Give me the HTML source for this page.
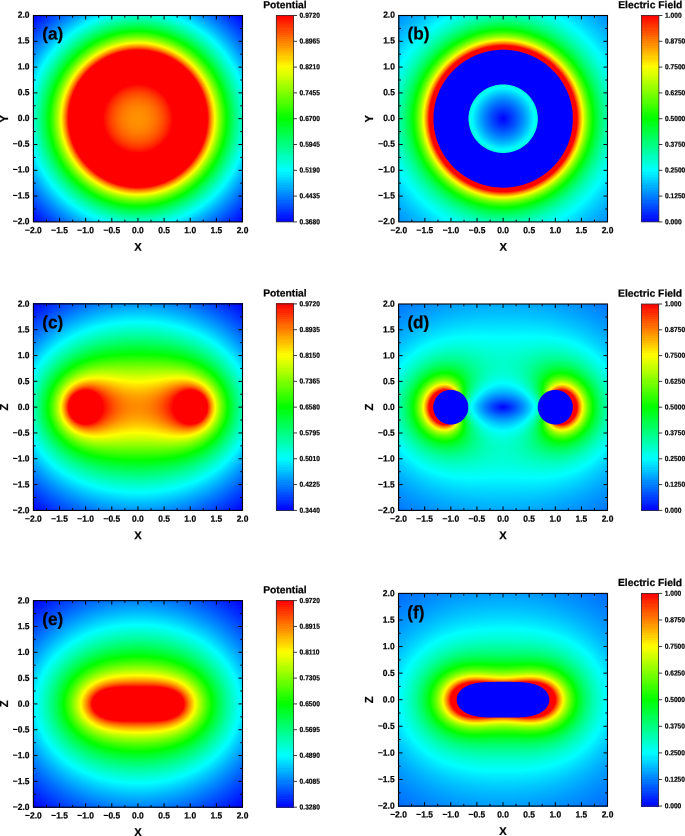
<!DOCTYPE html>
<html><head><meta charset="utf-8"><style>
html,body{margin:0;padding:0;background:#fff;}
body{width:685px;height:836px;position:relative;overflow:hidden;font-family:"Liberation Sans",sans-serif;}
#c{position:absolute;left:0;top:0;width:685px;height:836px;}
#s{position:absolute;left:0;top:0;}
#fb i{position:absolute;display:block;}
svg text{font-family:"Liberation Sans",sans-serif;font-weight:bold;fill:#000;stroke:#000;stroke-width:0.22px;}
</style></head><body>
<div id="fb">
<i style="top:15px;left:33px;width:210px;height:207px;background:radial-gradient(151.60px 149.64px at 104.95px 103.70px,#ff9200 0.00px,#ff8600 10.51px,#ff6700 20.01px,#ff3600 28.52px,#ff0000 35.02px,#ff0000 69.54px,#ff6400 72.05px,#ffd700 75.55px,#fcff00 77.05px,#8cff00 81.55px,#1eff00 87.06px,#03ff00 88.56px,#00ff4b 93.56px,#00ffb2 101.57px,#00feff 109.07px,#00a1ff 120.08px,#0048ff 133.59px,#0000ff 147.59px,#0000ff 151.60px)"></i>
<i style="top:15px;left:276px;width:18px;height:207px;background:linear-gradient(180deg,#ff0000 0.50px,#ffff00 52.10px,#00ff00 103.70px,#00ffff 155.30px,#0000ff 206.90px)"></i>
<i style="top:15px;left:398px;width:210px;height:207px;background:radial-gradient(151.31px 149.64px at 105.15px 103.70px,#0000ff 0.00px,#006eff 16.03px,#00c3ff 25.55px,#00feff 31.06px,#00ffdc 34.57px,#0000ff 35.07px,#0000ff 69.64px,#ff0000 70.14px,#ff0000 73.65px,#ff0c00 74.15px,#ff7400 76.15px,#ffdd00 78.66px,#fdff00 79.66px,#a0ff00 82.67px,#4aff00 86.18px,#05ff00 89.68px,#00ff0c 90.68px,#00ff5b 96.20px,#00ffa5 103.21px,#00ffe6 111.73px,#00feff 116.24px,#00c4ff 129.26px,#0092ff 146.80px,#0088ff 151.31px)"></i>
<i style="top:15px;left:641px;width:18px;height:207px;background:linear-gradient(180deg,#ff0000 0.50px,#ffff00 52.10px,#00ff00 103.70px,#00ffff 155.30px,#0000ff 206.90px)"></i>
<i style="top:303px;left:33px;width:210px;height:2px;background:linear-gradient(90deg,#0002ff 0.5px,#006dff 53.5px,#0093ff 89.5px,#0091ff 124.5px,#0065ff 161.5px,#0002ff 209.5px)"></i>
<i style="top:305px;left:33px;width:210px;height:2px;background:linear-gradient(90deg,#0008ff 0.5px,#0077ff 53.5px,#009dff 88.5px,#009cff 122.5px,#0073ff 158.5px,#0008ff 209.5px)"></i>
<i style="top:307px;left:33px;width:210px;height:2px;background:linear-gradient(90deg,#000eff 0.5px,#0080ff 53.5px,#00a8ff 88.5px,#00a7ff 122.5px,#007eff 157.5px,#000eff 209.5px)"></i>
<i style="top:309px;left:33px;width:210px;height:2px;background:linear-gradient(90deg,#0014ff 0.5px,#0088ff 52.5px,#00b1ff 86.5px,#00b3ff 120.5px,#008dff 154.5px,#0025ff 202.5px,#0014ff 209.5px)"></i>
<i style="top:311px;left:33px;width:210px;height:2px;background:linear-gradient(90deg,#001aff 0.5px,#0092ff 52.5px,#00bdff 86.5px,#00bfff 119.5px,#009bff 152.5px,#003bff 196.5px,#001aff 209.5px)"></i>
<i style="top:313px;left:33px;width:210px;height:2px;background:linear-gradient(90deg,#0020ff 0.5px,#009bff 51.5px,#00c7ff 84.5px,#00ccff 117.5px,#00a9ff 150.5px,#004fff 191.5px,#0020ff 209.5px)"></i>
<i style="top:315px;left:33px;width:210px;height:2px;background:linear-gradient(90deg,#0026ff 0.5px,#00a5ff 51.5px,#00d3ff 84.5px,#00d8ff 116.5px,#00b7ff 148.5px,#0061ff 187.5px,#0026ff 209.5px)"></i>
<i style="top:317px;left:33px;width:210px;height:2px;background:linear-gradient(90deg,#002dff 0.5px,#00aeff 50.5px,#00ddff 82.5px,#00e5ff 114.5px,#00c6ff 146.5px,#0077ff 182.5px,#002cff 209.5px)"></i>
<i style="top:319px;left:33px;width:210px;height:2px;background:linear-gradient(90deg,#0033ff 0.5px,#00b9ff 50.5px,#00e9ff 81.5px,#00f2ff 113.5px,#00d5ff 144.5px,#0088ff 179.5px,#0033ff 209.5px)"></i>
<i style="top:321px;left:33px;width:210px;height:2px;background:linear-gradient(90deg,#003aff 0.5px,#00c2ff 49.5px,#00f5ff 80.5px,#00fffe 110.5px,#00e9ff 139.5px,#00a7ff 171.5px,#0039ff 209.5px)"></i>
<i style="top:323px;left:33px;width:210px;height:2px;background:linear-gradient(90deg,#0040ff 0.5px,#00ceff 49.5px,#00fffe 78.5px,#00fff1 109.5px,#00f9ff 136.5px,#00bcff 167.5px,#0040ff 209.5px)"></i>
<i style="top:325px;left:33px;width:210px;height:2px;background:linear-gradient(90deg,#0047ff 0.5px,#00d7ff 48.5px,#00fffb 70.5px,#00ffe3 100.5px,#00fff0 130.5px,#00f9ff 145.5px,#00abff 177.5px,#0047ff 209.5px)"></i>
<i style="top:327px;left:33px;width:210px;height:2px;background:linear-gradient(90deg,#004eff 0.5px,#00e3ff 48.5px,#00fffc 62.5px,#00ffd8 91.5px,#00ffda 121.5px,#00faff 151.5px,#009dff 185.5px,#004dff 209.5px)"></i>
<i style="top:329px;left:33px;width:210px;height:2px;background:linear-gradient(90deg,#0055ff 0.5px,#00f0ff 48.5px,#00fff8 57.5px,#00ffce 85.5px,#00ffc9 115.5px,#00ffe9 144.5px,#00faff 157.5px,#0084ff 195.5px,#0054ff 209.5px)"></i>
<i style="top:331px;left:33px;width:210px;height:2px;background:linear-gradient(90deg,#005cff 0.5px,#00faff 47.5px,#00ffc4 80.5px,#00ffb8 110.5px,#00ffd2 139.5px,#00faff 162.5px,#005bff 209.5px)"></i>
<i style="top:333px;left:33px;width:210px;height:2px;background:linear-gradient(90deg,#0063ff 0.5px,#00feff 44.5px,#00ffc0 72.5px,#00ffa9 101.5px,#00ffb7 130.5px,#00ffea 157.5px,#00f8ff 167.5px,#0062ff 209.5px)"></i>
<i style="top:335px;left:33px;width:210px;height:2px;background:linear-gradient(90deg,#006aff 0.5px,#00fffc 41.5px,#00ffb9 67.5px,#00ff9b 95.5px,#00ffa2 125.5px,#00ffcc 151.5px,#00fbff 170.5px,#006aff 209.5px)"></i>
<i style="top:337px;left:33px;width:210px;height:2px;background:linear-gradient(90deg,#0071ff 0.5px,#00fffd 37.5px,#00ffb2 63.5px,#00ff8f 89.5px,#00ff8e 119.5px,#00ffb0 145.5px,#00fff9 171.5px,#00d8ff 183.5px,#0071ff 209.5px)"></i>
<i style="top:339px;left:33px;width:210px;height:2px;background:linear-gradient(90deg,#0079ff 0.5px,#00fffb 34.5px,#00ffa9 60.5px,#00ff82 85.5px,#00ff7c 115.5px,#00ff9a 142.5px,#00ffde 167.5px,#00fbff 177.5px,#0078ff 209.5px)"></i>
<i style="top:341px;left:33px;width:210px;height:2px;background:linear-gradient(90deg,#0080ff 0.5px,#00fffe 30.5px,#00ffa3 56.5px,#00ff76 80.5px,#00ff6a 110.5px,#00ff83 138.5px,#00ffbe 162.5px,#00fcff 180.5px,#0080ff 209.5px)"></i>
<i style="top:343px;left:33px;width:210px;height:2px;background:linear-gradient(90deg,#0088ff 0.5px,#00fffa 28.5px,#00ff99 54.5px,#00ff69 77.5px,#00ff59 106.5px,#00ff6c 134.5px,#00ff9f 157.5px,#00fbff 183.5px,#0087ff 209.5px)"></i>
<i style="top:345px;left:33px;width:210px;height:2px;background:linear-gradient(90deg,#008fff 0.5px,#00fffb 25.5px,#00ff91 51.5px,#00ff5d 73.5px,#00ff48 101.5px,#00ff56 131.5px,#00ff85 154.5px,#00ffe0 178.5px,#00f9ff 186.5px,#008fff 209.5px)"></i>
<i style="top:347px;left:33px;width:210px;height:2px;background:linear-gradient(90deg,#0097ff 0.5px,#00fffd 22.5px,#00ff87 49.5px,#00ff50 70.5px,#00ff37 97.5px,#00ff41 128.5px,#00ff6b 151.5px,#00ffbc 173.5px,#00fcff 188.5px,#0096ff 209.5px)"></i>
<i style="top:349px;left:33px;width:210px;height:2px;background:linear-gradient(90deg,#009fff 0.5px,#00fffb 20.5px,#00ff7d 47.5px,#00ff43 67.5px,#00ff27 92.5px,#00ff2c 124.5px,#00ff4f 147.5px,#00ff92 167.5px,#00fdff 190.5px,#009eff 209.5px)"></i>
<i style="top:351px;left:33px;width:210px;height:2px;background:linear-gradient(90deg,#00a6ff 0.5px,#00fffa 18.5px,#00ff70 46.5px,#00ff35 65.5px,#00ff17 89.5px,#00ff19 123.5px,#00ff39 146.5px,#00ff78 165.5px,#00feff 192.5px,#00a6ff 209.5px)"></i>
<i style="top:353px;left:33px;width:210px;height:2px;background:linear-gradient(90deg,#00aeff 0.5px,#00ffff 15.5px,#00ff62 45.5px,#00ff23 64.5px,#00ff05 87.5px,#00ff05 122.5px,#00ff24 145.5px,#00ff62 164.5px,#00feff 194.5px,#00aeff 209.5px)"></i>
<i style="top:355px;left:33px;width:210px;height:2px;background:linear-gradient(90deg,#00b6ff 0.5px,#00fffa 14.5px,#00ff54 44.5px,#00ff14 62.5px,#04ff00 75.5px,#12ff00 107.5px,#00ff05 140.5px,#00ff36 158.5px,#00ff97 178.5px,#00feff 196.5px,#00b6ff 209.5px)"></i>
<i style="top:357px;left:33px;width:210px;height:2px;background:linear-gradient(90deg,#00beff 0.5px,#00fffb 12.5px,#00ff45 43.5px,#00ff04 60.5px,#20ff00 85.5px,#1fff00 125.5px,#03ff00 146.5px,#00ff26 159.5px,#00ff8d 179.5px,#00fdff 198.5px,#00bdff 209.5px)"></i>
<i style="top:359px;left:33px;width:210px;height:2px;background:linear-gradient(90deg,#00c6ff 0.5px,#00fffc 10.5px,#00ff31 43.5px,#02ff00 55.5px,#29ff00 72.5px,#37ff00 104.5px,#2aff00 136.5px,#05ff00 153.5px,#00ff15 160.5px,#00ff7d 179.5px,#00fbff 200.5px,#00c5ff 209.5px)"></i>
<i style="top:361px;left:33px;width:210px;height:2px;background:linear-gradient(90deg,#00ceff 0.5px,#00ffff 8.5px,#00ff1c 43.5px,#06ff00 50.5px,#34ff00 65.5px,#49ff00 88.5px,#42ff00 133.5px,#22ff00 151.5px,#00ff04 161.5px,#00ff73 180.5px,#00feff 201.5px,#00cdff 209.5px)"></i>
<i style="top:363px;left:33px;width:210px;height:2px;background:linear-gradient(90deg,#00d6ff 0.5px,#00fffc 7.5px,#00ff0c 42.5px,#04ff00 45.5px,#3dff00 59.5px,#59ff00 77.5px,#59ff00 132.5px,#3dff00 150.5px,#00ff02 165.5px,#00ff9b 188.5px,#00fbff 203.5px,#00d5ff 209.5px)"></i>
<i style="top:365px;left:33px;width:210px;height:2px;background:linear-gradient(90deg,#00deff 0.5px,#00feff 5.5px,#00ff02 40.5px,#49ff00 55.5px,#69ff00 70.5px,#70ff00 121.5px,#62ff00 144.5px,#39ff00 158.5px,#00ff03 169.5px,#00feff 204.5px,#00ddff 209.5px)"></i>
<i style="top:367px;left:33px;width:210px;height:2px;background:linear-gradient(90deg,#00e5ff 0.5px,#00fffd 4.5px,#00ff01 37.5px,#53ff00 51.5px,#79ff00 64.5px,#85ff00 87.5px,#7fff00 141.5px,#5fff00 155.5px,#1aff00 168.5px,#00ff01 172.5px,#00fffe 205.5px,#00e5ff 209.5px)"></i>
<i style="top:369px;left:33px;width:210px;height:2px;background:linear-gradient(90deg,#00edff 0.5px,#00fffc 3.5px,#00ff34 28.5px,#00ff02 34.5px,#64ff00 49.5px,#8eff00 61.5px,#9aff00 79.5px,#95ff00 143.5px,#76ff00 156.5px,#33ff00 168.5px,#00ff03 175.5px,#00fff5 205.5px,#00edff 209.5px)"></i>
<i style="top:371px;left:33px;width:210px;height:2px;background:linear-gradient(90deg,#00f5ff 0.5px,#00fff3 3.5px,#00ff3c 25.5px,#03ff00 32.5px,#6fff00 46.5px,#a0ff00 57.5px,#b1ff00 71.5px,#acff00 119.5px,#adff00 145.5px,#8eff00 157.5px,#4cff00 168.5px,#02ff00 177.5px,#00ffe5 204.5px,#00fbff 208.5px,#00f4ff 209.5px)"></i>
<i style="top:373px;left:33px;width:210px;height:2px;background:linear-gradient(90deg,#00fcff 0.5px,#00ff7f 16.5px,#00ff04 29.5px,#85ff00 45.5px,#b7ff00 55.5px,#caff00 67.5px,#bdff00 113.5px,#c8ff00 145.5px,#b0ff00 156.5px,#77ff00 166.5px,#00ff05 180.5px,#00ffcd 202.5px,#00fcff 209.5px)"></i>
<i style="top:375px;left:33px;width:210px;height:2px;background:linear-gradient(90deg,#00fffa 0.5px,#00ff5f 18.5px,#00ff04 27.5px,#9dff00 44.5px,#d0ff00 53.5px,#e5ff00 64.5px,#ceff00 108.5px,#e3ff00 147.5px,#ccff00 157.5px,#94ff00 166.5px,#00ff05 182.5px,#00ffbb 201.5px,#00fffb 209.5px)"></i>
<i style="top:377px;left:33px;width:210px;height:2px;background:linear-gradient(90deg,#00fff3 0.5px,#00ff5b 17.5px,#05ff00 26.5px,#acff00 42.5px,#e9ff00 51.5px,#fffe00 59.5px,#f6ff00 76.5px,#dfff00 104.5px,#f3ff00 131.5px,#fffd00 148.5px,#f1ff00 156.5px,#bcff00 165.5px,#3bff00 178.5px,#04ff00 183.5px,#00ffc3 203.5px,#00fff4 209.5px)"></i>
<i style="top:379px;left:33px;width:210px;height:2px;background:linear-gradient(90deg,#00ffec 0.5px,#00ff58 16.5px,#01ff00 24.5px,#cdff00 42.5px,#fdff00 48.5px,#ffdf00 57.5px,#ffe700 70.5px,#faff00 88.5px,#f2ff00 111.5px,#fffa00 128.5px,#ffdd00 149.5px,#ffed00 157.5px,#fdff00 161.5px,#aeff00 170.5px,#00ff01 185.5px,#00ffa8 201.5px,#00ffed 209.5px)"></i>
<i style="top:381px;left:33px;width:210px;height:2px;background:linear-gradient(90deg,#00ffe5 0.5px,#00ff56 15.5px,#00ff06 22.5px,#38ff00 27.5px,#f1ff00 42.5px,#fffa00 44.5px,#ffc900 51.5px,#ffba00 59.5px,#fff900 95.5px,#fff800 116.5px,#ffba00 150.5px,#ffca00 158.5px,#faff00 166.5px,#5dff00 179.5px,#05ff00 186.5px,#00ffbb 204.5px,#00ffe6 209.5px)"></i>
<i style="top:383px;left:33px;width:210px;height:1px;background:linear-gradient(90deg,#00ffe0 0.5px,#00ff58 14.5px,#00ff06 21.5px,#2dff00 25.5px,#f6ff00 40.5px,#fff100 42.5px,#ffb400 49.5px,#ff9e00 56.5px,#ffb100 67.5px,#ffe700 90.5px,#fff000 110.5px,#ffd200 130.5px,#ff9e00 151.5px,#ffaa00 158.5px,#ffdd00 165.5px,#fffd00 168.5px,#05ff00 187.5px,#00ffb5 204.5px,#00ffe1 209.5px)"></i>
<i style="top:384px;left:33px;width:210px;height:1px;background:linear-gradient(90deg,#00ffdd 0.5px,#00ff53 14.5px,#02ff00 21.5px,#fcff00 39.5px,#ffac00 47.5px,#ff8d00 53.5px,#ff9100 61.5px,#ffda00 87.5px,#ffea00 106.5px,#ffd400 125.5px,#ff8b00 151.5px,#ff9400 158.5px,#ffbe00 164.5px,#faff00 170.5px,#00ff00 188.5px,#00ff94 201.5px,#00ffde 209.5px)"></i>
<i style="top:385px;left:33px;width:210px;height:1px;background:linear-gradient(90deg,#00ffda 0.5px,#00ff4d 14.5px,#00ff04 20.5px,#89ff00 30.5px,#fffe00 38.5px,#ffa700 45.5px,#ff7d00 51.5px,#ff7800 58.5px,#ffcf00 86.5px,#ffe200 104.5px,#ffd100 122.5px,#ff9400 142.5px,#ff7500 153.5px,#ff8200 159.5px,#ffb200 165.5px,#ffff00 171.5px,#08ff00 188.5px,#00ff12 190.5px,#00ffa4 203.5px,#00ffdb 209.5px)"></i>
<i style="top:386px;left:33px;width:210px;height:1px;background:linear-gradient(90deg,#00ffd7 0.5px,#00ff54 13.5px,#04ff00 20.5px,#d4ff00 34.5px,#fffb00 37.5px,#ff8f00 45.5px,#ff6900 50.5px,#ff5f00 56.5px,#ff9700 71.5px,#ffcb00 88.5px,#ffdb00 106.5px,#ffc400 124.5px,#ff8600 142.5px,#ff5f00 153.5px,#ff6900 159.5px,#ff9000 164.5px,#fffc00 172.5px,#02ff00 189.5px,#00ffa0 203.5px,#00ffd8 209.5px)"></i>
<i style="top:387px;left:33px;width:210px;height:1px;background:linear-gradient(90deg,#00ffd4 0.5px,#00ff4f 13.5px,#00ff03 19.5px,#91ff00 29.5px,#f4ff00 35.5px,#fff900 36.5px,#ff8200 44.5px,#ff5400 49.5px,#ff4700 54.5px,#ff6000 62.5px,#ffae00 80.5px,#ffd100 97.5px,#ffcf00 114.5px,#ffa700 131.5px,#ff4900 153.5px,#ff4b00 158.5px,#ff6d00 163.5px,#ffbb00 169.5px,#fffb00 173.5px,#09ff00 189.5px,#00ff11 191.5px,#00ff9c 203.5px,#00ffd5 209.5px)"></i>
<i style="top:388px;left:33px;width:210px;height:1px;background:linear-gradient(90deg,#00ffd2 0.5px,#00ff4a 13.5px,#04ff00 19.5px,#aeff00 30.5px,#fff900 35.5px,#ff7600 43.5px,#ff4000 48.5px,#ff2d00 53.5px,#ff4300 60.5px,#ff9e00 78.5px,#ffc600 94.5px,#ffcb00 111.5px,#ffab00 127.5px,#ff6a00 142.5px,#ff3100 153.5px,#ff3000 158.5px,#ff5300 163.5px,#ffa500 169.5px,#fffb00 174.5px,#1fff00 188.5px,#03ff00 190.5px,#00ff99 203.5px,#00ffd3 209.5px)"></i>
<i style="top:389px;left:33px;width:210px;height:1px;background:linear-gradient(90deg,#00ffcf 0.5px,#00ff51 12.5px,#00ff04 18.5px,#76ff00 26.5px,#fffb00 34.5px,#ff5d00 43.5px,#ff2300 48.5px,#ff1200 52.5px,#ff2400 58.5px,#ff8800 75.5px,#ffb900 90.5px,#ffc700 106.5px,#ffb200 122.5px,#ff7900 137.5px,#ff1600 154.5px,#ff1700 159.5px,#ff3600 163.5px,#ff8f00 169.5px,#fffc00 175.5px,#35ff00 187.5px,#00ff05 191.5px,#00ff8b 202.5px,#00ffd0 209.5px)"></i>
<i style="top:390px;left:33px;width:210px;height:1px;background:linear-gradient(90deg,#00ffcc 0.5px,#00ff4d 12.5px,#02ff00 18.5px,#a3ff00 28.5px,#fffe00 33.5px,#ff4100 43.5px,#ff0000 48.5px,#ff0000 57.5px,#ff2c00 62.5px,#ff7f00 75.5px,#ffb000 89.5px,#ffc100 105.5px,#ffad00 121.5px,#ff7900 135.5px,#ff2300 148.5px,#ff0000 152.5px,#ff0000 161.5px,#ff5400 167.5px,#feff00 176.5px,#4cff00 186.5px,#01ff00 191.5px,#00ff92 203.5px,#00ffcd 209.5px)"></i>
<i style="top:391px;left:33px;width:210px;height:1px;background:linear-gradient(90deg,#00ffca 0.5px,#00ff48 12.5px,#00ff06 17.5px,#26ff00 20.5px,#c0ff00 29.5px,#fbff00 32.5px,#ff2500 43.5px,#ff0000 45.5px,#ff0000 59.5px,#ff5f00 71.5px,#ff9b00 84.5px,#ffb900 99.5px,#ffb300 115.5px,#ff8800 130.5px,#ff4300 142.5px,#ff0000 150.5px,#ff0000 164.5px,#fff100 176.5px,#f9ff00 177.5px,#54ff00 186.5px,#07ff00 191.5px,#00ff23 194.5px,#00ffa4 205.5px,#00ffcb 209.5px)"></i>
<i style="top:392px;left:33px;width:210px;height:1px;background:linear-gradient(90deg,#00ffc8 0.5px,#00ff44 12.5px,#00ff01 17.5px,#92ff00 26.5px,#f4ff00 31.5px,#fff500 32.5px,#ff0000 43.5px,#ff0000 61.5px,#ff5500 71.5px,#ff9100 83.5px,#ffb200 98.5px,#ffae00 114.5px,#ff8900 128.5px,#ff4600 140.5px,#ff0000 148.5px,#ff0000 166.5px,#ff4700 169.5px,#fff700 177.5px,#deff00 179.5px,#3bff00 188.5px,#00ff02 192.5px,#00ff8c 203.5px,#00ffc9 209.5px)"></i>
<i style="top:393px;left:33px;width:210px;height:1px;background:linear-gradient(90deg,#00ffc6 0.5px,#00ff40 12.5px,#04ff00 17.5px,#9bff00 26.5px,#fffd00 31.5px,#ff0000 42.5px,#ff0000 63.5px,#ff2c00 67.5px,#ff6f00 77.5px,#ff9f00 90.5px,#ffb000 105.5px,#ff9d00 120.5px,#ff6a00 133.5px,#ff2200 143.5px,#ff0000 146.5px,#ff0000 167.5px,#ffff00 178.5px,#63ff00 186.5px,#03ff00 192.5px,#00ff94 204.5px,#00ffc6 209.5px)"></i>
<i style="top:394px;left:33px;width:210px;height:1px;background:linear-gradient(90deg,#00ffc3 0.5px,#00ff4a 11.5px,#00ff06 16.5px,#38ff00 20.5px,#ccff00 28.5px,#f7ff00 30.5px,#ffd900 32.5px,#ff1000 40.5px,#ff0000 41.5px,#ff0000 64.5px,#ff4200 71.5px,#ff8000 82.5px,#ffa500 96.5px,#ffa800 111.5px,#ff8700 125.5px,#ff4900 137.5px,#ff0d00 144.5px,#ff0000 145.5px,#ff0000 168.5px,#ff4600 171.5px,#fff200 178.5px,#f5ff00 179.5px,#58ff00 187.5px,#08ff00 192.5px,#00ff15 194.5px,#00ff9c 205.5px,#00ffc4 209.5px)"></i>
<i style="top:395px;left:33px;width:210px;height:1px;background:linear-gradient(90deg,#00ffc2 0.5px,#00ff46 11.5px,#00ff01 16.5px,#85ff00 24.5px,#fffb00 30.5px,#ff4900 37.5px,#ff1100 39.5px,#ff0000 40.5px,#ff0000 65.5px,#ff4200 72.5px,#ff7e00 83.5px,#ffa200 97.5px,#ffa200 112.5px,#ff7d00 126.5px,#ff4100 137.5px,#ff0000 144.5px,#ff0000 169.5px,#ff3000 171.5px,#ffe600 178.5px,#fffd00 179.5px,#5fff00 187.5px,#00ff03 193.5px,#00ff84 203.5px,#00ffc3 209.5px)"></i>
<i style="top:396px;left:33px;width:210px;height:1px;background:linear-gradient(90deg,#00ffc0 0.5px,#00ff43 11.5px,#03ff00 16.5px,#8cff00 24.5px,#f6ff00 29.5px,#ffd800 31.5px,#ff1600 38.5px,#ff0000 39.5px,#ff0000 66.5px,#ff3a00 72.5px,#ff7800 83.5px,#ff9e00 97.5px,#ff9d00 112.5px,#ff7800 126.5px,#ff3900 137.5px,#ff0000 143.5px,#ff0000 170.5px,#ffda00 178.5px,#fff300 179.5px,#f4ff00 180.5px,#64ff00 187.5px,#01ff00 193.5px,#00ff8d 204.5px,#00ffc1 209.5px)"></i>
<i style="top:397px;left:33px;width:210px;height:1px;background:linear-gradient(90deg,#00ffbe 0.5px,#00ff41 11.5px,#00ff09 15.5px,#16ff00 17.5px,#a7ff00 25.5px,#fffe00 29.5px,#ff5d00 35.5px,#ff0000 38.5px,#ff0000 66.5px,#ff4f00 76.5px,#ff8600 88.5px,#ff9e00 102.5px,#ff9200 116.5px,#ff6500 129.5px,#ff2200 139.5px,#ff0000 143.5px,#ff0000 171.5px,#ff9900 176.5px,#fdff00 180.5px,#6aff00 187.5px,#05ff00 193.5px,#00ff96 205.5px,#00ffbf 209.5px)"></i>
<i style="top:398px;left:33px;width:210px;height:1px;background:linear-gradient(90deg,#00ffbd 0.5px,#00ff3e 11.5px,#00ff05 15.5px,#3bff00 19.5px,#c3ff00 26.5px,#f1ff00 28.5px,#fff500 29.5px,#ff6c00 34.5px,#ff2c00 36.5px,#ff0000 37.5px,#ff0000 67.5px,#ff4a00 76.5px,#ff8200 88.5px,#ff9a00 102.5px,#ff8f00 116.5px,#ff6000 129.5px,#ff1c00 139.5px,#ff0000 142.5px,#ff0000 171.5px,#ff0e00 172.5px,#ffa900 177.5px,#fff800 180.5px,#c1ff00 183.5px,#39ff00 190.5px,#08ff00 193.5px,#00ff16 195.5px,#00ff94 205.5px,#00ffbe 209.5px)"></i>
<i style="top:399px;left:33px;width:210px;height:1px;background:linear-gradient(90deg,#00ffbb 0.5px,#00ff3c 11.5px,#00ff03 15.5px,#76ff00 22.5px,#f8ff00 28.5px,#ffd300 30.5px,#ff3d00 35.5px,#ff0000 37.5px,#ff0400 68.5px,#ff4b00 77.5px,#ff8100 89.5px,#ff9700 103.5px,#ff8900 117.5px,#ff5c00 129.5px,#ff1600 139.5px,#ff0000 141.5px,#ff0000 172.5px,#ffba00 178.5px,#ffef00 180.5px,#f6ff00 181.5px,#74ff00 187.5px,#0bff00 193.5px,#00ff04 194.5px,#00ff87 204.5px,#00ffbc 209.5px)"></i>
<i style="top:400px;left:33px;width:210px;height:1px;background:linear-gradient(90deg,#00ffba 0.5px,#00ff3a 11.5px,#00ff00 15.5px,#7aff00 22.5px,#ffff00 28.5px,#ff7200 33.5px,#ff2f00 35.5px,#ff0000 36.5px,#ff0000 68.5px,#ff4d00 78.5px,#ff8100 90.5px,#ff9500 104.5px,#ff8300 118.5px,#ff5300 130.5px,#ff0800 140.5px,#ff0000 142.5px,#ff0000 172.5px,#ff0f00 173.5px,#ffb100 178.5px,#fdff00 181.5px,#78ff00 187.5px,#00ff01 194.5px,#00ff86 204.5px,#00ffbb 209.5px)"></i>
<i style="top:401px;left:33px;width:210px;height:1px;background:linear-gradient(90deg,#00ffb9 0.5px,#00ff38 11.5px,#02ff00 15.5px,#7dff00 22.5px,#ecff00 27.5px,#fff900 28.5px,#ff6800 33.5px,#ff0000 36.5px,#ff0000 68.5px,#ff5500 80.5px,#ff8400 92.5px,#ff9200 106.5px,#ff7b00 120.5px,#ff4300 132.5px,#ff0000 141.5px,#ff0000 173.5px,#ff8b00 177.5px,#fffb00 181.5px,#68ff00 188.5px,#01ff00 194.5px,#00ff84 204.5px,#00ffba 209.5px)"></i>
<i style="top:402px;left:33px;width:210px;height:1px;background:linear-gradient(90deg,#00ffb8 0.5px,#00ff36 11.5px,#04ff00 15.5px,#80ff00 22.5px,#f1ff00 27.5px,#fff400 28.5px,#ff5f00 33.5px,#ff1700 35.5px,#ff0000 36.5px,#ff0000 69.5px,#ff4700 78.5px,#ff7c00 90.5px,#ff9000 104.5px,#ff7e00 118.5px,#ff4c00 130.5px,#ff0b00 139.5px,#ff0000 140.5px,#ff0000 173.5px,#ff1a00 174.5px,#ffa200 178.5px,#fff600 181.5px,#d6ff00 183.5px,#58ff00 189.5px,#03ff00 194.5px,#00ff8f 205.5px,#00ffb9 209.5px)"></i>
<i style="top:403px;left:33px;width:210px;height:1px;background:linear-gradient(90deg,#00ffb8 0.5px,#00ff35 11.5px,#06ff00 15.5px,#83ff00 22.5px,#f5ff00 27.5px,#ffef00 28.5px,#ff7900 32.5px,#ff0d00 35.5px,#ff0000 36.5px,#ff0000 69.5px,#ff4b00 79.5px,#ff7d00 91.5px,#ff8f00 105.5px,#ff7a00 119.5px,#ff4400 131.5px,#ff0000 140.5px,#ff0000 173.5px,#ff1100 174.5px,#ff9c00 178.5px,#fff200 181.5px,#f2ff00 182.5px,#6dff00 188.5px,#04ff00 194.5px,#00ff99 206.5px,#00ffb9 209.5px)"></i>
<i style="top:404px;left:33px;width:210px;height:1px;background:linear-gradient(90deg,#00ffb7 0.5px,#00ff42 10.5px,#00ff09 14.5px,#17ff00 16.5px,#9aff00 23.5px,#f8ff00 27.5px,#ffd000 29.5px,#ff5100 33.5px,#ff0000 35.5px,#ff0000 69.5px,#ff4f00 80.5px,#ff7e00 92.5px,#ff8d00 106.5px,#ff7800 119.5px,#ff4200 131.5px,#ff0000 140.5px,#ff0000 174.5px,#ff3000 175.5px,#ffb600 179.5px,#ffef00 181.5px,#f5ff00 182.5px,#6fff00 188.5px,#05ff00 194.5px,#00ff98 206.5px,#00ffb8 209.5px)"></i>
<i style="top:405px;left:33px;width:210px;height:1px;background:linear-gradient(90deg,#00ffb7 0.5px,#00ff41 10.5px,#00ff08 14.5px,#18ff00 16.5px,#9bff00 23.5px,#faff00 27.5px,#ffb000 30.5px,#ff2800 34.5px,#ff0000 35.5px,#ff0000 69.5px,#ff5300 81.5px,#ff8000 93.5px,#ff8c00 107.5px,#ff7400 120.5px,#ff3b00 132.5px,#ff0000 140.5px,#ff0000 174.5px,#ff5100 176.5px,#ffd100 180.5px,#f7ff00 182.5px,#70ff00 188.5px,#06ff00 194.5px,#00ff43 199.5px,#00ffb8 209.5px)"></i>
<i style="top:406px;left:33px;width:210px;height:1px;background:linear-gradient(90deg,#00ffb7 0.5px,#00ff41 10.5px,#00ff07 14.5px,#18ff00 16.5px,#9cff00 23.5px,#fbff00 27.5px,#ffaf00 30.5px,#ff2600 34.5px,#ff0000 35.5px,#ff0000 69.5px,#ff5200 81.5px,#ff7f00 93.5px,#ff8c00 107.5px,#ff7400 120.5px,#ff3a00 132.5px,#ff0000 140.5px,#ff0000 174.5px,#ff7200 177.5px,#ffeb00 181.5px,#f8ff00 182.5px,#71ff00 188.5px,#07ff00 194.5px,#00ff35 198.5px,#00ffad 208.5px,#00ffb8 209.5px)"></i>
<i style="top:407px;left:33px;width:210px;height:1px;background:linear-gradient(90deg,#00ffb7 0.5px,#00ff41 10.5px,#00ff07 14.5px,#18ff00 16.5px,#9cff00 23.5px,#fbff00 27.5px,#ffaf00 30.5px,#ff2500 34.5px,#ff0000 35.5px,#ff0500 70.5px,#ff5200 81.5px,#ff7f00 93.5px,#ff8b00 107.5px,#ff7400 120.5px,#ff3a00 132.5px,#ff0000 140.5px,#ff0000 174.5px,#ff7200 177.5px,#ffeb00 181.5px,#f8ff00 182.5px,#71ff00 188.5px,#07ff00 194.5px,#00ff35 198.5px,#00ffad 208.5px,#00ffb8 209.5px)"></i>
<i style="top:408px;left:33px;width:210px;height:1px;background:linear-gradient(90deg,#00ffb7 0.5px,#00ff41 10.5px,#00ff08 14.5px,#18ff00 16.5px,#9cff00 23.5px,#faff00 27.5px,#ffb000 30.5px,#ff2700 34.5px,#ff0000 35.5px,#ff0000 69.5px,#ff5300 81.5px,#ff7f00 93.5px,#ff8c00 107.5px,#ff7400 120.5px,#ff3b00 132.5px,#ff0000 140.5px,#ff0000 174.5px,#ff7300 177.5px,#ffec00 181.5px,#f8ff00 182.5px,#70ff00 188.5px,#06ff00 194.5px,#00ff35 198.5px,#00ffad 208.5px,#00ffb8 209.5px)"></i>
<i style="top:409px;left:33px;width:210px;height:1px;background:linear-gradient(90deg,#00ffb7 0.5px,#00ff42 10.5px,#00ff08 14.5px,#17ff00 16.5px,#9aff00 23.5px,#f8ff00 27.5px,#ffd000 29.5px,#ff5000 33.5px,#ff0000 35.5px,#ff0000 69.5px,#ff5400 81.5px,#ff8000 93.5px,#ff8d00 107.5px,#ff7500 120.5px,#ff3c00 132.5px,#ff0000 140.5px,#ff0000 174.5px,#ff2f00 175.5px,#ffb500 179.5px,#ffee00 181.5px,#f6ff00 182.5px,#6fff00 188.5px,#06ff00 194.5px,#00ff6a 202.5px,#00ffb8 209.5px)"></i>
<i style="top:410px;left:33px;width:210px;height:1px;background:linear-gradient(90deg,#00ffb7 0.5px,#00ff43 10.5px,#06ff00 15.5px,#84ff00 22.5px,#f6ff00 27.5px,#ffee00 28.5px,#ff7700 32.5px,#ff3100 34.5px,#ff0000 35.5px,#ff0000 69.5px,#ff5000 80.5px,#ff7f00 92.5px,#ff8e00 106.5px,#ff7900 119.5px,#ff4400 131.5px,#ff0000 140.5px,#ff0000 173.5px,#ff0e00 174.5px,#ff9b00 178.5px,#fff100 181.5px,#f3ff00 182.5px,#6eff00 188.5px,#05ff00 194.5px,#00ff99 206.5px,#00ffb9 209.5px)"></i>
<i style="top:411px;left:33px;width:210px;height:1px;background:linear-gradient(90deg,#00ffb8 0.5px,#00ff36 11.5px,#05ff00 15.5px,#81ff00 22.5px,#f2ff00 27.5px,#fff200 28.5px,#ff5c00 33.5px,#ff1300 35.5px,#ff0000 36.5px,#ff0000 69.5px,#ff4600 78.5px,#ff7b00 90.5px,#ff9000 104.5px,#ff7e00 118.5px,#ff4c00 130.5px,#ff0000 140.5px,#ff0000 173.5px,#ff1700 174.5px,#ffa000 178.5px,#fff500 181.5px,#efff00 182.5px,#6cff00 188.5px,#03ff00 194.5px,#00ff8e 205.5px,#00ffb9 209.5px)"></i>
<i style="top:412px;left:33px;width:210px;height:1px;background:linear-gradient(90deg,#00ffb9 0.5px,#00ff38 11.5px,#03ff00 15.5px,#7eff00 22.5px,#eeff00 27.5px,#fff700 28.5px,#ff6500 33.5px,#ff0000 36.5px,#ff0400 69.5px,#ff4f00 79.5px,#ff8000 91.5px,#ff9200 105.5px,#ff7d00 119.5px,#ff4800 131.5px,#ff0000 141.5px,#ff0000 173.5px,#ffa700 178.5px,#fffa00 181.5px,#56ff00 189.5px,#01ff00 194.5px,#00ff84 204.5px,#00ffba 209.5px)"></i>
<i style="top:413px;left:33px;width:210px;height:1px;background:linear-gradient(90deg,#00ffba 0.5px,#00ff39 11.5px,#01ff00 15.5px,#7bff00 22.5px,#fffd00 28.5px,#ff6f00 33.5px,#ff2b00 35.5px,#ff0000 36.5px,#ff0000 68.5px,#ff4c00 78.5px,#ff8000 90.5px,#ff9400 104.5px,#ff8300 118.5px,#ff5200 130.5px,#ff0000 141.5px,#ff0000 173.5px,#ff2e00 174.5px,#ffcb00 179.5px,#feff00 181.5px,#79ff00 187.5px,#00ff01 194.5px,#00ff85 204.5px,#00ffbb 209.5px)"></i>
<i style="top:414px;left:33px;width:210px;height:1px;background:linear-gradient(90deg,#00ffbb 0.5px,#00ff3b 11.5px,#00ff02 15.5px,#77ff00 22.5px,#faff00 28.5px,#ffb500 31.5px,#ff1600 36.5px,#ff0000 37.5px,#ff0000 68.5px,#ff3d00 75.5px,#ff7600 86.5px,#ff9400 99.5px,#ff9000 113.5px,#ff6900 126.5px,#ff2600 137.5px,#ff0000 141.5px,#ff0000 172.5px,#ff3c00 174.5px,#ffd300 179.5px,#f8ff00 181.5px,#75ff00 187.5px,#0cff00 193.5px,#00ff03 194.5px,#00ff87 204.5px,#00ffbc 209.5px)"></i>
<i style="top:415px;left:33px;width:210px;height:1px;background:linear-gradient(90deg,#00ffbc 0.5px,#00ff3d 11.5px,#00ff05 15.5px,#4dff00 20.5px,#dbff00 27.5px,#f3ff00 28.5px,#fff300 29.5px,#ff6700 34.5px,#ff0000 37.5px,#ff0000 67.5px,#ff4f00 77.5px,#ff8400 89.5px,#ff9a00 103.5px,#ff8b00 117.5px,#ff5f00 129.5px,#ff1a00 139.5px,#ff0000 142.5px,#ff0000 172.5px,#ff4b00 174.5px,#ffdc00 179.5px,#fff500 180.5px,#d9ff00 182.5px,#4cff00 189.5px,#09ff00 193.5px,#00ff15 195.5px,#00ff93 205.5px,#00ffbd 209.5px)"></i>
<i style="top:416px;left:33px;width:210px;height:1px;background:linear-gradient(90deg,#00ffbe 0.5px,#00ff40 11.5px,#00ff08 15.5px,#17ff00 17.5px,#a9ff00 25.5px,#fffb00 29.5px,#ff5800 35.5px,#ff0000 38.5px,#ff0400 67.5px,#ff4e00 76.5px,#ff8500 88.5px,#ff9d00 102.5px,#ff9100 116.5px,#ff6400 129.5px,#ff2000 139.5px,#ff0000 142.5px,#ff0000 171.5px,#ffcc00 178.5px,#fffe00 180.5px,#6bff00 187.5px,#06ff00 193.5px,#00ff4e 199.5px,#00ffbf 209.5px)"></i>
<i style="top:417px;left:33px;width:210px;height:1px;background:linear-gradient(90deg,#00ffbf 0.5px,#00ff43 11.5px,#04ff00 16.5px,#8eff00 24.5px,#f9ff00 29.5px,#ffbb00 32.5px,#ff0f00 38.5px,#ff0000 39.5px,#ff0000 66.5px,#ff4600 74.5px,#ff8200 86.5px,#ff9f00 100.5px,#ff9700 115.5px,#ff6e00 128.5px,#ff3000 138.5px,#ff0000 143.5px,#ff0000 170.5px,#ff1200 171.5px,#ffbd00 177.5px,#ffef00 179.5px,#f7ff00 180.5px,#66ff00 187.5px,#02ff00 193.5px,#00ff8c 204.5px,#00ffc0 209.5px)"></i>
<i style="top:418px;left:33px;width:210px;height:1px;background:linear-gradient(90deg,#00ffc1 0.5px,#00ff46 11.5px,#00ff00 16.5px,#87ff00 24.5px,#efff00 29.5px,#fff800 30.5px,#ff4200 37.5px,#ff0000 39.5px,#ff0000 65.5px,#ff4600 73.5px,#ff8400 85.5px,#ffa300 99.5px,#ff9d00 114.5px,#ff7800 127.5px,#ff3700 138.5px,#ff0000 144.5px,#ff0000 170.5px,#ff2900 171.5px,#ffe300 178.5px,#fffa00 179.5px,#4fff00 188.5px,#00ff02 193.5px,#00ff83 203.5px,#00ffc2 209.5px)"></i>
<i style="top:419px;left:33px;width:210px;height:1px;background:linear-gradient(90deg,#00ffc3 0.5px,#00ff49 11.5px,#00ff04 16.5px,#5cff00 22.5px,#fbff00 30.5px,#ff8b00 35.5px,#ff2200 39.5px,#ff0000 40.5px,#ff0000 64.5px,#ff4e00 73.5px,#ff8900 85.5px,#ffa700 99.5px,#ffa200 114.5px,#ff7900 128.5px,#ff3700 139.5px,#ff0000 145.5px,#ff0000 169.5px,#ff2500 170.5px,#ffef00 178.5px,#f9ff00 179.5px,#5aff00 187.5px,#09ff00 192.5px,#00ff14 194.5px,#00ff9b 205.5px,#00ffc4 209.5px)"></i>
<i style="top:420px;left:33px;width:210px;height:1px;background:linear-gradient(90deg,#00ffc5 0.5px,#00ff3f 12.5px,#06ff00 17.5px,#9eff00 26.5px,#fff900 31.5px,#ff2300 40.5px,#ff0000 41.5px,#ff0000 63.5px,#ff4900 71.5px,#ff8800 83.5px,#ffaa00 97.5px,#ffaa00 112.5px,#ff8800 126.5px,#ff4800 138.5px,#ff0000 146.5px,#ff0000 167.5px,#ff0d00 168.5px,#fffb00 178.5px,#54ff00 187.5px,#04ff00 192.5px,#00ff9e 205.5px,#00ffc6 209.5px)"></i>
<i style="top:421px;left:33px;width:210px;height:1px;background:linear-gradient(90deg,#00ffc7 0.5px,#00ff43 12.5px,#01ff00 17.5px,#95ff00 26.5px,#f8ff00 31.5px,#ffdb00 33.5px,#ff0000 43.5px,#ff0000 62.5px,#ff2c00 66.5px,#ff7500 77.5px,#ffa600 91.5px,#ffb400 106.5px,#ff9e00 121.5px,#ff6a00 134.5px,#ff2200 144.5px,#ff0000 147.5px,#ff0000 166.5px,#fff300 177.5px,#f6ff00 178.5px,#4dff00 187.5px,#00ff01 192.5px,#00ff8b 203.5px,#00ffc8 209.5px)"></i>
<i style="top:422px;left:33px;width:210px;height:1px;background:linear-gradient(90deg,#00ffc9 0.5px,#00ff47 12.5px,#00ff04 17.5px,#58ff00 23.5px,#ffff00 32.5px,#ff1c00 43.5px,#ff0000 44.5px,#ff0000 60.5px,#ff4f00 69.5px,#ff8e00 81.5px,#ffb400 96.5px,#ffb500 112.5px,#ff9100 127.5px,#ff5500 139.5px,#ff0000 149.5px,#ff0000 164.5px,#ff4400 168.5px,#fdff00 177.5px,#56ff00 186.5px,#09ff00 191.5px,#00ff14 193.5px,#00ff99 204.5px,#00ffca 209.5px)"></i>
<i style="top:423px;left:33px;width:210px;height:1px;background:linear-gradient(90deg,#00ffcc 0.5px,#00ff4b 12.5px,#04ff00 18.5px,#a6ff00 28.5px,#fff900 33.5px,#ff3900 43.5px,#ff0000 47.5px,#ff0000 58.5px,#ff1f00 61.5px,#ff7100 73.5px,#ffa900 87.5px,#ffbf00 103.5px,#ffb000 119.5px,#ff8000 133.5px,#ff3600 145.5px,#ff0000 151.5px,#ff0000 162.5px,#ff5e00 168.5px,#fffb00 176.5px,#3fff00 187.5px,#03ff00 191.5px,#00ff9c 204.5px,#00ffcd 209.5px)"></i>
<i style="top:424px;left:33px;width:210px;height:1px;background:linear-gradient(90deg,#00ffce 0.5px,#00ff50 12.5px,#00ff02 18.5px,#8aff00 27.5px,#f5ff00 33.5px,#ffe300 35.5px,#ff5500 43.5px,#ff1a00 48.5px,#ff0900 52.5px,#ff1d00 58.5px,#ff8000 74.5px,#ffb400 89.5px,#ffc500 105.5px,#ffb200 121.5px,#ff8000 135.5px,#ff0e00 154.5px,#ff0e00 159.5px,#ff2e00 163.5px,#ff8800 169.5px,#fff800 175.5px,#cfff00 178.5px,#28ff00 188.5px,#00ff03 191.5px,#00ff8a 202.5px,#00ffcf 209.5px)"></i>
<i style="top:425px;left:33px;width:210px;height:1px;background:linear-gradient(90deg,#00ffd1 0.5px,#00ff48 13.5px,#06ff00 19.5px,#b2ff00 30.5px,#f8ff00 34.5px,#ffd000 37.5px,#ff6100 44.5px,#ff3000 49.5px,#ff2600 54.5px,#ff4900 62.5px,#ff9b00 78.5px,#ffc400 94.5px,#ffc900 111.5px,#ffa900 127.5px,#ff6600 142.5px,#ff2700 154.5px,#ff2c00 159.5px,#ff5600 164.5px,#ffc100 171.5px,#fff600 174.5px,#e5ff00 176.5px,#30ff00 187.5px,#04ff00 190.5px,#00ffa2 204.5px,#00ffd2 209.5px)"></i>
<i style="top:426px;left:33px;width:210px;height:1px;background:linear-gradient(90deg,#00ffd4 0.5px,#00ff4d 13.5px,#00ff01 19.5px,#a5ff00 30.5px,#f9ff00 35.5px,#ff8700 43.5px,#ff5300 48.5px,#ff3f00 53.5px,#ff5100 60.5px,#ffa800 79.5px,#ffce00 96.5px,#ffce00 113.5px,#ffa800 130.5px,#ff4200 153.5px,#ff4300 158.5px,#ff6500 163.5px,#ffb400 169.5px,#fff600 173.5px,#e7ff00 175.5px,#1aff00 188.5px,#00ff02 190.5px,#00ff91 202.5px,#00ffd4 209.5px)"></i>
<i style="top:427px;left:33px;width:210px;height:1px;background:linear-gradient(90deg,#00ffd6 0.5px,#00ff52 13.5px,#06ff00 20.5px,#d9ff00 34.5px,#f9ff00 36.5px,#ffba00 41.5px,#ff7500 47.5px,#ff5a00 52.5px,#ff5d00 58.5px,#ffba00 82.5px,#ffd700 99.5px,#ffd000 117.5px,#ffa300 134.5px,#ff5900 153.5px,#ff6200 159.5px,#ff8900 164.5px,#fff700 172.5px,#e7ff00 174.5px,#12ff00 188.5px,#00ff09 190.5px,#00ff95 202.5px,#00ffd7 209.5px)"></i>
<i style="top:428px;left:33px;width:210px;height:1px;background:linear-gradient(90deg,#00ffd9 0.5px,#00ff57 13.5px,#00ff01 20.5px,#baff00 33.5px,#f7ff00 37.5px,#ffea00 39.5px,#ff9600 46.5px,#ff7200 52.5px,#ff7400 59.5px,#ffcb00 85.5px,#ffe000 103.5px,#ffd100 121.5px,#ff9b00 139.5px,#ff7000 152.5px,#ff7600 158.5px,#ffa100 164.5px,#fffa00 171.5px,#0aff00 188.5px,#00ff03 189.5px,#00ff99 202.5px,#00ffda 209.5px)"></i>
<i style="top:429px;left:33px;width:210px;height:1px;background:linear-gradient(90deg,#00ffdc 0.5px,#00ff51 14.5px,#04ff00 21.5px,#fffd00 39.5px,#ffad00 46.5px,#ff8900 52.5px,#ff8700 59.5px,#ffd700 87.5px,#ffe800 106.5px,#ffd100 125.5px,#ff8400 152.5px,#ff8d00 158.5px,#ffb700 164.5px,#fffe00 170.5px,#03ff00 188.5px,#00ffa6 203.5px,#00ffdd 209.5px)"></i>
<i style="top:430px;left:33px;width:210px;height:2px;background:linear-gradient(90deg,#00ffe1 0.5px,#00ff5a 14.5px,#05ff00 22.5px,#feff00 41.5px,#ffbf00 48.5px,#ffa300 55.5px,#ffae00 65.5px,#ffe900 90.5px,#fff200 110.5px,#ffd400 130.5px,#ffa200 151.5px,#ffaf00 158.5px,#ffe100 165.5px,#fdff00 168.5px,#04ff00 187.5px,#00ffac 203.5px,#00ffe2 209.5px)"></i>
<i style="top:432px;left:33px;width:210px;height:2px;background:linear-gradient(90deg,#00ffe8 0.5px,#00ff5a 15.5px,#00ff00 23.5px,#e4ff00 42.5px,#fffe00 45.5px,#ffd300 52.5px,#ffc700 60.5px,#ffff00 95.5px,#fff900 120.5px,#ffc700 150.5px,#ffd800 158.5px,#ffff00 164.5px,#94ff00 174.5px,#00ff01 186.5px,#00ffa2 201.5px,#00ffe8 209.5px)"></i>
<i style="top:434px;left:33px;width:210px;height:2px;background:linear-gradient(90deg,#00ffee 0.5px,#00ff5c 16.5px,#00ff06 24.5px,#3fff00 30.5px,#caff00 43.5px,#fcff00 50.5px,#ffe800 60.5px,#f9ff00 84.5px,#ebff00 108.5px,#fffb00 132.5px,#ffe800 149.5px,#fbff00 159.5px,#c0ff00 167.5px,#05ff00 184.5px,#00ffbd 203.5px,#00ffef 209.5px)"></i>
<i style="top:436px;left:33px;width:210px;height:2px;background:linear-gradient(90deg,#00fff5 0.5px,#00ff60 17.5px,#00ff02 26.5px,#a9ff00 43.5px,#e2ff00 52.5px,#f7ff00 62.5px,#d9ff00 105.5px,#f1ff00 136.5px,#f4ff00 150.5px,#d8ff00 159.5px,#97ff00 168.5px,#00ff03 183.5px,#00ffb5 201.5px,#00fff6 209.5px)"></i>
<i style="top:438px;left:33px;width:210px;height:2px;background:linear-gradient(90deg,#00fffd 0.5px,#00ff63 18.5px,#00ff01 28.5px,#8aff00 43.5px,#c5ff00 53.5px,#dbff00 64.5px,#c8ff00 110.5px,#daff00 146.5px,#c0ff00 157.5px,#82ff00 167.5px,#00ff02 181.5px,#00ffbe 201.5px,#00fffd 209.5px)"></i>
<i style="top:440px;left:33px;width:210px;height:2px;background:linear-gradient(90deg,#00faff 0.5px,#00ffc7 8.5px,#00ff02 30.5px,#7bff00 45.5px,#adff00 55.5px,#c1ff00 68.5px,#b7ff00 115.5px,#bfff00 145.5px,#a5ff00 156.5px,#65ff00 167.5px,#00ff03 179.5px,#00ffd0 202.5px,#00fffe 208.5px,#00f9ff 209.5px)"></i>
<i style="top:442px;left:33px;width:210px;height:2px;background:linear-gradient(90deg,#00f2ff 0.5px,#00fff6 3.5px,#00ff39 26.5px,#04ff00 33.5px,#6bff00 47.5px,#99ff00 58.5px,#a9ff00 73.5px,#a6ff00 122.5px,#a4ff00 145.5px,#84ff00 157.5px,#3cff00 169.5px,#00ff05 177.5px,#00ffe1 203.5px,#00fffe 207.5px,#00f2ff 209.5px)"></i>
<i style="top:444px;left:33px;width:210px;height:2px;background:linear-gradient(90deg,#00ebff 0.5px,#00ffff 3.5px,#00ff21 31.5px,#00ff01 35.5px,#5bff00 49.5px,#84ff00 61.5px,#93ff00 79.5px,#8dff00 142.5px,#70ff00 155.5px,#31ff00 167.5px,#00ff02 174.5px,#00fff8 205.5px,#00eaff 209.5px)"></i>
<i style="top:446px;left:33px;width:210px;height:2px;background:linear-gradient(90deg,#00e3ff 0.5px,#00fffa 5.5px,#00ff01 38.5px,#4eff00 52.5px,#74ff00 66.5px,#7dff00 93.5px,#77ff00 140.5px,#59ff00 154.5px,#19ff00 167.5px,#00ff02 171.5px,#00fdff 205.5px,#00e2ff 209.5px)"></i>
<i style="top:448px;left:33px;width:210px;height:2px;background:linear-gradient(90deg,#00dbff 0.5px,#00fffc 6.5px,#00ff04 41.5px,#47ff00 57.5px,#64ff00 73.5px,#67ff00 132.5px,#4fff00 149.5px,#18ff00 163.5px,#00ff05 168.5px,#00fffd 203.5px,#00daff 209.5px)"></i>
<i style="top:450px;left:33px;width:210px;height:2px;background:linear-gradient(90deg,#00d3ff 0.5px,#00ffff 7.5px,#00ff14 42.5px,#07ff00 47.5px,#3cff00 62.5px,#54ff00 82.5px,#50ff00 133.5px,#34ff00 150.5px,#00ff04 164.5px,#00ff8b 185.5px,#00feff 202.5px,#00d2ff 209.5px)"></i>
<i style="top:452px;left:33px;width:210px;height:2px;background:linear-gradient(90deg,#00cbff 0.5px,#00fffc 9.5px,#00ff24 43.5px,#02ff00 51.5px,#30ff00 67.5px,#43ff00 92.5px,#3bff00 133.5px,#1aff00 151.5px,#00ff03 159.5px,#00ff65 177.5px,#00fbff 201.5px,#00caff 209.5px)"></i>
<i style="top:454px;left:33px;width:210px;height:2px;background:linear-gradient(90deg,#00c3ff 0.5px,#00fffa 11.5px,#00ff38 43.5px,#01ff00 57.5px,#25ff00 75.5px,#30ff00 111.5px,#1fff00 139.5px,#00ff06 154.5px,#00ff53 171.5px,#00fdff 199.5px,#00c3ff 209.5px)"></i>
<i style="top:456px;left:33px;width:210px;height:2px;background:linear-gradient(90deg,#00bbff 0.5px,#00fffe 12.5px,#00ff4c 43.5px,#00ff0b 60.5px,#06ff00 68.5px,#1dff00 94.5px,#15ff00 130.5px,#00ff04 146.5px,#00ff3e 163.5px,#00ffc3 187.5px,#00ffff 197.5px,#00bbff 209.5px)"></i>
<i style="top:458px;left:33px;width:210px;height:2px;background:linear-gradient(90deg,#00b3ff 0.5px,#00fffd 14.5px,#00ff5a 44.5px,#00ff1b 62.5px,#02ff00 80.5px,#0aff00 115.5px,#00ff06 136.5px,#00ff33 155.5px,#00ff87 174.5px,#00faff 196.5px,#00b3ff 209.5px)"></i>
<i style="top:460px;left:33px;width:210px;height:2px;background:linear-gradient(90deg,#00abff 0.5px,#00fffd 16.5px,#00ff68 45.5px,#00ff2a 64.5px,#00ff0c 87.5px,#00ff0c 122.5px,#00ff2a 145.5px,#00ff69 164.5px,#00fbff 194.5px,#00abff 209.5px)"></i>
<i style="top:462px;left:33px;width:210px;height:2px;background:linear-gradient(90deg,#00a4ff 0.5px,#00fffe 18.5px,#00ff76 46.5px,#00ff39 66.5px,#00ff1c 91.5px,#00ff20 124.5px,#00ff42 147.5px,#00ff87 167.5px,#00faff 192.5px,#00a3ff 209.5px)"></i>
<i style="top:464px;left:33px;width:210px;height:2px;background:linear-gradient(90deg,#009cff 0.5px,#00fffa 21.5px,#00ff80 48.5px,#00ff46 69.5px,#00ff2c 95.5px,#00ff35 127.5px,#00ff5a 149.5px,#00ffa4 170.5px,#00feff 189.5px,#009bff 209.5px)"></i>
<i style="top:466px;left:33px;width:210px;height:2px;background:linear-gradient(90deg,#0094ff 0.5px,#00fffc 23.5px,#00ff8a 50.5px,#00ff53 72.5px,#00ff3d 100.5px,#00ff4a 130.5px,#00ff74 152.5px,#00ffca 175.5px,#00fcff 187.5px,#0094ff 209.5px)"></i>
<i style="top:468px;left:33px;width:210px;height:2px;background:linear-gradient(90deg,#008cff 0.5px,#00fffb 26.5px,#00ff94 52.5px,#00ff62 74.5px,#00ff4e 102.5px,#00ff5c 131.5px,#00ff8b 154.5px,#00ffe9 179.5px,#00faff 185.5px,#008cff 209.5px)"></i>
<i style="top:470px;left:33px;width:210px;height:2px;background:linear-gradient(90deg,#0085ff 0.5px,#00fffa 29.5px,#00ff9b 55.5px,#00ff6c 79.5px,#00ff5f 109.5px,#00ff76 137.5px,#00ffae 160.5px,#00fbff 182.5px,#0084ff 209.5px)"></i>
<i style="top:472px;left:33px;width:210px;height:2px;background:linear-gradient(90deg,#007dff 0.5px,#00fffa 32.5px,#00ffa3 58.5px,#00ff79 83.5px,#00ff70 113.5px,#00ff8c 140.5px,#00ffca 164.5px,#00fbff 179.5px,#007dff 209.5px)"></i>
<i style="top:474px;left:33px;width:210px;height:2px;background:linear-gradient(90deg,#0076ff 0.5px,#00fffc 35.5px,#00ffac 61.5px,#00ff86 87.5px,#00ff83 117.5px,#00ffa4 144.5px,#00ffea 169.5px,#00fbff 176.5px,#0076ff 209.5px)"></i>
<i style="top:476px;left:33px;width:210px;height:2px;background:linear-gradient(90deg,#006fff 0.5px,#00fffe 38.5px,#00ffb5 64.5px,#00ff93 91.5px,#00ff95 121.5px,#00ffba 147.5px,#00fdff 172.5px,#006eff 209.5px)"></i>
<i style="top:478px;left:33px;width:210px;height:2px;background:linear-gradient(90deg,#0067ff 0.5px,#00fffd 42.5px,#00ffbd 68.5px,#00ffa0 96.5px,#00ffa9 126.5px,#00ffd4 152.5px,#00faff 169.5px,#0067ff 209.5px)"></i>
<i style="top:480px;left:33px;width:210px;height:2px;background:linear-gradient(90deg,#0060ff 0.5px,#00fffe 46.5px,#00ffc4 73.5px,#00ffae 102.5px,#00ffbd 131.5px,#00fff1 158.5px,#00f9ff 165.5px,#0060ff 209.5px)"></i>
<i style="top:482px;left:33px;width:210px;height:2px;background:linear-gradient(90deg,#0059ff 0.5px,#00f5ff 47.5px,#00fff4 55.5px,#00ffc7 83.5px,#00ffbe 113.5px,#00ffdc 142.5px,#00fbff 160.5px,#006eff 203.5px,#0059ff 209.5px)"></i>
<i style="top:484px;left:33px;width:210px;height:2px;background:linear-gradient(90deg,#0052ff 0.5px,#00ebff 48.5px,#00fffb 58.5px,#00ffd2 86.5px,#00ffce 116.5px,#00ffef 145.5px,#00f8ff 156.5px,#0088ff 193.5px,#0052ff 209.5px)"></i>
<i style="top:486px;left:33px;width:210px;height:2px;background:linear-gradient(90deg,#004bff 0.5px,#00dfff 48.5px,#00fffb 65.5px,#00ffdc 94.5px,#00ffe2 125.5px,#00faff 149.5px,#00a3ff 182.5px,#004bff 209.5px)"></i>
<i style="top:488px;left:33px;width:210px;height:2px;background:linear-gradient(90deg,#0045ff 0.5px,#00d5ff 49.5px,#00fffc 73.5px,#00ffe7 103.5px,#00fff8 133.5px,#00f2ff 146.5px,#00a2ff 179.5px,#0044ff 209.5px)"></i>
<i style="top:490px;left:33px;width:210px;height:2px;background:linear-gradient(90deg,#003eff 0.5px,#00caff 49.5px,#00fcff 79.5px,#00fff7 114.5px,#00f7ff 134.5px,#00bdff 165.5px,#003eff 209.5px)"></i>
<i style="top:492px;left:33px;width:210px;height:2px;background:linear-gradient(90deg,#0037ff 0.5px,#00beff 49.5px,#00f0ff 80.5px,#00fbff 111.5px,#00e0ff 142.5px,#0099ff 175.5px,#0037ff 209.5px)"></i>
<i style="top:494px;left:33px;width:210px;height:2px;background:linear-gradient(90deg,#0031ff 0.5px,#00b5ff 50.5px,#00e5ff 82.5px,#00edff 114.5px,#00cfff 145.5px,#0082ff 180.5px,#0030ff 209.5px)"></i>
<i style="top:496px;left:33px;width:210px;height:2px;background:linear-gradient(90deg,#002aff 0.5px,#00aaff 50.5px,#00d9ff 82.5px,#00e1ff 114.5px,#00c2ff 146.5px,#0071ff 183.5px,#002aff 209.5px)"></i>
<i style="top:498px;left:33px;width:210px;height:2px;background:linear-gradient(90deg,#0024ff 0.5px,#00a2ff 51.5px,#00cfff 84.5px,#00d4ff 116.5px,#00b3ff 148.5px,#005eff 187.5px,#0024ff 209.5px)"></i>
<i style="top:500px;left:33px;width:210px;height:2px;background:linear-gradient(90deg,#001eff 0.5px,#0097ff 51.5px,#00c3ff 84.5px,#00c8ff 117.5px,#00a5ff 150.5px,#004aff 192.5px,#001eff 209.5px)"></i>
<i style="top:502px;left:33px;width:210px;height:2px;background:linear-gradient(90deg,#0018ff 0.5px,#008fff 52.5px,#00b9ff 86.5px,#00bbff 119.5px,#0096ff 153.5px,#0031ff 199.5px,#0017ff 209.5px)"></i>
<i style="top:504px;left:33px;width:210px;height:2px;background:linear-gradient(90deg,#0012ff 0.5px,#0085ff 52.5px,#00aeff 87.5px,#00afff 121.5px,#0088ff 155.5px,#001bff 205.5px,#0011ff 209.5px)"></i>
<i style="top:506px;left:33px;width:210px;height:2px;background:linear-gradient(90deg,#000cff 0.5px,#007dff 53.5px,#00a4ff 88.5px,#00a3ff 122.5px,#007bff 157.5px,#000bff 209.5px)"></i>
<i style="top:508px;left:33px;width:210px;height:2px;background:linear-gradient(90deg,#0006ff 0.5px,#0073ff 53.5px,#009aff 89.5px,#0097ff 124.5px,#006dff 160.5px,#0006ff 209.5px)"></i>
<i style="top:510px;left:33px;width:210px;height:1px;background:linear-gradient(90deg,#0000ff 0.5px,#006cff 54.5px,#0090ff 90.5px,#008cff 125.5px,#0060ff 162.5px,#0000ff 209.5px)"></i>
<i style="top:303px;left:276px;width:18px;height:208px;background:linear-gradient(180deg,#ff0000 0.90px,#ffff00 52.52px,#00ff00 104.15px,#00ffff 155.77px,#0000ff 207.40px)"></i>
<i style="top:304px;left:398px;width:210px;height:2px;background:linear-gradient(90deg,#0078ff 0.5px,#00a6ff 67.5px,#00a8ff 135.5px,#0082ff 197.5px,#0078ff 209.5px)"></i>
<i style="top:306px;left:398px;width:210px;height:2px;background:linear-gradient(90deg,#007aff 0.5px,#00aaff 66.5px,#00adff 134.5px,#0089ff 193.5px,#007bff 209.5px)"></i>
<i style="top:308px;left:398px;width:210px;height:2px;background:linear-gradient(90deg,#007dff 0.5px,#00aeff 64.5px,#00b2ff 132.5px,#0091ff 188.5px,#007dff 209.5px)"></i>
<i style="top:310px;left:398px;width:210px;height:2px;background:linear-gradient(90deg,#0080ff 0.5px,#00b2ff 63.5px,#00b7ff 131.5px,#0097ff 185.5px,#0080ff 209.5px)"></i>
<i style="top:312px;left:398px;width:210px;height:2px;background:linear-gradient(90deg,#0083ff 0.5px,#00b6ff 61.5px,#00bcff 128.5px,#00a0ff 180.5px,#0083ff 209.5px)"></i>
<i style="top:314px;left:398px;width:210px;height:2px;background:linear-gradient(90deg,#0086ff 0.5px,#00baff 59.5px,#00c1ff 126.5px,#00a8ff 176.5px,#0086ff 209.5px)"></i>
<i style="top:316px;left:398px;width:210px;height:2px;background:linear-gradient(90deg,#0088ff 0.5px,#00beff 58.5px,#00c7ff 125.5px,#00aeff 174.5px,#0089ff 209.5px)"></i>
<i style="top:318px;left:398px;width:210px;height:2px;background:linear-gradient(90deg,#008cff 0.5px,#00c3ff 56.5px,#00ccff 121.5px,#00b7ff 169.5px,#008cff 209.5px)"></i>
<i style="top:320px;left:398px;width:210px;height:2px;background:linear-gradient(90deg,#008fff 0.5px,#00c8ff 55.5px,#00d2ff 119.5px,#00beff 167.5px,#008fff 209.5px)"></i>
<i style="top:322px;left:398px;width:210px;height:2px;background:linear-gradient(90deg,#0092ff 0.5px,#00cdff 54.5px,#00d7ff 117.5px,#00c6ff 164.5px,#0092ff 209.5px)"></i>
<i style="top:324px;left:398px;width:210px;height:2px;background:linear-gradient(90deg,#0095ff 0.5px,#00d1ff 52.5px,#00ddff 110.5px,#00cfff 160.5px,#0095ff 209.5px)"></i>
<i style="top:326px;left:398px;width:210px;height:2px;background:linear-gradient(90deg,#0099ff 0.5px,#00d7ff 51.5px,#00e2ff 105.5px,#00d7ff 158.5px,#0099ff 209.5px)"></i>
<i style="top:328px;left:398px;width:210px;height:2px;background:linear-gradient(90deg,#009cff 0.5px,#00ddff 50.5px,#00e8ff 100.5px,#00deff 157.5px,#00a7ff 202.5px,#009cff 209.5px)"></i>
<i style="top:330px;left:398px;width:210px;height:2px;background:linear-gradient(90deg,#00a0ff 0.5px,#00e2ff 48.5px,#00edff 92.5px,#00e5ff 156.5px,#00b5ff 196.5px,#00a0ff 209.5px)"></i>
<i style="top:332px;left:398px;width:210px;height:2px;background:linear-gradient(90deg,#00a4ff 0.5px,#00e8ff 47.5px,#00f3ff 87.5px,#00ecff 156.5px,#00bdff 194.5px,#00a4ff 209.5px)"></i>
<i style="top:334px;left:398px;width:210px;height:2px;background:linear-gradient(90deg,#00a8ff 0.5px,#00eeff 46.5px,#00faff 83.5px,#00f4ff 156.5px,#00c7ff 191.5px,#00a8ff 209.5px)"></i>
<i style="top:336px;left:398px;width:210px;height:2px;background:linear-gradient(90deg,#00acff 0.5px,#00f5ff 45.5px,#00fffd 75.5px,#00f9ff 159.5px,#00c7ff 194.5px,#00acff 209.5px)"></i>
<i style="top:338px;left:398px;width:210px;height:2px;background:linear-gradient(90deg,#00b0ff 0.5px,#00fcff 44.5px,#00fff8 83.5px,#00fffc 158.5px,#00e3ff 182.5px,#00b0ff 209.5px)"></i>
<i style="top:340px;left:398px;width:210px;height:2px;background:linear-gradient(90deg,#00b4ff 0.5px,#00fffd 41.5px,#00ffef 69.5px,#00fff1 127.5px,#00fff5 160.5px,#00f8ff 174.5px,#00b4ff 209.5px)"></i>
<i style="top:342px;left:398px;width:210px;height:2px;background:linear-gradient(90deg,#00b8ff 0.5px,#00fffc 36.5px,#00ffe7 61.5px,#00ffec 122.5px,#00ffeb 158.5px,#00faff 178.5px,#00b8ff 209.5px)"></i>
<i style="top:344px;left:398px;width:210px;height:2px;background:linear-gradient(90deg,#00bdff 0.5px,#00fffc 31.5px,#00ffdf 55.5px,#00ffe8 119.5px,#00ffe1 157.5px,#00faff 182.5px,#00bdff 209.5px)"></i>
<i style="top:346px;left:398px;width:210px;height:2px;background:linear-gradient(90deg,#00c1ff 0.5px,#00fffc 27.5px,#00ffd7 51.5px,#00ffde 82.5px,#00ffe2 118.5px,#00ffd6 156.5px,#00fff5 179.5px,#00f5ff 188.5px,#00c2ff 209.5px)"></i>
<i style="top:348px;left:398px;width:210px;height:2px;background:linear-gradient(90deg,#00c6ff 0.5px,#00fffa 24.5px,#00ffd0 47.5px,#00ffd0 71.5px,#00ffe0 109.5px,#00ffcc 156.5px,#00ffe7 177.5px,#00faff 189.5px,#00c6ff 209.5px)"></i>
<i style="top:350px;left:398px;width:210px;height:2px;background:linear-gradient(90deg,#00cbff 0.5px,#00fff9 21.5px,#00ffc7 45.5px,#00ffc4 66.5px,#00ffdc 106.5px,#00ffc1 157.5px,#00ffdd 177.5px,#00faff 192.5px,#00cbff 209.5px)"></i>
<i style="top:352px;left:398px;width:210px;height:2px;background:linear-gradient(90deg,#00d0ff 0.5px,#00fff9 18.5px,#00ffbf 42.5px,#00ffb7 61.5px,#00ffd7 104.5px,#00ffc1 136.5px,#00ffb7 159.5px,#00ffd5 178.5px,#00fcff 194.5px,#00d0ff 209.5px)"></i>
<i style="top:354px;left:398px;width:210px;height:2px;background:linear-gradient(90deg,#00d5ff 0.5px,#00fffa 15.5px,#00ffb6 40.5px,#00ffaa 57.5px,#00ffd3 102.5px,#00ffc2 129.5px,#00ffa9 156.5px,#00ffbd 173.5px,#00faff 197.5px,#00d6ff 209.5px)"></i>
<i style="top:356px;left:398px;width:210px;height:2px;background:linear-gradient(90deg,#00dbff 0.5px,#00fffc 12.5px,#00ffaa 39.5px,#00ff9d 55.5px,#00ffd0 100.5px,#00ffc3 124.5px,#00ff9c 155.5px,#00ffac 171.5px,#00fbff 199.5px,#00dbff 209.5px)"></i>
<i style="top:358px;left:398px;width:210px;height:2px;background:linear-gradient(90deg,#00e0ff 0.5px,#00fffc 10.5px,#00ff9e 38.5px,#00ff8e 53.5px,#00ffaf 76.5px,#00ffcd 100.5px,#00ffc1 122.5px,#00ff8f 155.5px,#00ff9b 170.5px,#00ffe9 194.5px,#00fbff 201.5px,#00e0ff 209.5px)"></i>
<i style="top:360px;left:398px;width:210px;height:2px;background:linear-gradient(90deg,#00e5ff 0.5px,#00fffc 8.5px,#00ff91 37.5px,#00ff7f 51.5px,#00ff99 69.5px,#00ffc7 95.5px,#00ffc6 115.5px,#00ff80 156.5px,#00ff8c 170.5px,#00ffd8 192.5px,#00fbff 203.5px,#00e6ff 209.5px)"></i>
<i style="top:362px;left:398px;width:210px;height:2px;background:linear-gradient(90deg,#00ebff 0.5px,#00fff8 7.5px,#00ff81 37.5px,#00ff6e 50.5px,#00ff85 65.5px,#00ffc2 92.5px,#00ffc8 111.5px,#00ffa5 132.5px,#00ff70 155.5px,#00ff77 168.5px,#00ffb0 185.5px,#00faff 205.5px,#00ebff 209.5px)"></i>
<i style="top:364px;left:398px;width:210px;height:2px;background:linear-gradient(90deg,#00f1ff 0.5px,#00fff5 6.5px,#00ff6f 37.5px,#00ff5c 49.5px,#00ff71 62.5px,#00ffbc 89.5px,#00ffca 107.5px,#00ffb1 125.5px,#00ff60 155.5px,#00ff62 167.5px,#00ff95 182.5px,#00fdff 206.5px,#00f1ff 209.5px)"></i>
<i style="top:366px;left:398px;width:210px;height:2px;background:linear-gradient(90deg,#00f7ff 0.5px,#00fff7 4.5px,#00ff5c 37.5px,#00ff48 48.5px,#00ff5c 60.5px,#00ffb6 87.5px,#00ffca 104.5px,#00ffb9 121.5px,#00ff71 143.5px,#00ff4a 157.5px,#00ff50 168.5px,#00ff86 182.5px,#00ffff 207.5px,#00f7ff 209.5px)"></i>
<i style="top:368px;left:398px;width:210px;height:2px;background:linear-gradient(90deg,#00fdff 0.5px,#00ff9d 20.5px,#00ff43 38.5px,#00ff32 48.5px,#00ff49 59.5px,#00ffb0 85.5px,#00ffcb 101.5px,#00ffc1 117.5px,#00ff8d 134.5px,#00ff3a 155.5px,#00ff34 165.5px,#00ff57 176.5px,#00fffd 208.5px,#00fdff 209.5px)"></i>
<i style="top:370px;left:398px;width:210px;height:2px;background:linear-gradient(90deg,#00fffc 0.5px,#00ff83 22.5px,#00ff2b 38.5px,#00ff19 47.5px,#00ff2b 56.5px,#00ffa9 83.5px,#00ffcc 98.5px,#00ffc9 113.5px,#00ffa2 128.5px,#00ff24 155.5px,#00ff1a 164.5px,#00ff37 174.5px,#00fff2 207.5px,#00fffb 209.5px)"></i>
<i style="top:372px;left:398px;width:210px;height:2px;background:linear-gradient(90deg,#00fff6 0.5px,#00ff87 19.5px,#00ff15 37.5px,#02ff00 45.5px,#00ff09 53.5px,#00ff4f 66.5px,#00ffa6 82.5px,#00ffcd 96.5px,#00ffcf 111.5px,#00ffae 125.5px,#00ff62 140.5px,#00ff0d 155.5px,#03ff00 162.5px,#00ff09 169.5px,#00ff4a 181.5px,#00ffdc 204.5px,#00fff5 209.5px)"></i>
<i style="top:374px;left:398px;width:210px;height:2px;background:linear-gradient(90deg,#00fff0 0.5px,#00ff88 17.5px,#02ff00 36.5px,#20ff00 44.5px,#1aff00 51.5px,#00ff03 57.5px,#00ff93 78.5px,#00ffc7 91.5px,#00ffd9 105.5px,#00ffc5 119.5px,#00ff8e 132.5px,#03ff00 153.5px,#21ff00 161.5px,#19ff00 168.5px,#00ff04 174.5px,#00ffc9 202.5px,#00ffef 209.5px)"></i>
<i style="top:376px;left:398px;width:210px;height:2px;background:linear-gradient(90deg,#00ffea 0.5px,#00ff82 16.5px,#03ff00 32.5px,#3bff00 41.5px,#44ff00 48.5px,#25ff00 55.5px,#00ff03 60.5px,#00ff80 75.5px,#00ffbf 87.5px,#00ffde 100.5px,#00ffd8 113.5px,#00ffaf 126.5px,#00ff63 138.5px,#05ff00 150.5px,#3bff00 158.5px,#45ff00 164.5px,#2dff00 171.5px,#00ff04 178.5px,#00ffad 199.5px,#00ffe9 209.5px)"></i>
<i style="top:378px;left:398px;width:210px;height:2px;background:linear-gradient(90deg,#00ffe4 0.5px,#00ff7d 15.5px,#04ff00 29.5px,#58ff00 39.5px,#6eff00 45.5px,#60ff00 51.5px,#27ff00 58.5px,#00ff03 62.5px,#00ff78 74.5px,#00ffbd 85.5px,#00ffe2 97.5px,#00ffe5 110.5px,#00ffc6 122.5px,#00ff88 133.5px,#00ff24 144.5px,#00ff04 147.5px,#5aff00 157.5px,#6eff00 163.5px,#5eff00 169.5px,#18ff00 178.5px,#00ff05 181.5px,#00ff94 197.5px,#00ffe3 209.5px)"></i>
<i style="top:380px;left:398px;width:210px;height:2px;background:linear-gradient(90deg,#00ffde 0.5px,#00ff79 14.5px,#00ff02 26.5px,#7bff00 38.5px,#9cff00 44.5px,#97ff00 49.5px,#67ff00 55.5px,#02ff00 63.5px,#00ff79 74.5px,#00ffbf 84.5px,#00ffea 96.5px,#00fff0 109.5px,#00ffd2 121.5px,#00ff93 132.5px,#00ff3d 141.5px,#01ff00 146.5px,#7aff00 156.5px,#9aff00 161.5px,#99ff00 166.5px,#73ff00 172.5px,#00ff00 183.5px,#00ff89 197.5px,#00ffdd 209.5px)"></i>
<i style="top:382px;left:398px;width:210px;height:2px;background:linear-gradient(90deg,#00ffd8 0.5px,#00ff76 13.5px,#00ff01 24.5px,#aaff00 38.5px,#cfff00 43.5px,#d4ff00 47.5px,#beff00 51.5px,#72ff00 57.5px,#03ff00 64.5px,#00ff71 73.5px,#00ffbc 82.5px,#00ffee 93.5px,#00fffe 105.5px,#00ffeb 117.5px,#00ffb6 128.5px,#00ff68 137.5px,#01ff00 145.5px,#a8ff00 156.5px,#d1ff00 161.5px,#d3ff00 165.5px,#b4ff00 170.5px,#32ff00 181.5px,#00ff00 185.5px,#00ff7e 197.5px,#00ffd8 209.5px)"></i>
<i style="top:384px;left:398px;width:210px;height:1px;background:linear-gradient(90deg,#00ffd4 0.5px,#00ff77 12.5px,#03ff00 23.5px,#ddff00 39.5px,#ffff00 43.5px,#fff900 47.5px,#f4ff00 50.5px,#b2ff00 55.5px,#0cff00 64.5px,#00ff05 65.5px,#00ff69 72.5px,#00ffb5 80.5px,#00ffed 90.5px,#00fbff 98.5px,#00f9ff 110.5px,#00fff4 117.5px,#00ffc4 127.5px,#00ff80 135.5px,#00ff26 142.5px,#00ff06 144.5px,#2eff00 147.5px,#d0ff00 156.5px,#fbff00 160.5px,#fffa00 165.5px,#f1ff00 168.5px,#9eff00 175.5px,#05ff00 186.5px,#00ff88 199.5px,#00ffd3 209.5px)"></i>
<i style="top:385px;left:398px;width:210px;height:1px;background:linear-gradient(90deg,#00ffd1 0.5px,#00ff71 12.5px,#01ff00 22.5px,#fbff00 39.5px,#ffd700 44.5px,#ffd800 48.5px,#feff00 52.5px,#a3ff00 57.5px,#00ff00 65.5px,#00ff6b 72.5px,#00ffba 80.5px,#00fff3 90.5px,#00f8ff 96.5px,#00f0ff 108.5px,#00fffb 117.5px,#00ffc9 127.5px,#00ff83 135.5px,#00ff24 142.5px,#00ff02 144.5px,#edff00 156.5px,#fdff00 157.5px,#ffd900 161.5px,#ffd600 165.5px,#fcff00 170.5px,#02ff00 187.5px,#00ff7a 198.5px,#00ffd1 209.5px)"></i>
<i style="top:386px;left:398px;width:210px;height:1px;background:linear-gradient(90deg,#00ffcf 0.5px,#00ff6c 12.5px,#00ff02 21.5px,#77ff00 29.5px,#feff00 37.5px,#ffbe00 42.5px,#ffaa00 46.5px,#ffb700 49.5px,#ffdd00 52.5px,#fcff00 54.5px,#04ff00 65.5px,#00ff6d 72.5px,#00ffbf 80.5px,#00fffa 90.5px,#00e7ff 104.5px,#00f9ff 116.5px,#00fff2 121.5px,#00ffb8 130.5px,#00ff6e 137.5px,#02ff00 144.5px,#b6ff00 152.5px,#faff00 155.5px,#ffc200 159.5px,#ffac00 162.5px,#ffaf00 165.5px,#ffd400 169.5px,#ffff00 172.5px,#1bff00 186.5px,#00ff01 188.5px,#00ff75 198.5px,#00ffce 209.5px)"></i>
<i style="top:387px;left:398px;width:210px;height:1px;background:linear-gradient(90deg,#00ffcc 0.5px,#00ff71 11.5px,#00ff07 20.5px,#25ff00 23.5px,#d3ff00 33.5px,#f8ff00 35.5px,#ffbf00 39.5px,#ff8c00 43.5px,#ff7d00 46.5px,#ff8b00 49.5px,#ffb600 52.5px,#fff900 55.5px,#b5ff00 58.5px,#1dff00 64.5px,#07ff00 65.5px,#00ff33 68.5px,#00ff8a 74.5px,#00ffd4 82.5px,#00fdff 90.5px,#00e0ff 101.5px,#00e9ff 113.5px,#00fff9 121.5px,#00ffbe 130.5px,#00ff72 137.5px,#05ff00 144.5px,#98ff00 150.5px,#fffc00 154.5px,#ffa600 158.5px,#ff8300 161.5px,#ff7f00 164.5px,#ffa000 168.5px,#faff00 174.5px,#36ff00 185.5px,#00ff05 189.5px,#00ff70 198.5px,#00ffcb 209.5px)"></i>
<i style="top:388px;left:398px;width:210px;height:1px;background:linear-gradient(90deg,#00ffca 0.5px,#00ff6c 11.5px,#02ff00 20.5px,#88ff00 28.5px,#fffe00 34.5px,#ff7700 41.5px,#ff5400 44.5px,#ff4b00 47.5px,#ff6500 50.5px,#ffa200 53.5px,#fff500 56.5px,#cbff00 58.5px,#3bff00 63.5px,#0aff00 65.5px,#00ff0c 66.5px,#00ff66 71.5px,#00ffba 78.5px,#00fffb 87.5px,#00d9ff 100.5px,#00dcff 111.5px,#00fffb 122.5px,#00ffbb 131.5px,#00ff67 138.5px,#00ff0e 143.5px,#08ff00 144.5px,#8bff00 149.5px,#fff800 153.5px,#ff8c00 157.5px,#ff5a00 160.5px,#ff4a00 163.5px,#ff5c00 166.5px,#ff9700 170.5px,#fffc00 175.5px,#42ff00 185.5px,#04ff00 189.5px,#00ff7f 200.5px,#00ffc9 209.5px)"></i>
<i style="top:389px;left:398px;width:210px;height:1px;background:linear-gradient(90deg,#00ffc7 0.5px,#00ff67 11.5px,#00ff03 19.5px,#5fff00 25.5px,#efff00 32.5px,#fff900 33.5px,#ff4900 41.5px,#ff1e00 44.5px,#ff1200 47.5px,#ff2e00 50.5px,#ff7400 53.5px,#fff800 57.5px,#9eff00 60.5px,#26ff00 64.5px,#0cff00 65.5px,#00ff0b 66.5px,#00ff6a 71.5px,#00ffb6 77.5px,#00fffd 86.5px,#00d4ff 98.5px,#00d0ff 109.5px,#00f1ff 120.5px,#00fff8 124.5px,#00ffb7 132.5px,#00ff6c 138.5px,#00ff0e 143.5px,#0aff00 144.5px,#7aff00 148.5px,#fffc00 152.5px,#ff7700 156.5px,#ff3000 159.5px,#ff1200 162.5px,#ff1d00 165.5px,#ff4700 168.5px,#ffdf00 175.5px,#fff600 176.5px,#daff00 178.5px,#4fff00 185.5px,#00ff02 190.5px,#00ff71 199.5px,#00ffc6 209.5px)"></i>
<i style="top:390px;left:398px;width:210px;height:1px;background:linear-gradient(90deg,#00ffc5 0.5px,#00ff6d 10.5px,#05ff00 19.5px,#80ff00 26.5px,#efff00 31.5px,#fff700 32.5px,#ff1600 41.5px,#ff0200 42.5px,#ff0000 47.5px,#0000ff 48.5px,#0000ff 57.5px,#fbff00 58.5px,#66ff00 62.5px,#0dff00 65.5px,#00ff0c 66.5px,#00ff6f 71.5px,#00ffbd 77.5px,#00ffff 85.5px,#00d2ff 95.5px,#00c5ff 106.5px,#00dbff 117.5px,#00feff 124.5px,#00ffbe 132.5px,#00ff71 138.5px,#00ff0e 143.5px,#0bff00 144.5px,#85ff00 148.5px,#f7ff00 151.5px,#ffde00 152.5px,#0000ff 153.5px,#0000ff 161.5px,#ff0000 162.5px,#ff0000 167.5px,#ff7400 172.5px,#fff400 177.5px,#f1ff00 178.5px,#5bff00 185.5px,#06ff00 190.5px,#00ff32 194.5px,#00ff93 203.5px,#00ffc4 209.5px)"></i>
<i style="top:391px;left:398px;width:210px;height:1px;background:linear-gradient(90deg,#00ffc3 0.5px,#00ff69 10.5px,#00ff02 18.5px,#66ff00 24.5px,#ecff00 30.5px,#fff800 31.5px,#ff1500 39.5px,#ff0000 40.5px,#ff0000 44.5px,#0000ff 45.5px,#0000ff 59.5px,#bdff00 60.5px,#4bff00 63.5px,#0dff00 65.5px,#00ff0e 66.5px,#00ff64 70.5px,#00ffb9 76.5px,#00fff9 83.5px,#00cfff 93.5px,#00bbff 104.5px,#00cbff 115.5px,#00fffa 126.5px,#00ffaf 134.5px,#00ff65 139.5px,#00ff10 143.5px,#0aff00 144.5px,#6aff00 147.5px,#b9ff00 149.5px,#0000ff 150.5px,#0000ff 164.5px,#ff0000 165.5px,#ff0000 169.5px,#ff1200 170.5px,#fff600 178.5px,#d6ff00 180.5px,#54ff00 186.5px,#00ff01 191.5px,#00ff68 199.5px,#00ffc2 209.5px)"></i>
<i style="top:392px;left:398px;width:210px;height:1px;background:linear-gradient(90deg,#00ffc0 0.5px,#00ff65 10.5px,#05ff00 18.5px,#72ff00 24.5px,#fffd00 30.5px,#ff4600 36.5px,#ff0300 38.5px,#ff0000 43.5px,#0000ff 44.5px,#0000ff 61.5px,#75ff00 62.5px,#0cff00 65.5px,#00ff11 66.5px,#00ff6a 70.5px,#00ffb5 75.5px,#00fffa 82.5px,#00c2ff 94.5px,#00b1ff 105.5px,#00c5ff 116.5px,#00fffb 127.5px,#00ffb6 134.5px,#00ff6c 139.5px,#00ff13 143.5px,#09ff00 144.5px,#71ff00 147.5px,#0000ff 148.5px,#0000ff 166.5px,#ff0000 167.5px,#ff0000 171.5px,#ffde00 178.5px,#fffa00 179.5px,#5fff00 186.5px,#07ff00 191.5px,#00ff33 195.5px,#00ff96 204.5px,#00ffc0 209.5px)"></i>
<i style="top:393px;left:398px;width:210px;height:1px;background:linear-gradient(90deg,#00ffbe 0.5px,#00ff61 10.5px,#00ff04 17.5px,#54ff00 22.5px,#c5ff00 27.5px,#faff00 29.5px,#ffa900 32.5px,#ff0000 37.5px,#ff0000 41.5px,#0000ff 42.5px,#0000ff 63.5px,#2aff00 64.5px,#09ff00 65.5px,#00ff30 67.5px,#00ff82 71.5px,#00ffd4 77.5px,#00fbff 82.5px,#00c0ff 92.5px,#00a7ff 103.5px,#00b5ff 114.5px,#00e5ff 124.5px,#00fffb 128.5px,#00ffb1 135.5px,#00ff5f 140.5px,#06ff00 144.5px,#4cff00 146.5px,#0000ff 147.5px,#0000ff 167.5px,#ff0000 168.5px,#ff0000 172.5px,#ff1a00 173.5px,#ffc600 178.5px,#fdff00 180.5px,#80ff00 185.5px,#0eff00 191.5px,#00ff02 192.5px,#00ff6b 200.5px,#00ffbe 209.5px)"></i>
<i style="top:394px;left:398px;width:210px;height:1px;background:linear-gradient(90deg,#00ffbc 0.5px,#00ff5d 10.5px,#03ff00 17.5px,#73ff00 23.5px,#f0ff00 28.5px,#fff000 29.5px,#ff6a00 33.5px,#ff1d00 35.5px,#ff0000 36.5px,#ff0000 40.5px,#0000ff 41.5px,#0000ff 64.5px,#04ff00 65.5px,#00ff65 69.5px,#00ffb8 74.5px,#00fffa 80.5px,#00b6ff 92.5px,#009dff 102.5px,#00a5ff 112.5px,#00cfff 122.5px,#00fffb 129.5px,#00ffab 136.5px,#00ff67 140.5px,#00ff1e 143.5px,#01ff00 144.5px,#0000ff 145.5px,#0000ff 168.5px,#ff0000 169.5px,#ff0000 173.5px,#ff1900 174.5px,#ffad00 178.5px,#ffed00 180.5px,#f3ff00 181.5px,#75ff00 186.5px,#04ff00 192.5px,#00ff73 201.5px,#00ffbc 209.5px)"></i>
<i style="top:395px;left:398px;width:210px;height:1px;background:linear-gradient(90deg,#00ffbb 0.5px,#00ff66 9.5px,#00ff08 16.5px,#1aff00 18.5px,#95ff00 24.5px,#fffc00 28.5px,#ff7400 32.5px,#ff0000 35.5px,#ff0000 39.5px,#0000ff 40.5px,#0000ff 65.5px,#00ff23 66.5px,#00ff6d 69.5px,#00ffc0 74.5px,#00fff9 79.5px,#00cdff 86.5px,#009eff 96.5px,#0091ff 106.5px,#00a8ff 116.5px,#00e1ff 126.5px,#00fffa 130.5px,#00ffa5 137.5px,#00ff5a 141.5px,#00ff25 143.5px,#0000ff 144.5px,#0000ff 169.5px,#ff0000 170.5px,#ff0000 174.5px,#ff1e00 175.5px,#ffb900 179.5px,#fff900 181.5px,#6aff00 187.5px,#0aff00 192.5px,#00ff06 193.5px,#00ff70 201.5px,#00ffba 209.5px)"></i>
<i style="top:396px;left:398px;width:210px;height:1px;background:linear-gradient(90deg,#00ffb9 0.5px,#00ff62 9.5px,#00ff02 16.5px,#5bff00 21.5px,#d6ff00 26.5px,#f3ff00 27.5px,#ffec00 28.5px,#ff5900 32.5px,#ff0000 34.5px,#ff0000 38.5px,#0000ff 39.5px,#0000ff 66.5px,#00ff48 67.5px,#00ff9c 71.5px,#00ffed 77.5px,#00fcff 79.5px,#00b7ff 88.5px,#008dff 98.5px,#0088ff 108.5px,#00a6ff 118.5px,#00e9ff 128.5px,#00fff9 131.5px,#00ffae 137.5px,#00ff63 141.5px,#00ff4b 142.5px,#0000ff 143.5px,#0000ff 170.5px,#ff0000 171.5px,#ff0000 175.5px,#ffa300 179.5px,#ffe800 181.5px,#f6ff00 182.5px,#73ff00 187.5px,#10ff00 192.5px,#00ff01 193.5px,#00ff61 200.5px,#00ffb8 209.5px)"></i>
<i style="top:397px;left:398px;width:210px;height:1px;background:linear-gradient(90deg,#00ffb7 0.5px,#00ff60 9.5px,#03ff00 16.5px,#79ff00 22.5px,#fffc00 27.5px,#ff9200 30.5px,#ff1000 33.5px,#ff0000 34.5px,#ff0000 37.5px,#0000ff 38.5px,#0000ff 66.5px,#00ff53 67.5px,#00ffa5 71.5px,#00fff5 77.5px,#00f4ff 79.5px,#00aeff 88.5px,#0082ff 98.5px,#007cff 108.5px,#009cff 118.5px,#00e0ff 128.5px,#00fdff 131.5px,#00ffb7 137.5px,#00ff6e 141.5px,#00ff56 142.5px,#0000ff 143.5px,#0000ff 171.5px,#ff0000 172.5px,#ff0000 175.5px,#ff0b00 176.5px,#ff8e00 179.5px,#fff900 182.5px,#65ff00 188.5px,#04ff00 193.5px,#00ff75 202.5px,#00ffb7 209.5px)"></i>
<i style="top:398px;left:398px;width:210px;height:1px;background:linear-gradient(90deg,#00ffb6 0.5px,#00ff5d 9.5px,#00ff09 15.5px,#07ff00 16.5px,#6aff00 21.5px,#d1ff00 25.5px,#efff00 26.5px,#ffef00 27.5px,#ff7f00 30.5px,#ff2500 32.5px,#ff0000 33.5px,#ff0000 37.5px,#0000ff 38.5px,#0000ff 67.5px,#00ff77 68.5px,#00ffcd 73.5px,#00fffe 77.5px,#00abff 87.5px,#007aff 97.5px,#006eff 106.5px,#0089ff 116.5px,#00c7ff 126.5px,#00ffff 132.5px,#00ffb1 138.5px,#00ff7a 141.5px,#0000ff 142.5px,#0000ff 171.5px,#ff0000 172.5px,#ff0000 176.5px,#ff2000 177.5px,#ffa300 180.5px,#ffeb00 182.5px,#f2ff00 183.5px,#83ff00 187.5px,#1bff00 192.5px,#00ff08 194.5px,#00ff68 201.5px,#00ffb5 209.5px)"></i>
<i style="top:399px;left:398px;width:210px;height:1px;background:linear-gradient(90deg,#00ffb5 0.5px,#00ff5b 9.5px,#00ff06 15.5px,#30ff00 18.5px,#a2ff00 23.5px,#faff00 26.5px,#ffbe00 28.5px,#ff3e00 31.5px,#ff0c00 32.5px,#ff0000 33.5px,#ff0000 36.5px,#0000ff 37.5px,#0000ff 68.5px,#00ff97 69.5px,#00ffef 75.5px,#00f9ff 77.5px,#00a2ff 87.5px,#006fff 97.5px,#0062ff 106.5px,#007aff 115.5px,#00b7ff 125.5px,#00fffb 133.5px,#00ffaa 139.5px,#00ff86 141.5px,#0000ff 142.5px,#0000ff 172.5px,#ff0000 173.5px,#ff0000 176.5px,#ff0700 177.5px,#ff9200 180.5px,#feff00 183.5px,#8bff00 187.5px,#1fff00 192.5px,#00ff04 194.5px,#00ff65 201.5px,#00ffb4 209.5px)"></i>
<i style="top:400px;left:398px;width:210px;height:1px;background:linear-gradient(90deg,#00ffb3 0.5px,#00ff59 9.5px,#00ff02 15.5px,#5fff00 20.5px,#c6ff00 24.5px,#fff900 26.5px,#ff8700 29.5px,#ff0000 32.5px,#ff0000 36.5px,#0000ff 37.5px,#0000ff 68.5px,#00ffa3 69.5px,#00fff6 75.5px,#00f1ff 77.5px,#009aff 87.5px,#0064ff 97.5px,#0056ff 106.5px,#0070ff 115.5px,#00b7ff 126.5px,#00fbff 133.5px,#00ffc4 138.5px,#00ffa5 140.5px,#0000ff 141.5px,#0000ff 172.5px,#ff0000 173.5px,#ff0000 177.5px,#ff2500 178.5px,#ffac00 181.5px,#fff600 183.5px,#c9ff00 185.5px,#4bff00 190.5px,#00ff00 194.5px,#00ff63 201.5px,#00ffb3 209.5px)"></i>
<i style="top:401px;left:398px;width:210px;height:1px;background:linear-gradient(90deg,#00ffb3 0.5px,#00ff57 9.5px,#01ff00 15.5px,#64ff00 20.5px,#cdff00 24.5px,#ecff00 25.5px,#fff000 26.5px,#ff7a00 29.5px,#ff1800 31.5px,#ff0000 32.5px,#ff0000 35.5px,#0000ff 36.5px,#0000ff 68.5px,#00ffae 69.5px,#00fffd 75.5px,#0099ff 86.5px,#0059ff 97.5px,#0049ff 105.5px,#0061ff 114.5px,#00a8ff 125.5px,#00fffe 134.5px,#00ffb0 140.5px,#0000ff 141.5px,#0000ff 173.5px,#ff0000 174.5px,#ff0000 177.5px,#ff1300 178.5px,#ffa000 181.5px,#ffec00 183.5px,#f0ff00 184.5px,#7eff00 188.5px,#14ff00 193.5px,#03ff00 194.5px,#00ff6d 202.5px,#00ffb2 209.5px)"></i>
<i style="top:402px;left:398px;width:210px;height:1px;background:linear-gradient(90deg,#00ffb2 0.5px,#00ff55 9.5px,#03ff00 15.5px,#68ff00 20.5px,#d3ff00 24.5px,#f3ff00 25.5px,#ffe800 26.5px,#ff6e00 29.5px,#ff0900 31.5px,#ff0000 33.5px,#ff0000 35.5px,#0000ff 36.5px,#0000ff 69.5px,#00ffc6 70.5px,#00fbff 75.5px,#009aff 85.5px,#0053ff 96.5px,#003dff 104.5px,#004eff 112.5px,#0092ff 123.5px,#00eeff 133.5px,#00fff9 135.5px,#00ffc7 139.5px,#0000ff 140.5px,#0000ff 173.5px,#ff0000 174.5px,#ff0300 178.5px,#ff9600 181.5px,#ffe400 183.5px,#f7ff00 184.5px,#83ff00 188.5px,#17ff00 193.5px,#05ff00 194.5px,#00ff77 203.5px,#00ffb1 209.5px)"></i>
<i style="top:403px;left:398px;width:210px;height:1px;background:linear-gradient(90deg,#00ffb1 0.5px,#00ff54 9.5px,#05ff00 15.5px,#6bff00 20.5px,#d9ff00 24.5px,#f9ff00 25.5px,#ffbb00 27.5px,#ff3200 30.5px,#ff0000 31.5px,#ff0000 35.5px,#0000ff 36.5px,#0000ff 69.5px,#00ffce 70.5px,#00fffd 74.5px,#008dff 86.5px,#0040ff 98.5px,#0030ff 105.5px,#004aff 113.5px,#009cff 125.5px,#00fffe 135.5px,#00ffcf 139.5px,#0000ff 140.5px,#0000ff 173.5px,#ff0000 174.5px,#ff0000 178.5px,#ffb700 182.5px,#fdff00 184.5px,#86ff00 188.5px,#19ff00 193.5px,#07ff00 194.5px,#00ff29 197.5px,#00ff8b 205.5px,#00ffb0 209.5px)"></i>
<i style="top:404px;left:398px;width:210px;height:1px;background:linear-gradient(90deg,#00ffb0 0.5px,#00ff53 9.5px,#00ff0a 14.5px,#07ff00 15.5px,#6eff00 20.5px,#ddff00 24.5px,#feff00 25.5px,#ff8b00 28.5px,#ff0000 31.5px,#ff0000 34.5px,#0000ff 35.5px,#0000ff 69.5px,#00ffd5 70.5px,#00fdff 74.5px,#0090ff 85.5px,#0037ff 98.5px,#0023ff 104.5px,#0032ff 110.5px,#0087ff 123.5px,#00f0ff 134.5px,#00fff7 136.5px,#00ffd6 139.5px,#0000ff 140.5px,#0000ff 174.5px,#ff0000 175.5px,#ff0000 178.5px,#ff2400 179.5px,#ffb100 182.5px,#fffd00 184.5px,#89ff00 188.5px,#1bff00 193.5px,#00ff08 195.5px,#00ff6a 202.5px,#00ffb0 209.5px)"></i>
<i style="top:405px;left:398px;width:210px;height:1px;background:linear-gradient(90deg,#00ffb0 0.5px,#00ff52 9.5px,#00ff09 14.5px,#08ff00 15.5px,#70ff00 20.5px,#dfff00 24.5px,#fffd00 25.5px,#ff8600 28.5px,#ff2300 30.5px,#ff0000 31.5px,#ff0000 34.5px,#0000ff 35.5px,#0000ff 69.5px,#00ffd9 70.5px,#00faff 74.5px,#0085ff 86.5px,#0025ff 100.5px,#0016ff 105.5px,#003cff 113.5px,#00a7ff 127.5px,#00fffa 136.5px,#00ffda 139.5px,#0000ff 140.5px,#0000ff 174.5px,#ff0000 175.5px,#ff0000 178.5px,#ff1e00 179.5px,#ffad00 182.5px,#fff900 184.5px,#72ff00 189.5px,#0aff00 194.5px,#00ff18 196.5px,#00ff75 203.5px,#00ffaf 209.5px)"></i>
<i style="top:406px;left:398px;width:210px;height:1px;background:linear-gradient(90deg,#00ffb0 0.5px,#00ff52 9.5px,#00ff08 14.5px,#1bff00 16.5px,#8aff00 21.5px,#fffb00 25.5px,#ff8300 28.5px,#ff2000 30.5px,#ff0000 31.5px,#ff0000 34.5px,#0000ff 35.5px,#0000ff 69.5px,#00ffdc 70.5px,#00fffb 73.5px,#0073ff 88.5px,#000dff 103.5px,#000dff 106.5px,#007aff 122.5px,#00ecff 134.5px,#00fffc 136.5px,#00ffdd 139.5px,#0000ff 140.5px,#0000ff 174.5px,#ff0000 175.5px,#ff0000 178.5px,#ff1a00 179.5px,#ffab00 182.5px,#fff800 184.5px,#a8ff00 187.5px,#31ff00 192.5px,#0bff00 194.5px,#00ff07 195.5px,#00ff69 202.5px,#00ffaf 209.5px)"></i>
<i style="top:407px;left:398px;width:210px;height:1px;background:linear-gradient(90deg,#00ffb0 0.5px,#00ff52 9.5px,#00ff08 14.5px,#1bff00 16.5px,#8aff00 21.5px,#fffb00 25.5px,#ff8300 28.5px,#ff1f00 30.5px,#ff0000 31.5px,#ff0000 34.5px,#0000ff 35.5px,#0000ff 69.5px,#00ffdc 70.5px,#00fffb 73.5px,#0072ff 88.5px,#0005ff 104.5px,#0017ff 108.5px,#0093ff 125.5px,#00fffc 136.5px,#00ffdd 139.5px,#0000ff 140.5px,#0000ff 174.5px,#ff0000 175.5px,#ff0000 178.5px,#ff1900 179.5px,#ffaa00 182.5px,#fff700 184.5px,#c5ff00 186.5px,#5cff00 190.5px,#0bff00 194.5px,#00ff07 195.5px,#00ff69 202.5px,#00ffaf 209.5px)"></i>
<i style="top:408px;left:398px;width:210px;height:1px;background:linear-gradient(90deg,#00ffb0 0.5px,#00ff52 9.5px,#00ff09 14.5px,#1bff00 16.5px,#89ff00 21.5px,#fffc00 25.5px,#ff8500 28.5px,#ff2100 30.5px,#ff0000 31.5px,#ff0000 34.5px,#0000ff 35.5px,#0000ff 69.5px,#00ffdb 70.5px,#00f9ff 74.5px,#0084ff 86.5px,#001cff 101.5px,#0011ff 105.5px,#0040ff 114.5px,#00afff 128.5px,#00fffb 136.5px,#00ffdc 139.5px,#0000ff 140.5px,#0000ff 174.5px,#ff0000 175.5px,#ff0000 178.5px,#ff1c00 179.5px,#ffac00 182.5px,#fff900 184.5px,#8cff00 188.5px,#1dff00 193.5px,#00ff07 195.5px,#00ff69 202.5px,#00ffaf 209.5px)"></i>
<i style="top:409px;left:398px;width:210px;height:1px;background:linear-gradient(90deg,#00ffb0 0.5px,#00ff53 9.5px,#00ff0a 14.5px,#08ff00 15.5px,#6fff00 20.5px,#deff00 24.5px,#ffff00 25.5px,#ff8900 28.5px,#ff2600 30.5px,#ff0000 31.5px,#ff0000 34.5px,#0000ff 35.5px,#0000ff 69.5px,#00ffd7 70.5px,#00fbff 74.5px,#0086ff 86.5px,#002fff 99.5px,#001eff 105.5px,#0039ff 112.5px,#0096ff 125.5px,#00faff 135.5px,#00ffd8 139.5px,#0000ff 140.5px,#0000ff 174.5px,#ff0000 175.5px,#ff0000 178.5px,#ff2100 179.5px,#ffaf00 182.5px,#fffb00 184.5px,#71ff00 189.5px,#09ff00 194.5px,#00ff18 196.5px,#00ff75 203.5px,#00ffaf 209.5px)"></i>
<i style="top:410px;left:398px;width:210px;height:1px;background:linear-gradient(90deg,#00ffb1 0.5px,#00ff53 9.5px,#00ff0b 14.5px,#06ff00 15.5px,#6cff00 20.5px,#daff00 24.5px,#fbff00 25.5px,#ffb900 27.5px,#ff0000 31.5px,#ff0000 35.5px,#0000ff 36.5px,#0000ff 69.5px,#00ffd1 70.5px,#00ffff 74.5px,#0093ff 85.5px,#0042ff 97.5px,#002bff 104.5px,#003cff 111.5px,#008aff 123.5px,#00f3ff 134.5px,#00feff 135.5px,#00ffd2 139.5px,#0000ff 140.5px,#0000ff 174.5px,#ff0000 175.5px,#ff0000 178.5px,#ff5c00 180.5px,#ffdb00 183.5px,#ffff00 184.5px,#88ff00 188.5px,#1aff00 193.5px,#08ff00 194.5px,#00ff19 196.5px,#00ff76 203.5px,#00ffb0 209.5px)"></i>
<i style="top:411px;left:398px;width:210px;height:1px;background:linear-gradient(90deg,#00ffb1 0.5px,#00ff55 9.5px,#04ff00 15.5px,#69ff00 20.5px,#d6ff00 24.5px,#f6ff00 25.5px,#ffe500 26.5px,#ff6a00 29.5px,#ff0300 31.5px,#ff0000 35.5px,#0000ff 36.5px,#0000ff 69.5px,#00ffc9 70.5px,#00fffa 74.5px,#0088ff 87.5px,#0046ff 98.5px,#0038ff 105.5px,#004fff 113.5px,#009fff 125.5px,#00fffb 135.5px,#00ffcb 139.5px,#0000ff 140.5px,#0000ff 173.5px,#ff0000 174.5px,#ff0000 178.5px,#ff9200 181.5px,#ffe200 183.5px,#f9ff00 184.5px,#84ff00 188.5px,#18ff00 193.5px,#06ff00 194.5px,#00ff46 199.5px,#00ff9f 207.5px,#00ffb1 209.5px)"></i>
<i style="top:412px;left:398px;width:210px;height:1px;background:linear-gradient(90deg,#00ffb2 0.5px,#00ff56 9.5px,#02ff00 15.5px,#66ff00 20.5px,#d0ff00 24.5px,#efff00 25.5px,#ffed00 26.5px,#ff7500 29.5px,#ff1200 31.5px,#ff0000 32.5px,#ff0000 35.5px,#0000ff 36.5px,#0000ff 69.5px,#00ffc1 70.5px,#00feff 75.5px,#009eff 85.5px,#0059ff 96.5px,#0044ff 104.5px,#0054ff 112.5px,#0096ff 123.5px,#00f2ff 133.5px,#00fff5 135.5px,#00ffb4 140.5px,#0000ff 141.5px,#0000ff 173.5px,#ff0000 174.5px,#ff0000 177.5px,#ff0c00 178.5px,#ff9c00 181.5px,#ffe900 183.5px,#f3ff00 184.5px,#80ff00 188.5px,#15ff00 193.5px,#04ff00 194.5px,#00ff6d 202.5px,#00ffb1 209.5px)"></i>
<i style="top:413px;left:398px;width:210px;height:1px;background:linear-gradient(90deg,#00ffb3 0.5px,#00ff58 9.5px,#00ff01 15.5px,#61ff00 20.5px,#c9ff00 24.5px,#fff500 26.5px,#ff8200 29.5px,#ff2300 31.5px,#ff0000 32.5px,#ff0000 35.5px,#0000ff 36.5px,#0000ff 68.5px,#00ffa7 69.5px,#00fff9 75.5px,#00c7ff 81.5px,#0077ff 92.5px,#0054ff 101.5px,#0056ff 109.5px,#0082ff 119.5px,#00cfff 129.5px,#00fffa 134.5px,#00ffa9 140.5px,#0000ff 141.5px,#0000ff 173.5px,#ff0000 174.5px,#ff0000 177.5px,#ff1e00 178.5px,#ffa700 181.5px,#fff200 183.5px,#ebff00 184.5px,#7bff00 188.5px,#12ff00 193.5px,#01ff00 194.5px,#00ff63 201.5px,#00ffb2 209.5px)"></i>
<i style="top:414px;left:398px;width:210px;height:1px;background:linear-gradient(90deg,#00ffb4 0.5px,#00ff5a 9.5px,#00ff04 15.5px,#46ff00 19.5px,#c1ff00 24.5px,#ffff00 26.5px,#ff9000 29.5px,#ff0300 32.5px,#ff0000 36.5px,#0000ff 37.5px,#0000ff 68.5px,#00ff9c 69.5px,#00fff2 75.5px,#00fffd 76.5px,#00a5ff 86.5px,#006eff 96.5px,#005dff 105.5px,#0072ff 114.5px,#00b4ff 125.5px,#00ffff 133.5px,#00ffaf 139.5px,#00ff9e 140.5px,#0000ff 141.5px,#0000ff 172.5px,#ff0000 173.5px,#ff0000 177.5px,#ff8c00 180.5px,#fffc00 183.5px,#75ff00 188.5px,#0fff00 193.5px,#00ff02 194.5px,#00ff65 201.5px,#00ffb3 209.5px)"></i>
<i style="top:415px;left:398px;width:210px;height:1px;background:linear-gradient(90deg,#00ffb5 0.5px,#00ff5c 9.5px,#00ff08 15.5px,#1bff00 17.5px,#84ff00 22.5px,#f4ff00 26.5px,#ffe900 27.5px,#ff7700 30.5px,#ff1b00 32.5px,#ff0000 33.5px,#ff0000 36.5px,#0000ff 37.5px,#0000ff 67.5px,#00ff7c 68.5px,#00ffd0 73.5px,#00fdff 77.5px,#00aeff 86.5px,#0079ff 96.5px,#0069ff 105.5px,#007cff 114.5px,#00b4ff 124.5px,#00fcff 132.5px,#00ffb5 138.5px,#00ff7f 141.5px,#0000ff 142.5px,#0000ff 172.5px,#ff0000 173.5px,#ff0000 176.5px,#ff1600 177.5px,#ff9c00 180.5px,#ffe600 182.5px,#f7ff00 183.5px,#86ff00 187.5px,#1cff00 192.5px,#00ff06 194.5px,#00ff67 201.5px,#00ffb5 209.5px)"></i>
<i style="top:416px;left:398px;width:210px;height:1px;background:linear-gradient(90deg,#00ffb7 0.5px,#00ff5f 9.5px,#04ff00 16.5px,#65ff00 21.5px,#e8ff00 26.5px,#fff700 27.5px,#ff8a00 30.5px,#ff0400 33.5px,#ff0000 37.5px,#0000ff 38.5px,#0000ff 67.5px,#00ff70 68.5px,#00ffb9 72.5px,#00fff9 77.5px,#00deff 81.5px,#0099ff 91.5px,#0078ff 101.5px,#007bff 110.5px,#00a3ff 120.5px,#00f0ff 130.5px,#00fffa 132.5px,#00ffab 138.5px,#00ff73 141.5px,#0000ff 142.5px,#0000ff 171.5px,#ff0000 172.5px,#ff0000 176.5px,#ff8600 179.5px,#fff400 182.5px,#ebff00 183.5px,#7fff00 187.5px,#18ff00 192.5px,#06ff00 193.5px,#00ff44 198.5px,#00ffa5 207.5px,#00ffb6 209.5px)"></i>
<i style="top:417px;left:398px;width:210px;height:1px;background:linear-gradient(90deg,#00ffb8 0.5px,#00ff61 9.5px,#00ff00 16.5px,#74ff00 22.5px,#f9ff00 27.5px,#ffc300 29.5px,#ff4e00 32.5px,#ff2200 33.5px,#ff0000 34.5px,#ff0000 38.5px,#0000ff 39.5px,#0000ff 66.5px,#00ff4d 67.5px,#00ffa0 71.5px,#00fff0 77.5px,#00f9ff 79.5px,#00b3ff 88.5px,#0089ff 98.5px,#0083ff 108.5px,#00a2ff 118.5px,#00e5ff 128.5px,#00fffc 131.5px,#00ffb1 137.5px,#00ff67 141.5px,#00ff4f 142.5px,#0000ff 143.5px,#0000ff 170.5px,#ff0000 171.5px,#ff0000 175.5px,#ff1d00 176.5px,#ff9b00 179.5px,#fcff00 182.5px,#76ff00 187.5px,#01ff00 193.5px,#00ff6c 201.5px,#00ffb7 209.5px)"></i>
<i style="top:418px;left:398px;width:210px;height:1px;background:linear-gradient(90deg,#00ffba 0.5px,#00ff64 9.5px,#00ff05 16.5px,#2eff00 19.5px,#9aff00 24.5px,#eaff00 27.5px,#fff600 28.5px,#ff6900 32.5px,#ff1500 34.5px,#ff0000 35.5px,#ff0000 39.5px,#0000ff 40.5px,#0000ff 65.5px,#00ff26 66.5px,#00ff71 69.5px,#00ffc4 74.5px,#00fffd 79.5px,#00b7ff 89.5px,#0092ff 99.5px,#0090ff 109.5px,#00b1ff 119.5px,#00eeff 128.5px,#00fffe 130.5px,#00ffa8 137.5px,#00ff5d 141.5px,#00ff29 143.5px,#0000ff 144.5px,#0000ff 170.5px,#ff0000 171.5px,#ff0000 174.5px,#ff1000 175.5px,#ffb000 179.5px,#fff300 181.5px,#edff00 182.5px,#6dff00 187.5px,#0dff00 192.5px,#00ff04 193.5px,#00ff63 200.5px,#00ffb9 209.5px)"></i>
<i style="top:419px;left:398px;width:210px;height:1px;background:linear-gradient(90deg,#00ffbc 0.5px,#00ff5c 10.5px,#05ff00 17.5px,#77ff00 23.5px,#f7ff00 28.5px,#ffc900 30.5px,#ff3700 34.5px,#ff0d00 35.5px,#ff0000 36.5px,#ff0000 39.5px,#0000ff 40.5px,#0000ff 64.5px,#02ff00 65.5px,#00ff52 68.5px,#00ff9e 72.5px,#00ffea 78.5px,#00fffe 80.5px,#00bbff 90.5px,#009bff 100.5px,#009cff 110.5px,#00c0ff 120.5px,#00fffe 129.5px,#00ffaf 136.5px,#00ff6a 140.5px,#00ff21 143.5px,#00ff02 144.5px,#0000ff 145.5px,#0000ff 169.5px,#ff0000 170.5px,#ff0000 173.5px,#ff0900 174.5px,#ffa400 178.5px,#faff00 181.5px,#7aff00 186.5px,#07ff00 192.5px,#00ff35 196.5px,#00ff99 205.5px,#00ffbb 209.5px)"></i>
<i style="top:420px;left:398px;width:210px;height:1px;background:linear-gradient(90deg,#00ffbe 0.5px,#00ff60 10.5px,#00ff01 17.5px,#6dff00 23.5px,#fffc00 29.5px,#ff5900 34.5px,#ff0d00 36.5px,#ff0000 37.5px,#ff0000 41.5px,#0000ff 42.5px,#0000ff 63.5px,#29ff00 64.5px,#07ff00 65.5px,#00ff4a 68.5px,#00ff96 72.5px,#00ffe2 78.5px,#00fffe 81.5px,#00c0ff 91.5px,#00a3ff 102.5px,#00aeff 113.5px,#00dbff 123.5px,#00ffff 128.5px,#00ffb4 135.5px,#00ff62 140.5px,#04ff00 144.5px,#26ff00 145.5px,#0000ff 146.5px,#0000ff 168.5px,#ff0000 169.5px,#ff0000 172.5px,#ff0900 173.5px,#ffbc00 178.5px,#fff900 180.5px,#6fff00 186.5px,#00ff00 192.5px,#00ff6a 200.5px,#00ffbd 209.5px)"></i>
<i style="top:421px;left:398px;width:210px;height:1px;background:linear-gradient(90deg,#00ffc0 0.5px,#00ff63 10.5px,#00ff08 17.5px,#18ff00 19.5px,#8cff00 25.5px,#efff00 29.5px,#fff400 30.5px,#ff5800 35.5px,#ff1300 37.5px,#ff0000 38.5px,#ff0000 42.5px,#0000ff 43.5px,#0000ff 62.5px,#4fff00 63.5px,#0bff00 65.5px,#00ff12 66.5px,#00ff6c 70.5px,#00ffb8 75.5px,#00fffe 82.5px,#00c2ff 93.5px,#00adff 104.5px,#00beff 115.5px,#00f1ff 125.5px,#00fffe 127.5px,#00ffb9 134.5px,#00ff6e 139.5px,#00ff15 143.5px,#08ff00 144.5px,#4bff00 146.5px,#0000ff 147.5px,#0000ff 166.5px,#ff0000 167.5px,#ff0000 171.5px,#ff0f00 172.5px,#ffd400 178.5px,#fff100 179.5px,#f1ff00 180.5px,#79ff00 185.5px,#09ff00 191.5px,#00ff15 193.5px,#00ff78 201.5px,#00ffbf 209.5px)"></i>
<i style="top:422px;left:398px;width:210px;height:1px;background:linear-gradient(90deg,#00ffc2 0.5px,#00ff67 10.5px,#01ff00 18.5px,#7fff00 25.5px,#f5ff00 30.5px,#ffef00 31.5px,#ff0100 39.5px,#ff0000 44.5px,#0000ff 45.5px,#0000ff 60.5px,#98ff00 61.5px,#2bff00 64.5px,#0dff00 65.5px,#00ff0f 66.5px,#00ff66 70.5px,#00ffbc 76.5px,#00fffd 83.5px,#00c8ff 94.5px,#00b7ff 105.5px,#00cbff 116.5px,#00fffd 126.5px,#00ffb2 134.5px,#00ff68 139.5px,#00ff11 143.5px,#0aff00 144.5px,#6dff00 147.5px,#94ff00 148.5px,#0000ff 149.5px,#0000ff 165.5px,#ff0000 166.5px,#ff0000 170.5px,#ffec00 178.5px,#f7ff00 179.5px,#6cff00 185.5px,#02ff00 191.5px,#00ff71 200.5px,#00ffc1 209.5px)"></i>
<i style="top:423px;left:398px;width:210px;height:1px;background:linear-gradient(90deg,#00ffc4 0.5px,#00ff6c 10.5px,#00ff07 18.5px,#18ff00 20.5px,#9bff00 27.5px,#f8ff00 31.5px,#ffd300 33.5px,#ff0000 41.5px,#ff0000 46.5px,#0000ff 47.5px,#0000ff 58.5px,#dcff00 59.5px,#48ff00 63.5px,#0dff00 65.5px,#00ff0c 66.5px,#00ff60 70.5px,#00ffb5 76.5px,#00fffc 84.5px,#00cbff 96.5px,#00c1ff 107.5px,#00dcff 118.5px,#00fffc 125.5px,#00ffb6 133.5px,#00ff62 139.5px,#00ff0f 143.5px,#0bff00 144.5px,#66ff00 147.5px,#d8ff00 150.5px,#0000ff 151.5px,#0000ff 162.5px,#ff0000 163.5px,#ff0000 168.5px,#ffb600 175.5px,#faff00 178.5px,#60ff00 185.5px,#0aff00 190.5px,#00ff14 192.5px,#00ff7f 201.5px,#00ffc3 209.5px)"></i>
<i style="top:424px;left:398px;width:210px;height:1px;background:linear-gradient(90deg,#00ffc6 0.5px,#00ff65 11.5px,#00ff00 19.5px,#77ff00 26.5px,#f8ff00 32.5px,#ffbe00 35.5px,#ff3500 41.5px,#ff0700 44.5px,#ff0000 48.5px,#ff1600 50.5px,#ff2a00 51.5px,#0000ff 52.5px,#0000ff 53.5px,#ff8000 54.5px,#ffed00 57.5px,#ecff00 58.5px,#62ff00 62.5px,#0dff00 65.5px,#00ff0c 66.5px,#00ff6c 71.5px,#00ffb9 77.5px,#00fffa 85.5px,#00d0ff 98.5px,#00cdff 109.5px,#00edff 120.5px,#00fffb 124.5px,#00ffba 132.5px,#00ff6e 138.5px,#00ff0e 143.5px,#0aff00 144.5px,#7eff00 148.5px,#e8ff00 151.5px,#fff000 152.5px,#ff8400 155.5px,#0000ff 156.5px,#0000ff 157.5px,#ff2d00 158.5px,#ff0900 160.5px,#ff0000 162.5px,#ff0500 165.5px,#ff3300 168.5px,#fbff00 177.5px,#66ff00 184.5px,#01ff00 190.5px,#00ff6f 199.5px,#00ffc5 209.5px)"></i>
<i style="top:425px;left:398px;width:210px;height:1px;background:linear-gradient(90deg,#00ffc9 0.5px,#00ff6a 11.5px,#00ff08 19.5px,#15ff00 21.5px,#a2ff00 29.5px,#f6ff00 33.5px,#ffdd00 35.5px,#ff6500 41.5px,#ff3f00 44.5px,#ff3500 47.5px,#ff5000 50.5px,#ff9000 53.5px,#ffe900 56.5px,#f5ff00 57.5px,#3dff00 63.5px,#0bff00 65.5px,#00ff0c 66.5px,#00ff67 71.5px,#00ffbc 78.5px,#00fffe 87.5px,#00d9ff 98.5px,#00d6ff 109.5px,#00f6ff 120.5px,#00fff9 123.5px,#00ffb3 132.5px,#00ff69 138.5px,#00ff0e 143.5px,#09ff00 144.5px,#91ff00 149.5px,#f2ff00 152.5px,#ffec00 153.5px,#ff7a00 157.5px,#ff4400 160.5px,#ff3400 163.5px,#ff4800 166.5px,#ff8700 170.5px,#fff100 175.5px,#f8ff00 176.5px,#59ff00 184.5px,#07ff00 189.5px,#00ff22 192.5px,#00ff87 201.5px,#00ffc8 209.5px)"></i>
<i style="top:426px;left:398px;width:210px;height:1px;background:linear-gradient(90deg,#00ffcb 0.5px,#00ff6f 11.5px,#00ff03 20.5px,#6cff00 27.5px,#fffa00 35.5px,#ff9100 41.5px,#ff7100 44.5px,#ff6a00 47.5px,#ff8300 50.5px,#ffbb00 53.5px,#ffec00 55.5px,#f7ff00 56.5px,#37ff00 63.5px,#09ff00 65.5px,#00ff20 67.5px,#00ff7f 73.5px,#00ffc8 80.5px,#00feff 89.5px,#00deff 100.5px,#00e1ff 111.5px,#00fffc 121.5px,#00ffc0 130.5px,#00ff73 137.5px,#00ff22 142.5px,#06ff00 144.5px,#83ff00 149.5px,#f4ff00 153.5px,#ffef00 154.5px,#ff9400 158.5px,#ff7000 161.5px,#ff6b00 164.5px,#ff8300 167.5px,#ffd200 172.5px,#fff800 174.5px,#b8ff00 178.5px,#1cff00 187.5px,#00ff02 189.5px,#00ff6e 198.5px,#00ffca 209.5px)"></i>
<i style="top:427px;left:398px;width:210px;height:1px;background:linear-gradient(90deg,#00ffce 0.5px,#00ff74 11.5px,#01ff00 21.5px,#a1ff00 31.5px,#f9ff00 36.5px,#ffae00 42.5px,#ff9900 46.5px,#ffa600 49.5px,#ffce00 52.5px,#fff500 54.5px,#f2ff00 55.5px,#1aff00 64.5px,#05ff00 65.5px,#00ff6e 72.5px,#00ffb9 79.5px,#00fff4 88.5px,#00f6ff 93.5px,#00e4ff 105.5px,#00f6ff 116.5px,#00fff5 121.5px,#00ffba 130.5px,#00ff70 137.5px,#03ff00 144.5px,#a6ff00 151.5px,#f0ff00 154.5px,#fff700 155.5px,#ffb100 159.5px,#ff9a00 162.5px,#ff9e00 165.5px,#ffc500 169.5px,#fbff00 173.5px,#2eff00 185.5px,#03ff00 188.5px,#00ff7d 199.5px,#00ffcd 209.5px)"></i>
<i style="top:428px;left:398px;width:210px;height:1px;background:linear-gradient(90deg,#00ffd0 0.5px,#00ff6f 12.5px,#05ff00 22.5px,#fbff00 38.5px,#ffcd00 43.5px,#ffc400 47.5px,#ffd800 50.5px,#fbff00 53.5px,#01ff00 65.5px,#00ff6c 72.5px,#00ffbc 80.5px,#00fff6 90.5px,#00f5ff 96.5px,#00edff 108.5px,#00fffa 118.5px,#00ffc4 128.5px,#00ff79 136.5px,#00ff24 142.5px,#00ff00 144.5px,#faff00 156.5px,#ffd000 160.5px,#ffc300 163.5px,#ffd400 167.5px,#fcff00 171.5px,#06ff00 187.5px,#00ff2d 191.5px,#00ff93 201.5px,#00ffd0 209.5px)"></i>
<i style="top:429px;left:398px;width:210px;height:1px;background:linear-gradient(90deg,#00ffd3 0.5px,#00ff75 12.5px,#00ff05 22.5px,#3fff00 27.5px,#e9ff00 39.5px,#fdff00 41.5px,#ffea00 45.5px,#fff400 49.5px,#f7ff00 51.5px,#a9ff00 56.5px,#00ff03 65.5px,#00ff69 72.5px,#00ffb7 80.5px,#00ffef 90.5px,#00faff 97.5px,#00f5ff 109.5px,#00fffa 116.5px,#00ffc6 127.5px,#00ff81 135.5px,#00ff26 142.5px,#00ff05 144.5px,#59ff00 149.5px,#dbff00 156.5px,#fffd00 159.5px,#ffe900 163.5px,#fff800 167.5px,#f5ff00 169.5px,#8aff00 177.5px,#09ff00 186.5px,#00ff11 188.5px,#00ff86 199.5px,#00ffd2 209.5px)"></i>
<i style="top:430px;left:398px;width:210px;height:2px;background:linear-gradient(90deg,#00ffd7 0.5px,#00ff74 13.5px,#04ff00 24.5px,#b4ff00 38.5px,#dbff00 43.5px,#e1ff00 47.5px,#c9ff00 51.5px,#89ff00 56.5px,#05ff00 64.5px,#00ff7c 74.5px,#00ffc4 83.5px,#00fff3 94.5px,#00fdff 105.5px,#00fff0 116.5px,#00ffbe 127.5px,#00ff73 136.5px,#04ff00 145.5px,#b2ff00 156.5px,#d8ff00 160.5px,#e2ff00 164.5px,#c8ff00 169.5px,#6dff00 177.5px,#05ff00 185.5px,#00ff8d 199.5px,#00ffd6 209.5px)"></i>
<i style="top:432px;left:398px;width:210px;height:2px;background:linear-gradient(90deg,#00ffdd 0.5px,#00ff7f 13.5px,#03ff00 26.5px,#84ff00 38.5px,#a6ff00 44.5px,#a1ff00 49.5px,#7aff00 54.5px,#05ff00 63.5px,#00ff79 74.5px,#00ffc1 84.5px,#00ffec 96.5px,#00fff2 109.5px,#00ffd4 121.5px,#00ff9b 131.5px,#00ff47 140.5px,#04ff00 146.5px,#83ff00 156.5px,#a4ff00 161.5px,#a4ff00 166.5px,#7cff00 172.5px,#04ff00 183.5px,#00ff97 199.5px,#00ffdc 209.5px)"></i>
<i style="top:434px;left:398px;width:210px;height:2px;background:linear-gradient(90deg,#00ffe2 0.5px,#00ff83 14.5px,#00ff01 28.5px,#60ff00 39.5px,#77ff00 45.5px,#68ff00 51.5px,#2dff00 58.5px,#01ff00 62.5px,#00ff78 74.5px,#00ffbe 85.5px,#00ffe4 97.5px,#00ffe7 110.5px,#00ffc8 122.5px,#00ff89 133.5px,#00ff22 144.5px,#00ff00 147.5px,#5aff00 156.5px,#76ff00 162.5px,#6cff00 168.5px,#31ff00 176.5px,#00ff00 181.5px,#00ff92 197.5px,#00ffe2 209.5px)"></i>
<i style="top:436px;left:398px;width:210px;height:2px;background:linear-gradient(90deg,#00ffe8 0.5px,#00ff7f 16.5px,#00ff00 31.5px,#3fff00 40.5px,#4dff00 47.5px,#32ff00 54.5px,#01ff00 60.5px,#00ff80 75.5px,#00ffc1 87.5px,#00ffdf 100.5px,#00ffda 113.5px,#00ffb0 126.5px,#00ff62 138.5px,#00ff00 149.5px,#3dff00 157.5px,#4dff00 163.5px,#3aff00 170.5px,#01ff00 178.5px,#00ffab 199.5px,#00ffe8 209.5px)"></i>
<i style="top:438px;left:398px;width:210px;height:2px;background:linear-gradient(90deg,#00ffee 0.5px,#00ff85 17.5px,#01ff00 35.5px,#25ff00 43.5px,#24ff00 50.5px,#00ff05 58.5px,#00ff8d 77.5px,#00ffc5 90.5px,#00ffda 104.5px,#00ffc8 118.5px,#00ff93 131.5px,#00ff23 147.5px,#01ff00 152.5px,#26ff00 160.5px,#23ff00 167.5px,#00ff04 175.5px,#00ffc1 201.5px,#00ffee 209.5px)"></i>
<i style="top:440px;left:398px;width:210px;height:2px;background:linear-gradient(90deg,#00fff4 0.5px,#00ff85 19.5px,#00ff10 37.5px,#03ff00 42.5px,#05ff00 50.5px,#00ff0b 55.5px,#00ff9d 80.5px,#00ffca 94.5px,#00ffd3 108.5px,#00ffb9 122.5px,#00ff79 136.5px,#00ff08 155.5px,#08ff00 161.5px,#00ff03 169.5px,#00ff46 181.5px,#00ffd5 203.5px,#00fff4 209.5px)"></i>
<i style="top:442px;left:398px;width:210px;height:2px;background:linear-gradient(90deg,#00fffa 0.5px,#00ff86 21.5px,#00ff2a 37.5px,#00ff14 46.5px,#00ff23 55.5px,#00ffa9 83.5px,#00ffcc 98.5px,#00ffca 113.5px,#00ffa2 128.5px,#00ff20 155.5px,#00ff14 164.5px,#00ff33 174.5px,#00fff1 207.5px,#00fffa 209.5px)"></i>
<i style="top:444px;left:398px;width:210px;height:2px;background:linear-gradient(90deg,#00feff 0.5px,#00ff8f 22.5px,#00ff3e 38.5px,#00ff2d 48.5px,#00ff42 58.5px,#00ffb0 85.5px,#00ffcc 101.5px,#00ffc1 117.5px,#00ff91 133.5px,#00ff36 155.5px,#00ff2f 165.5px,#00ff53 176.5px,#00fffb 208.5px,#00feff 209.5px)"></i>
<i style="top:446px;left:398px;width:210px;height:2px;background:linear-gradient(90deg,#00f8ff 0.5px,#00fff1 5.5px,#00ff57 37.5px,#00ff44 48.5px,#00ff59 60.5px,#00ffb6 87.5px,#00ffcb 104.5px,#00ffb8 121.5px,#00ff73 142.5px,#00ff46 157.5px,#00ff4a 167.5px,#00ff79 180.5px,#00fffd 207.5px,#00f8ff 209.5px)"></i>
<i style="top:448px;left:398px;width:210px;height:2px;background:linear-gradient(90deg,#00f2ff 0.5px,#00fff8 5.5px,#00ff6b 37.5px,#00ff58 49.5px,#00ff6e 62.5px,#00ffbb 89.5px,#00ffca 107.5px,#00ffb1 125.5px,#00ff5c 155.5px,#00ff5d 166.5px,#00ff89 180.5px,#00feff 206.5px,#00f2ff 209.5px)"></i>
<i style="top:450px;left:398px;width:210px;height:2px;background:linear-gradient(90deg,#00ecff 0.5px,#00fffb 6.5px,#00ff7d 37.5px,#00ff6b 50.5px,#00ff82 65.5px,#00ffc0 91.5px,#00ffc9 110.5px,#00ffa8 130.5px,#00ff6d 155.5px,#00ff71 167.5px,#00ffa5 183.5px,#00fcff 205.5px,#00edff 209.5px)"></i>
<i style="top:452px;left:398px;width:210px;height:2px;background:linear-gradient(90deg,#00e7ff 0.5px,#00fffa 8.5px,#00ff8e 37.5px,#00ff7c 51.5px,#00ff94 68.5px,#00ffc6 94.5px,#00ffc7 114.5px,#00ff99 139.5px,#00ff7c 157.5px,#00ff8b 171.5px,#00ffe6 196.5px,#00f9ff 204.5px,#00e7ff 209.5px)"></i>
<i style="top:454px;left:398px;width:210px;height:2px;background:linear-gradient(90deg,#00e1ff 0.5px,#00fffa 10.5px,#00ff9b 38.5px,#00ff8c 53.5px,#00ffae 76.5px,#00ffcc 100.5px,#00ffc1 122.5px,#00ff8c 155.5px,#00ff98 170.5px,#00ffe7 194.5px,#00f9ff 202.5px,#00e1ff 209.5px)"></i>
<i style="top:456px;left:398px;width:210px;height:2px;background:linear-gradient(90deg,#00dcff 0.5px,#00fffb 12.5px,#00ffa7 39.5px,#00ff9a 55.5px,#00ffcf 100.5px,#00ffc4 123.5px,#00ff9a 155.5px,#00ffa9 171.5px,#00fdff 199.5px,#00dcff 209.5px)"></i>
<i style="top:458px;left:398px;width:210px;height:2px;background:linear-gradient(90deg,#00d6ff 0.5px,#00fffc 14.5px,#00ffb3 40.5px,#00ffa7 57.5px,#00ffd3 101.5px,#00ffc4 127.5px,#00ffa7 155.5px,#00ffb9 172.5px,#00fcff 197.5px,#00d7ff 209.5px)"></i>
<i style="top:460px;left:398px;width:210px;height:2px;background:linear-gradient(90deg,#00d1ff 0.5px,#00fffb 17.5px,#00ffbc 42.5px,#00ffb4 60.5px,#00ffd7 103.5px,#00ffc3 133.5px,#00ffb3 157.5px,#00ffcb 175.5px,#00faff 195.5px,#00d1ff 209.5px)"></i>
<i style="top:462px;left:398px;width:210px;height:2px;background:linear-gradient(90deg,#00ccff 0.5px,#00fffa 20.5px,#00ffc6 44.5px,#00ffc1 64.5px,#00ffdb 105.5px,#00ffbf 157.5px,#00ffdb 177.5px,#00fbff 192.5px,#00ccff 209.5px)"></i>
<i style="top:464px;left:398px;width:210px;height:2px;background:linear-gradient(90deg,#00c7ff 0.5px,#00fffb 23.5px,#00ffce 47.5px,#00ffcd 70.5px,#00ffdf 109.5px,#00ffca 156.5px,#00ffe5 177.5px,#00f9ff 190.5px,#00c7ff 209.5px)"></i>
<i style="top:466px;left:398px;width:210px;height:2px;background:linear-gradient(90deg,#00c2ff 0.5px,#00fffa 27.5px,#00ffd6 50.5px,#00ffdb 79.5px,#00ffe2 115.5px,#00ffd4 156.5px,#00fff3 179.5px,#00f6ff 188.5px,#00c3ff 209.5px)"></i>
<i style="top:468px;left:398px;width:210px;height:2px;background:linear-gradient(90deg,#00beff 0.5px,#00fffa 31.5px,#00ffdd 55.5px,#00ffe7 118.5px,#00ffde 156.5px,#00faff 183.5px,#00beff 209.5px)"></i>
<i style="top:470px;left:398px;width:210px;height:2px;background:linear-gradient(90deg,#00b9ff 0.5px,#00fffc 35.5px,#00ffe5 60.5px,#00ffec 121.5px,#00ffe8 157.5px,#00f9ff 179.5px,#00b9ff 209.5px)"></i>
<i style="top:472px;left:398px;width:210px;height:2px;background:linear-gradient(90deg,#00b5ff 0.5px,#00fffd 40.5px,#00ffed 67.5px,#00fff0 126.5px,#00fff3 160.5px,#00f8ff 175.5px,#00b5ff 209.5px)"></i>
<i style="top:474px;left:398px;width:210px;height:2px;background:linear-gradient(90deg,#00b1ff 0.5px,#00fdff 44.5px,#00fff6 79.5px,#00fffa 158.5px,#00efff 176.5px,#00b1ff 209.5px)"></i>
<i style="top:476px;left:398px;width:210px;height:2px;background:linear-gradient(90deg,#00acff 0.5px,#00f6ff 45.5px,#00fffc 73.5px,#00faff 160.5px,#00c5ff 196.5px,#00adff 209.5px)"></i>
<i style="top:478px;left:398px;width:210px;height:2px;background:linear-gradient(90deg,#00a8ff 0.5px,#00f0ff 46.5px,#00fbff 82.5px,#00f5ff 157.5px,#00c6ff 192.5px,#00a9ff 209.5px)"></i>
<i style="top:480px;left:398px;width:210px;height:2px;background:linear-gradient(90deg,#00a4ff 0.5px,#00e9ff 47.5px,#00f5ff 87.5px,#00eeff 156.5px,#00bfff 193.5px,#00a5ff 209.5px)"></i>
<i style="top:482px;left:398px;width:210px;height:2px;background:linear-gradient(90deg,#00a1ff 0.5px,#00e3ff 48.5px,#00eeff 92.5px,#00e7ff 156.5px,#00b5ff 196.5px,#00a1ff 209.5px)"></i>
<i style="top:484px;left:398px;width:210px;height:2px;background:linear-gradient(90deg,#009dff 0.5px,#00ddff 49.5px,#00e9ff 97.5px,#00e0ff 156.5px,#00acff 199.5px,#009dff 209.5px)"></i>
<i style="top:486px;left:398px;width:210px;height:2px;background:linear-gradient(90deg,#0099ff 0.5px,#00d8ff 51.5px,#00e3ff 105.5px,#00d8ff 158.5px,#009aff 209.5px)"></i>
<i style="top:488px;left:398px;width:210px;height:2px;background:linear-gradient(90deg,#0096ff 0.5px,#00d3ff 52.5px,#00deff 110.5px,#00d1ff 160.5px,#0096ff 209.5px)"></i>
<i style="top:490px;left:398px;width:210px;height:2px;background:linear-gradient(90deg,#0093ff 0.5px,#00cdff 53.5px,#00d8ff 114.5px,#00c8ff 163.5px,#0093ff 209.5px)"></i>
<i style="top:492px;left:398px;width:210px;height:2px;background:linear-gradient(90deg,#008fff 0.5px,#00c9ff 55.5px,#00d3ff 119.5px,#00c0ff 166.5px,#008fff 209.5px)"></i>
<i style="top:494px;left:398px;width:210px;height:2px;background:linear-gradient(90deg,#008cff 0.5px,#00c4ff 56.5px,#00cdff 121.5px,#00b8ff 169.5px,#008cff 209.5px)"></i>
<i style="top:496px;left:398px;width:210px;height:2px;background:linear-gradient(90deg,#0089ff 0.5px,#00c0ff 58.5px,#00c8ff 125.5px,#00b0ff 173.5px,#0089ff 209.5px)"></i>
<i style="top:498px;left:398px;width:210px;height:2px;background:linear-gradient(90deg,#0086ff 0.5px,#00bbff 59.5px,#00c2ff 126.5px,#00a9ff 176.5px,#0086ff 209.5px)"></i>
<i style="top:500px;left:398px;width:210px;height:2px;background:linear-gradient(90deg,#0083ff 0.5px,#00b7ff 61.5px,#00bdff 129.5px,#00a1ff 180.5px,#0083ff 209.5px)"></i>
<i style="top:502px;left:398px;width:210px;height:2px;background:linear-gradient(90deg,#0080ff 0.5px,#00b2ff 62.5px,#00b8ff 130.5px,#009aff 183.5px,#0080ff 209.5px)"></i>
<i style="top:504px;left:398px;width:210px;height:2px;background:linear-gradient(90deg,#007eff 0.5px,#00afff 64.5px,#00b3ff 132.5px,#0092ff 187.5px,#007eff 209.5px)"></i>
<i style="top:506px;left:398px;width:210px;height:2px;background:linear-gradient(90deg,#007bff 0.5px,#00abff 65.5px,#00aeff 133.5px,#008bff 191.5px,#007bff 209.5px)"></i>
<i style="top:508px;left:398px;width:210px;height:2px;background:linear-gradient(90deg,#0078ff 0.5px,#00a7ff 67.5px,#00a9ff 135.5px,#0084ff 196.5px,#0079ff 209.5px)"></i>
<i style="top:510px;left:398px;width:210px;height:1px;background:linear-gradient(90deg,#0076ff 0.5px,#00a3ff 69.5px,#00a4ff 137.5px,#007cff 202.5px,#0076ff 209.5px)"></i>
<i style="top:304px;left:641px;width:18px;height:207px;background:linear-gradient(180deg,#ff0000 0.00px,#ffff00 51.60px,#00ff00 103.20px,#00ffff 154.80px,#0000ff 206.40px)"></i>
<i style="top:600px;left:33px;width:210px;height:2px;background:linear-gradient(90deg,#0001ff 0.5px,#0065ff 58.5px,#0083ff 96.5px,#0078ff 133.5px,#003fff 176.5px,#0001ff 209.5px)"></i>
<i style="top:602px;left:33px;width:210px;height:2px;background:linear-gradient(90deg,#0006ff 0.5px,#006cff 57.5px,#008bff 94.5px,#0083ff 130.5px,#004eff 171.5px,#0006ff 209.5px)"></i>
<i style="top:604px;left:33px;width:210px;height:2px;background:linear-gradient(90deg,#000bff 0.5px,#0074ff 57.5px,#0095ff 94.5px,#008dff 129.5px,#0059ff 169.5px,#000bff 209.5px)"></i>
<i style="top:606px;left:33px;width:210px;height:2px;background:linear-gradient(90deg,#0010ff 0.5px,#007cff 57.5px,#009eff 93.5px,#0097ff 128.5px,#0064ff 167.5px,#0010ff 209.5px)"></i>
<i style="top:608px;left:33px;width:210px;height:2px;background:linear-gradient(90deg,#0015ff 0.5px,#0083ff 56.5px,#00a7ff 92.5px,#00a2ff 126.5px,#0073ff 163.5px,#0015ff 209.5px)"></i>
<i style="top:610px;left:33px;width:210px;height:2px;background:linear-gradient(90deg,#001aff 0.5px,#008cff 56.5px,#00b1ff 91.5px,#00adff 124.5px,#0080ff 160.5px,#001aff 209.5px)"></i>
<i style="top:612px;left:33px;width:210px;height:2px;background:linear-gradient(90deg,#001fff 0.5px,#0095ff 56.5px,#00baff 90.5px,#00b8ff 123.5px,#008cff 158.5px,#001fff 209.5px)"></i>
<i style="top:614px;left:33px;width:210px;height:2px;background:linear-gradient(90deg,#0024ff 0.5px,#009dff 55.5px,#00c4ff 89.5px,#00c4ff 121.5px,#009bff 155.5px,#0024ff 209.5px)"></i>
<i style="top:616px;left:33px;width:210px;height:2px;background:linear-gradient(90deg,#002aff 0.5px,#00a6ff 55.5px,#00ceff 88.5px,#00cfff 120.5px,#00a8ff 153.5px,#002cff 208.5px,#0029ff 209.5px)"></i>
<i style="top:618px;left:33px;width:210px;height:2px;background:linear-gradient(90deg,#002fff 0.5px,#00b0ff 55.5px,#00d9ff 88.5px,#00dbff 119.5px,#00b5ff 151.5px,#0045ff 200.5px,#002fff 209.5px)"></i>
<i style="top:620px;left:33px;width:210px;height:2px;background:linear-gradient(90deg,#0034ff 0.5px,#00b9ff 55.5px,#00e4ff 87.5px,#00e7ff 118.5px,#00c1ff 150.5px,#0056ff 196.5px,#0034ff 209.5px)"></i>
<i style="top:622px;left:33px;width:210px;height:2px;background:linear-gradient(90deg,#003aff 0.5px,#00c3ff 55.5px,#00efff 86.5px,#00f3ff 116.5px,#00d0ff 147.5px,#006fff 189.5px,#0039ff 209.5px)"></i>
<i style="top:624px;left:33px;width:210px;height:2px;background:linear-gradient(90deg,#003fff 0.5px,#00ceff 55.5px,#00fbff 86.5px,#00faff 124.5px,#00cbff 155.5px,#003fff 209.5px)"></i>
<i style="top:626px;left:33px;width:210px;height:2px;background:linear-gradient(90deg,#0045ff 0.5px,#00d8ff 55.5px,#00fffd 80.5px,#00ffef 109.5px,#00faff 135.5px,#00b7ff 168.5px,#0044ff 209.5px)"></i>
<i style="top:628px;left:33px;width:210px;height:2px;background:linear-gradient(90deg,#004aff 0.5px,#00e1ff 54.5px,#00fffb 72.5px,#00ffe2 101.5px,#00fff1 130.5px,#00f7ff 144.5px,#009fff 180.5px,#004aff 209.5px)"></i>
<i style="top:630px;left:33px;width:210px;height:2px;background:linear-gradient(90deg,#0050ff 0.5px,#00ecff 54.5px,#00fff9 66.5px,#00ffd7 94.5px,#00ffdc 122.5px,#00fbff 148.5px,#0093ff 187.5px,#004fff 209.5px)"></i>
<i style="top:632px;left:33px;width:210px;height:2px;background:linear-gradient(90deg,#0055ff 0.5px,#00f8ff 54.5px,#00fff0 64.5px,#00ffcb 92.5px,#00ffcd 120.5px,#00fff7 148.5px,#00f5ff 156.5px,#0055ff 209.5px)"></i>
<i style="top:634px;left:33px;width:210px;height:2px;background:linear-gradient(90deg,#005bff 0.5px,#00feff 52.5px,#00ffc7 81.5px,#00ffb9 108.5px,#00ffd1 135.5px,#00fbff 158.5px,#005bff 209.5px)"></i>
<i style="top:636px;left:33px;width:210px;height:2px;background:linear-gradient(90deg,#0061ff 0.5px,#00fffc 49.5px,#00ffbf 77.5px,#00ffaa 104.5px,#00ffbd 131.5px,#00fffa 159.5px,#00d0ff 176.5px,#0060ff 209.5px)"></i>
<i style="top:638px;left:33px;width:210px;height:2px;background:linear-gradient(90deg,#0067ff 0.5px,#00fffd 45.5px,#00ffb7 73.5px,#00ff9c 99.5px,#00ffa7 125.5px,#00ffd8 151.5px,#00fbff 166.5px,#0066ff 209.5px)"></i>
<i style="top:640px;left:33px;width:210px;height:2px;background:linear-gradient(90deg,#006cff 0.5px,#00fffb 42.5px,#00ffae 70.5px,#00ff8e 95.5px,#00ff93 121.5px,#00ffbe 146.5px,#00fcff 169.5px,#006cff 209.5px)"></i>
<i style="top:642px;left:33px;width:210px;height:2px;background:linear-gradient(90deg,#0072ff 0.5px,#00fffa 39.5px,#00ffa6 67.5px,#00ff80 92.5px,#00ff80 117.5px,#00ffa6 142.5px,#00fcff 172.5px,#0072ff 209.5px)"></i>
<i style="top:644px;left:33px;width:210px;height:2px;background:linear-gradient(90deg,#0078ff 0.5px,#00fffa 36.5px,#00ff9c 65.5px,#00ff72 89.5px,#00ff6d 114.5px,#00ff8e 138.5px,#00ffd9 164.5px,#00fcff 175.5px,#0077ff 209.5px)"></i>
<i style="top:646px;left:33px;width:210px;height:2px;background:linear-gradient(90deg,#007eff 0.5px,#00fffb 33.5px,#00ff92 63.5px,#00ff63 87.5px,#00ff5b 112.5px,#00ff7a 136.5px,#00ffc2 161.5px,#00faff 178.5px,#007dff 209.5px)"></i>
<i style="top:648px;left:33px;width:210px;height:2px;background:linear-gradient(90deg,#0083ff 0.5px,#00fffd 30.5px,#00ff88 61.5px,#00ff55 84.5px,#00ff48 108.5px,#00ff61 132.5px,#00ffa2 156.5px,#00fcff 180.5px,#0083ff 209.5px)"></i>
<i style="top:650px;left:33px;width:210px;height:2px;background:linear-gradient(90deg,#0089ff 0.5px,#00fffc 28.5px,#00ff7e 59.5px,#00ff48 81.5px,#00ff35 104.5px,#00ff46 127.5px,#00ff7b 149.5px,#00fff8 180.5px,#00ebff 186.5px,#0089ff 209.5px)"></i>
<i style="top:652px;left:33px;width:210px;height:2px;background:linear-gradient(90deg,#008fff 0.5px,#00fffb 26.5px,#00ff71 58.5px,#00ff37 80.5px,#00ff22 103.5px,#00ff32 126.5px,#00ff68 148.5px,#00ffe0 177.5px,#00f9ff 185.5px,#008eff 209.5px)"></i>
<i style="top:654px;left:33px;width:210px;height:2px;background:linear-gradient(90deg,#0095ff 0.5px,#00fffb 24.5px,#00ff61 58.5px,#00ff25 79.5px,#00ff0e 101.5px,#00ff1b 124.5px,#00ff4c 145.5px,#00ffb3 170.5px,#00feff 186.5px,#0094ff 209.5px)"></i>
<i style="top:656px;left:33px;width:210px;height:2px;background:linear-gradient(90deg,#009aff 0.5px,#00fffb 22.5px,#00ff54 57.5px,#00ff15 77.5px,#03ff00 93.5px,#03ff00 116.5px,#00ff1a 134.5px,#00ff60 155.5px,#00fdff 188.5px,#009aff 209.5px)"></i>
<i style="top:658px;left:33px;width:210px;height:2px;background:linear-gradient(90deg,#00a0ff 0.5px,#00fffc 20.5px,#00ff42 57.5px,#00ff00 77.5px,#1cff00 98.5px,#14ff00 120.5px,#00ff05 134.5px,#00ff4b 154.5px,#00fcff 190.5px,#009fff 209.5px)"></i>
<i style="top:660px;left:33px;width:210px;height:2px;background:linear-gradient(90deg,#00a5ff 0.5px,#00fffe 18.5px,#00ff2f 57.5px,#02ff00 70.5px,#2bff00 89.5px,#33ff00 111.5px,#15ff00 132.5px,#00ff05 141.5px,#00ff60 162.5px,#00ffff 191.5px,#00a5ff 209.5px)"></i>
<i style="top:662px;left:33px;width:210px;height:2px;background:linear-gradient(90deg,#00abff 0.5px,#00fffb 17.5px,#00ff1c 57.5px,#02ff00 64.5px,#38ff00 82.5px,#4cff00 103.5px,#3dff00 124.5px,#0dff00 142.5px,#00ff06 147.5px,#00ff83 171.5px,#00fdff 193.5px,#00aaff 209.5px)"></i>
<i style="top:664px;left:33px;width:210px;height:2px;background:linear-gradient(90deg,#00b0ff 0.5px,#00fffe 15.5px,#00ff04 58.5px,#47ff00 78.5px,#64ff00 98.5px,#5bff00 120.5px,#32ff00 138.5px,#00ff04 151.5px,#00ffff 194.5px,#00b0ff 209.5px)"></i>
<i style="top:666px;left:33px;width:210px;height:2px;background:linear-gradient(90deg,#00b6ff 0.5px,#00fffd 14.5px,#01ff00 55.5px,#4eff00 72.5px,#77ff00 90.5px,#7dff00 112.5px,#60ff00 131.5px,#20ff00 148.5px,#00ff05 155.5px,#00fffd 195.5px,#00b5ff 209.5px)"></i>
<i style="top:668px;left:33px;width:210px;height:2px;background:linear-gradient(90deg,#00bbff 0.5px,#00fffb 13.5px,#04ff00 52.5px,#5dff00 69.5px,#8bff00 85.5px,#9bff00 106.5px,#87ff00 126.5px,#54ff00 142.5px,#00ff03 158.5px,#00fffc 196.5px,#00baff 209.5px)"></i>
<i style="top:670px;left:33px;width:210px;height:2px;background:linear-gradient(90deg,#00c0ff 0.5px,#00fffa 12.5px,#00ff1f 44.5px,#04ff00 49.5px,#6aff00 66.5px,#a0ff00 81.5px,#b8ff00 100.5px,#adff00 121.5px,#83ff00 137.5px,#31ff00 153.5px,#00ff04 161.5px,#00fff5 196.5px,#00f7ff 199.5px,#00bfff 209.5px)"></i>
<i style="top:672px;left:33px;width:210px;height:2px;background:linear-gradient(90deg,#00c5ff 0.5px,#00feff 10.5px,#00ff5a 34.5px,#01ff00 46.5px,#7aff00 64.5px,#b6ff00 78.5px,#d4ff00 95.5px,#d2ff00 117.5px,#afff00 133.5px,#6eff00 147.5px,#00ff00 163.5px,#00ffe1 194.5px,#00feff 199.5px,#00c4ff 209.5px)"></i>
<i style="top:674px;left:33px;width:210px;height:2px;background:linear-gradient(90deg,#00c9ff 0.5px,#00feff 9.5px,#00ff65 31.5px,#04ff00 44.5px,#90ff00 63.5px,#d3ff00 77.5px,#f4ff00 93.5px,#f5ff00 115.5px,#d6ff00 131.5px,#9cff00 144.5px,#23ff00 161.5px,#00ff05 166.5px,#00ffcc 192.5px,#00feff 200.5px,#00c9ff 209.5px)"></i>
<i style="top:676px;left:33px;width:210px;height:2px;background:linear-gradient(90deg,#00ceff 0.5px,#00fffa 9.5px,#00ff59 31.5px,#04ff00 42.5px,#a7ff00 62.5px,#eeff00 75.5px,#fff900 82.5px,#ffe200 100.5px,#ffed00 121.5px,#f9ff00 131.5px,#baff00 144.5px,#37ff00 161.5px,#00ff05 168.5px,#00ffc5 192.5px,#00fdff 201.5px,#00cdff 209.5px)"></i>
<i style="top:678px;left:33px;width:210px;height:2px;background:linear-gradient(90deg,#00d2ff 0.5px,#00fffb 8.5px,#00ff67 28.5px,#02ff00 40.5px,#c5ff00 62.5px,#ffff00 71.5px,#ffd000 83.5px,#ffbc00 101.5px,#ffc800 122.5px,#fff000 135.5px,#f9ff00 139.5px,#9cff00 152.5px,#02ff00 169.5px,#00ffbe 192.5px,#00fcff 202.5px,#00d1ff 209.5px)"></i>
<i style="top:680px;left:33px;width:210px;height:1px;background:linear-gradient(90deg,#00d5ff 0.5px,#00fffd 7.5px,#00ff68 27.5px,#05ff00 39.5px,#ddff00 62.5px,#fffc00 67.5px,#ffc100 78.5px,#ffa200 92.5px,#ffa000 115.5px,#ffba00 129.5px,#ffef00 140.5px,#fbff00 143.5px,#78ff00 158.5px,#04ff00 170.5px,#00ffc0 193.5px,#00fffe 202.5px,#00d4ff 209.5px)"></i>
<i style="top:681px;left:33px;width:210px;height:1px;background:linear-gradient(90deg,#00d7ff 0.5px,#00fffb 7.5px,#00ff6c 26.5px,#02ff00 38.5px,#f5ff00 63.5px,#fff800 65.5px,#ffb400 76.5px,#ff9100 88.5px,#ff8800 110.5px,#ff9c00 126.5px,#ffc900 137.5px,#fdff00 145.5px,#3dff00 165.5px,#01ff00 171.5px,#00ffad 191.5px,#00fcff 203.5px,#00d6ff 209.5px)"></i>
<i style="top:682px;left:33px;width:210px;height:1px;background:linear-gradient(90deg,#00d9ff 0.5px,#00ffff 6.5px,#00ff78 24.5px,#00ff00 37.5px,#feff00 62.5px,#ffa800 74.5px,#ff8000 85.5px,#ff7100 104.5px,#ff7e00 123.5px,#ffa300 134.5px,#ffef00 145.5px,#fdff00 147.5px,#00ff01 172.5px,#00ffa2 190.5px,#00feff 203.5px,#00d8ff 209.5px)"></i>
<i style="top:683px;left:33px;width:210px;height:1px;background:linear-gradient(90deg,#00dbff 0.5px,#00fffd 6.5px,#00ff74 24.5px,#00ff04 36.5px,#fcff00 60.5px,#ff9700 73.5px,#ff6c00 83.5px,#ff5a00 99.5px,#ff6200 121.5px,#ff8300 132.5px,#ffc300 142.5px,#fbff00 149.5px,#05ff00 172.5px,#00ff97 189.5px,#00fffe 203.5px,#00daff 209.5px)"></i>
<i style="top:684px;left:33px;width:210px;height:1px;background:linear-gradient(90deg,#00dcff 0.5px,#00fffb 6.5px,#00ff70 24.5px,#03ff00 36.5px,#fffc00 59.5px,#ff9500 70.5px,#ff5d00 80.5px,#ff4300 93.5px,#ff4600 119.5px,#ff6100 130.5px,#ff9e00 140.5px,#fffd00 150.5px,#02ff00 173.5px,#00ffa4 191.5px,#00fcff 204.5px,#00dcff 209.5px)"></i>
<i style="top:685px;left:33px;width:210px;height:1px;background:linear-gradient(90deg,#00deff 0.5px,#00feff 5.5px,#00ff7e 22.5px,#00ff02 35.5px,#e4ff00 55.5px,#fbff00 57.5px,#ff7e00 70.5px,#ff4600 79.5px,#ff2b00 90.5px,#ff2b00 119.5px,#ff4700 130.5px,#ff7f00 139.5px,#ffed00 150.5px,#faff00 152.5px,#08ff00 173.5px,#00ff0d 175.5px,#00ffa9 192.5px,#00feff 204.5px,#00deff 209.5px)"></i>
<i style="top:686px;left:33px;width:210px;height:1px;background:linear-gradient(90deg,#00e0ff 0.5px,#00fffe 5.5px,#00ff72 23.5px,#04ff00 35.5px,#f2ff00 55.5px,#feff00 56.5px,#ff6f00 69.5px,#ff2f00 78.5px,#ff1100 88.5px,#ff0e00 118.5px,#ff2600 129.5px,#ff5e00 138.5px,#ffd000 149.5px,#fdff00 153.5px,#0eff00 173.5px,#00ff08 175.5px,#00ff9e 191.5px,#00ffff 204.5px,#00dfff 209.5px)"></i>
<i style="top:687px;left:33px;width:210px;height:1px;background:linear-gradient(90deg,#00e1ff 0.5px,#00fffc 5.5px,#00ff77 22.5px,#00ff01 34.5px,#b2ff00 49.5px,#fffe00 55.5px,#ff6000 68.5px,#ff1d00 76.5px,#ff0c00 79.5px,#ff0000 80.5px,#ff0000 129.5px,#ff1200 131.5px,#ff4e00 139.5px,#ffcb00 150.5px,#ffff00 154.5px,#1fff00 172.5px,#00ff02 175.5px,#00ff9b 191.5px,#00fffd 204.5px,#00e1ff 209.5px)"></i>
<i style="top:688px;left:33px;width:210px;height:1px;background:linear-gradient(90deg,#00e3ff 0.5px,#00fffa 5.5px,#00ff74 22.5px,#04ff00 34.5px,#bdff00 49.5px,#fffd00 54.5px,#ff4800 68.5px,#ff0000 75.5px,#ff0000 134.5px,#ff8500 146.5px,#ffff00 155.5px,#25ff00 172.5px,#03ff00 175.5px,#00ffa9 193.5px,#00fcff 205.5px,#00e2ff 209.5px)"></i>
<i style="top:689px;left:33px;width:210px;height:1px;background:linear-gradient(90deg,#00e4ff 0.5px,#00feff 4.5px,#00ff83 20.5px,#00ff02 33.5px,#9eff00 46.5px,#fffe00 53.5px,#ff2e00 68.5px,#ff0000 72.5px,#ff0000 137.5px,#ff8c00 148.5px,#feff00 156.5px,#37ff00 171.5px,#00ff03 176.5px,#00ff95 191.5px,#00feff 205.5px,#00e3ff 209.5px)"></i>
<i style="top:690px;left:33px;width:210px;height:1px;background:linear-gradient(90deg,#00e5ff 0.5px,#00fffe 4.5px,#00ff77 21.5px,#03ff00 33.5px,#a7ff00 46.5px,#fdff00 52.5px,#ff0000 69.5px,#ff0000 140.5px,#ff4c00 145.5px,#fcff00 157.5px,#3cff00 171.5px,#02ff00 176.5px,#00ff9c 192.5px,#00ffff 205.5px,#00e5ff 209.5px)"></i>
<i style="top:691px;left:33px;width:210px;height:1px;background:linear-gradient(90deg,#00e7ff 0.5px,#00fffd 4.5px,#00ff75 21.5px,#00ff04 32.5px,#6aff00 41.5px,#faff00 51.5px,#ff9500 58.5px,#ff0000 67.5px,#ff0000 142.5px,#ff3600 145.5px,#fff600 157.5px,#e9ff00 159.5px,#35ff00 172.5px,#00ff06 177.5px,#00ff91 191.5px,#00fffd 205.5px,#00e6ff 209.5px)"></i>
<i style="top:692px;left:33px;width:210px;height:1px;background:linear-gradient(90deg,#00e8ff 0.5px,#00fffb 4.5px,#00ff7c 20.5px,#00ff00 32.5px,#9aff00 44.5px,#fffa00 51.5px,#ff1d00 64.5px,#ff0000 65.5px,#ff0000 143.5px,#fffb00 158.5px,#3aff00 172.5px,#00ff02 177.5px,#00ff8f 191.5px,#00fffc 205.5px,#00e7ff 209.5px)"></i>
<i style="top:693px;left:33px;width:210px;height:1px;background:linear-gradient(90deg,#00e9ff 0.5px,#00fffa 4.5px,#00ff7a 20.5px,#03ff00 32.5px,#a1ff00 44.5px,#feff00 50.5px,#ff1800 63.5px,#ff0000 64.5px,#ff0000 145.5px,#ff3f00 148.5px,#fdff00 159.5px,#4cff00 171.5px,#02ff00 177.5px,#00ff96 192.5px,#00fcff 206.5px,#00e8ff 209.5px)"></i>
<i style="top:694px;left:33px;width:210px;height:1px;background:linear-gradient(90deg,#00eaff 0.5px,#00fff9 4.5px,#00ff78 20.5px,#00ff05 31.5px,#45ff00 37.5px,#e6ff00 48.5px,#fff700 50.5px,#ff1600 62.5px,#ff0000 63.5px,#ff0000 146.5px,#ffb200 155.5px,#fff800 159.5px,#d4ff00 162.5px,#37ff00 173.5px,#05ff00 177.5px,#00ff82 190.5px,#00fffa 205.5px,#00e9ff 209.5px)"></i>
<i style="top:695px;left:33px;width:210px;height:1px;background:linear-gradient(90deg,#00ebff 0.5px,#00ffff 3.5px,#00ff7f 19.5px,#00ff02 31.5px,#80ff00 41.5px,#ffff00 49.5px,#ff4200 59.5px,#ff0000 62.5px,#ff0000 147.5px,#ff9400 154.5px,#fdff00 160.5px,#55ff00 171.5px,#00ff03 178.5px,#00ff92 192.5px,#00feff 206.5px,#00eaff 209.5px)"></i>
<i style="top:696px;left:33px;width:210px;height:1px;background:linear-gradient(90deg,#00ebff 0.5px,#00fffe 3.5px,#00ff7e 19.5px,#00ff00 31.5px,#94ff00 42.5px,#f5ff00 48.5px,#fff800 49.5px,#ff4800 58.5px,#ff0000 61.5px,#ff0000 148.5px,#ff3500 150.5px,#ffe800 159.5px,#fffa00 160.5px,#3eff00 173.5px,#00ff01 178.5px,#00ff88 191.5px,#00ffff 206.5px,#00ebff 209.5px)"></i>
<i style="top:697px;left:33px;width:210px;height:1px;background:linear-gradient(90deg,#00ecff 0.5px,#00fff7 4.5px,#00ff73 20.5px,#03ff00 31.5px,#98ff00 42.5px,#fbff00 48.5px,#ff9100 54.5px,#ff0d00 60.5px,#ff0000 61.5px,#ff0000 148.5px,#ff3d00 151.5px,#fff300 160.5px,#f9ff00 161.5px,#5cff00 171.5px,#02ff00 178.5px,#00ff90 192.5px,#00fffe 206.5px,#00ebff 209.5px)"></i>
<i style="top:698px;left:33px;width:210px;height:1px;background:linear-gradient(90deg,#00edff 0.5px,#00fff6 4.5px,#00ff72 20.5px,#05ff00 31.5px,#9cff00 42.5px,#fffe00 48.5px,#ff5d00 56.5px,#ff0000 60.5px,#ff0000 149.5px,#ff9f00 156.5px,#ffff00 161.5px,#5fff00 171.5px,#04ff00 178.5px,#00ffa0 194.5px,#00fffe 206.5px,#00ecff 209.5px)"></i>
<i style="top:699px;left:33px;width:210px;height:1px;background:linear-gradient(90deg,#00edff 0.5px,#00fff5 4.5px,#00ff71 20.5px,#00ff06 30.5px,#39ff00 35.5px,#d0ff00 45.5px,#fff900 48.5px,#ff5500 56.5px,#ff0d00 59.5px,#ff0000 60.5px,#ff0000 149.5px,#ff2800 151.5px,#ffd500 159.5px,#fffb00 161.5px,#53ff00 172.5px,#05ff00 178.5px,#00ff9f 194.5px,#00fffd 206.5px,#00ecff 209.5px)"></i>
<i style="top:700px;left:33px;width:210px;height:1px;background:linear-gradient(90deg,#00edff 0.5px,#00fffc 3.5px,#00ff79 19.5px,#00ff04 30.5px,#65ff00 38.5px,#f6ff00 47.5px,#ffe200 49.5px,#ff4e00 56.5px,#ff0000 59.5px,#ff0000 150.5px,#ff3800 152.5px,#ffd100 159.5px,#fff700 161.5px,#e3ff00 163.5px,#47ff00 173.5px,#07ff00 178.5px,#00ff28 182.5px,#00ffb0 196.5px,#00fffd 206.5px,#00edff 209.5px)"></i>
<i style="top:701px;left:33px;width:210px;height:1px;background:linear-gradient(90deg,#00eeff 0.5px,#00fffc 3.5px,#00ff79 19.5px,#00ff03 30.5px,#75ff00 39.5px,#f9ff00 47.5px,#ffcb00 50.5px,#ff3000 57.5px,#ff0000 59.5px,#ff0000 150.5px,#ffa400 157.5px,#fff400 161.5px,#f7ff00 162.5px,#65ff00 171.5px,#08ff00 178.5px,#00ff10 180.5px,#00ff95 193.5px,#00fffc 206.5px,#00edff 209.5px)"></i>
<i style="top:702px;left:33px;width:210px;height:1px;background:linear-gradient(90deg,#00eeff 0.5px,#00fffb 3.5px,#00ff78 19.5px,#00ff03 30.5px,#76ff00 39.5px,#fbff00 47.5px,#ffa000 52.5px,#ff0000 59.5px,#ff0000 150.5px,#ffcb00 159.5px,#f9ff00 162.5px,#66ff00 171.5px,#00ff04 179.5px,#00ff8c 192.5px,#00fffc 206.5px,#00edff 209.5px)"></i>
<i style="top:703px;left:33px;width:210px;height:1px;background:linear-gradient(90deg,#00eeff 0.5px,#00fffb 3.5px,#00ff78 19.5px,#00ff02 30.5px,#77ff00 39.5px,#fcff00 47.5px,#ff8900 53.5px,#ff1000 58.5px,#ff0000 59.5px,#ff0000 150.5px,#ffca00 159.5px,#faff00 162.5px,#66ff00 171.5px,#00ff03 179.5px,#00ff8c 192.5px,#00fffc 206.5px,#00edff 209.5px)"></i>
<i style="top:704px;left:33px;width:210px;height:1px;background:linear-gradient(90deg,#00eeff 0.5px,#00fffb 3.5px,#00ff78 19.5px,#00ff02 30.5px,#77ff00 39.5px,#fcff00 47.5px,#ff8900 53.5px,#ff1100 58.5px,#ff0000 59.5px,#ff0000 150.5px,#ffca00 159.5px,#faff00 162.5px,#66ff00 171.5px,#00ff04 179.5px,#00ff8c 192.5px,#00fffc 206.5px,#00edff 209.5px)"></i>
<i style="top:705px;left:33px;width:210px;height:1px;background:linear-gradient(90deg,#00eeff 0.5px,#00fffc 3.5px,#00ff78 19.5px,#00ff03 30.5px,#76ff00 39.5px,#fbff00 47.5px,#ffa000 52.5px,#ff0000 59.5px,#ff0000 150.5px,#ffb700 158.5px,#fff200 161.5px,#f9ff00 162.5px,#66ff00 171.5px,#00ff04 179.5px,#00ff8c 192.5px,#00fffc 206.5px,#00edff 209.5px)"></i>
<i style="top:706px;left:33px;width:210px;height:1px;background:linear-gradient(90deg,#00eeff 0.5px,#00fffc 3.5px,#00ff79 19.5px,#00ff03 30.5px,#66ff00 38.5px,#f9ff00 47.5px,#ffcc00 50.5px,#ff3100 57.5px,#ff0000 59.5px,#ff0000 150.5px,#ffa500 157.5px,#fff500 161.5px,#f7ff00 162.5px,#65ff00 171.5px,#08ff00 178.5px,#00ff10 180.5px,#00ff95 193.5px,#00fffc 206.5px,#00edff 209.5px)"></i>
<i style="top:707px;left:33px;width:210px;height:1px;background:linear-gradient(90deg,#00edff 0.5px,#00fffc 3.5px,#00ff79 19.5px,#00ff04 30.5px,#56ff00 37.5px,#e4ff00 46.5px,#fff600 48.5px,#ff4f00 56.5px,#ff0000 59.5px,#ff0000 150.5px,#ff3900 152.5px,#ffe500 160.5px,#fff800 161.5px,#d1ff00 164.5px,#3aff00 174.5px,#06ff00 178.5px,#00ff28 182.5px,#00ffb0 196.5px,#00fffd 206.5px,#00edff 209.5px)"></i>
<i style="top:708px;left:33px;width:210px;height:1px;background:linear-gradient(90deg,#00edff 0.5px,#00fff5 4.5px,#00ff71 20.5px,#00ff06 30.5px,#2cff00 34.5px,#bfff00 44.5px,#fffa00 48.5px,#ff5600 56.5px,#ff0e00 59.5px,#ff0000 60.5px,#ff0000 149.5px,#ff4100 152.5px,#ffe900 160.5px,#fffb00 161.5px,#53ff00 172.5px,#05ff00 178.5px,#00ff9f 194.5px,#00fffd 206.5px,#00ecff 209.5px)"></i>
<i style="top:709px;left:33px;width:210px;height:1px;background:linear-gradient(90deg,#00edff 0.5px,#00fff6 4.5px,#00ff72 20.5px,#05ff00 31.5px,#9bff00 42.5px,#fffe00 48.5px,#ff5f00 56.5px,#ff0000 60.5px,#ff0000 149.5px,#ff8c00 155.5px,#feff00 161.5px,#5fff00 171.5px,#03ff00 178.5px,#00ff98 193.5px,#00fffe 206.5px,#00ecff 209.5px)"></i>
<i style="top:710px;left:33px;width:210px;height:1px;background:linear-gradient(90deg,#00ecff 0.5px,#00fff7 4.5px,#00ff73 20.5px,#02ff00 31.5px,#97ff00 42.5px,#faff00 48.5px,#ffa600 53.5px,#ff1000 60.5px,#ff0000 61.5px,#ff0000 148.5px,#ffe200 159.5px,#f8ff00 161.5px,#5cff00 171.5px,#01ff00 178.5px,#00ff90 192.5px,#00fffe 206.5px,#00ebff 209.5px)"></i>
<i style="top:711px;left:33px;width:210px;height:1px;background:linear-gradient(90deg,#00ebff 0.5px,#00fffe 3.5px,#00ff7e 19.5px,#00ff00 31.5px,#93ff00 42.5px,#f4ff00 48.5px,#fff900 49.5px,#ff4a00 58.5px,#ff1f00 60.5px,#ff0000 61.5px,#ff0000 148.5px,#ff2100 149.5px,#ffd700 158.5px,#fffb00 160.5px,#4bff00 172.5px,#00ff01 178.5px,#00ff88 191.5px,#00ffff 206.5px,#00ebff 209.5px)"></i>
<i style="top:712px;left:33px;width:210px;height:1px;background:linear-gradient(90deg,#00eaff 0.5px,#00ffff 3.5px,#00ff7f 19.5px,#00ff03 31.5px,#80ff00 41.5px,#feff00 49.5px,#ff5800 58.5px,#ff0000 62.5px,#ff0000 147.5px,#ff3100 149.5px,#fff100 159.5px,#fcff00 160.5px,#54ff00 171.5px,#00ff04 178.5px,#00ff92 192.5px,#00feff 206.5px,#00eaff 209.5px)"></i>
<i style="top:713px;left:33px;width:210px;height:1px;background:linear-gradient(90deg,#00eaff 0.5px,#00fff9 4.5px,#00ff78 20.5px,#00ff06 31.5px,#37ff00 36.5px,#d5ff00 47.5px,#fff800 50.5px,#ff1900 62.5px,#ff0000 63.5px,#ff0000 146.5px,#ff2f00 148.5px,#fffa00 159.5px,#50ff00 171.5px,#05ff00 177.5px,#00ffa5 194.5px,#00fdff 206.5px,#00e9ff 209.5px)"></i>
<i style="top:714px;left:33px;width:210px;height:1px;background:linear-gradient(90deg,#00e9ff 0.5px,#00fffa 4.5px,#00ff7a 20.5px,#03ff00 32.5px,#a0ff00 44.5px,#fdff00 50.5px,#ff2e00 62.5px,#ff0000 64.5px,#ff0000 145.5px,#ff1d00 146.5px,#fff200 158.5px,#fbff00 159.5px,#4bff00 171.5px,#01ff00 177.5px,#00ff96 192.5px,#00fcff 206.5px,#00e8ff 209.5px)"></i>
<i style="top:715px;left:33px;width:210px;height:1px;background:linear-gradient(90deg,#00e8ff 0.5px,#00fffc 4.5px,#00ff7c 20.5px,#00ff01 32.5px,#99ff00 44.5px,#fffb00 51.5px,#ff0000 66.5px,#ff0000 143.5px,#fffd00 158.5px,#3aff00 172.5px,#00ff02 177.5px,#00ff8f 191.5px,#00fffc 205.5px,#00e7ff 209.5px)"></i>
<i style="top:716px;left:33px;width:210px;height:1px;background:linear-gradient(90deg,#00e6ff 0.5px,#00fffd 4.5px,#00ff75 21.5px,#00ff05 32.5px,#4fff00 39.5px,#f8ff00 51.5px,#ffd700 54.5px,#ff1900 66.5px,#ff0000 67.5px,#ff0000 142.5px,#ff1a00 143.5px,#fff800 157.5px,#d8ff00 160.5px,#29ff00 173.5px,#00ff06 177.5px,#00ff9a 192.5px,#00fffe 205.5px,#00e6ff 209.5px)"></i>
<i style="top:717px;left:33px;width:210px;height:1px;background:linear-gradient(90deg,#00e5ff 0.5px,#00fffe 4.5px,#00ff78 21.5px,#02ff00 33.5px,#b3ff00 47.5px,#fcff00 52.5px,#ff1700 68.5px,#ff0000 69.5px,#ff0000 139.5px,#ff9a00 150.5px,#faff00 157.5px,#3cff00 171.5px,#01ff00 176.5px,#00ff93 191.5px,#00ffff 205.5px,#00e5ff 209.5px)"></i>
<i style="top:718px;left:33px;width:210px;height:1px;background:linear-gradient(90deg,#00e4ff 0.5px,#00fff9 5.5px,#00ff72 22.5px,#00ff03 33.5px,#8fff00 45.5px,#feff00 53.5px,#ff3200 68.5px,#ff0000 72.5px,#ff0000 137.5px,#ffc800 152.5px,#fcff00 156.5px,#36ff00 171.5px,#00ff04 176.5px,#00ff96 191.5px,#00feff 205.5px,#00e3ff 209.5px)"></i>
<i style="top:719px;left:33px;width:210px;height:1px;background:linear-gradient(90deg,#00e3ff 0.5px,#00fffb 5.5px,#00ff75 22.5px,#03ff00 34.5px,#c8ff00 50.5px,#ffff00 54.5px,#ff4b00 68.5px,#ff1200 74.5px,#ff0000 75.5px,#ff0000 133.5px,#ff6300 143.5px,#fdff00 155.5px,#24ff00 172.5px,#02ff00 175.5px,#00ffa1 192.5px,#00fcff 205.5px,#00e2ff 209.5px)"></i>
<i style="top:720px;left:33px;width:210px;height:1px;background:linear-gradient(90deg,#00e1ff 0.5px,#00fffc 5.5px,#00ff78 22.5px,#00ff02 34.5px,#b0ff00 49.5px,#feff00 55.5px,#ff6400 68.5px,#ff1c00 77.5px,#ff0d00 80.5px,#ff0000 81.5px,#ff0000 128.5px,#ff1200 130.5px,#ff4800 138.5px,#ffb500 148.5px,#fdff00 154.5px,#13ff00 173.5px,#00ff03 175.5px,#00ff9b 191.5px,#00fffd 204.5px,#00e0ff 209.5px)"></i>
<i style="top:721px;left:33px;width:210px;height:1px;background:linear-gradient(90deg,#00e0ff 0.5px,#00fffe 5.5px,#00ff72 23.5px,#03ff00 35.5px,#fcff00 56.5px,#ff7300 69.5px,#ff3300 78.5px,#ff1600 88.5px,#ff1200 118.5px,#ff2b00 129.5px,#ff6200 138.5px,#ffd300 149.5px,#fbff00 153.5px,#02ff00 174.5px,#00ffa6 192.5px,#00ffff 204.5px,#00dfff 209.5px)"></i>
<i style="top:722px;left:33px;width:210px;height:1px;background:linear-gradient(90deg,#00deff 0.5px,#00fff9 6.5px,#00ff6d 24.5px,#00ff03 35.5px,#beff00 52.5px,#fffa00 58.5px,#ff8a00 69.5px,#ff4f00 78.5px,#ff3100 89.5px,#ff2e00 117.5px,#ff4700 129.5px,#ff7b00 138.5px,#ffe400 149.5px,#f8ff00 152.5px,#07ff00 173.5px,#00ff18 176.5px,#00ffb1 193.5px,#00fdff 204.5px,#00ddff 209.5px)"></i>
<i style="top:723px;left:33px;width:210px;height:1px;background:linear-gradient(90deg,#00dcff 0.5px,#00fffb 6.5px,#00ff71 24.5px,#02ff00 36.5px,#ffff00 59.5px,#ff9900 70.5px,#ff6100 80.5px,#ff4700 93.5px,#ff4a00 119.5px,#ff6500 130.5px,#ffa100 140.5px,#feff00 150.5px,#01ff00 173.5px,#00ffa4 191.5px,#00fbff 204.5px,#00dcff 209.5px)"></i>
<i style="top:724px;left:33px;width:210px;height:1px;background:linear-gradient(90deg,#00daff 0.5px,#00fffd 6.5px,#00ff75 24.5px,#05ff00 37.5px,#f9ff00 60.5px,#ffce00 66.5px,#ff8a00 76.5px,#ff6700 87.5px,#ff5d00 109.5px,#ff6e00 125.5px,#ff9600 135.5px,#ffe900 146.5px,#f8ff00 149.5px,#04ff00 172.5px,#00ffb7 193.5px,#00fffe 203.5px,#00daff 209.5px)"></i>
<i style="top:725px;left:33px;width:210px;height:1px;background:linear-gradient(90deg,#00d9ff 0.5px,#00feff 6.5px,#00ff79 24.5px,#00ff01 37.5px,#fbff00 62.5px,#ffa600 75.5px,#ff7f00 87.5px,#ff7500 109.5px,#ff8600 125.5px,#ffb100 136.5px,#faff00 147.5px,#00ff02 172.5px,#00ffa3 190.5px,#00feff 203.5px,#00d8ff 209.5px)"></i>
<i style="top:726px;left:33px;width:210px;height:1px;background:linear-gradient(90deg,#00d7ff 0.5px,#00fffb 7.5px,#00ff6c 26.5px,#01ff00 38.5px,#f3ff00 63.5px,#fff300 66.5px,#ffb300 77.5px,#ff9200 90.5px,#ff8d00 114.5px,#ffa500 128.5px,#ffd800 139.5px,#faff00 145.5px,#46ff00 164.5px,#00ff00 171.5px,#00ffae 191.5px,#00fbff 203.5px,#00d6ff 209.5px)"></i>
<i style="top:727px;left:33px;width:210px;height:2px;background:linear-gradient(90deg,#00d4ff 0.5px,#00ffff 7.5px,#00ff6b 27.5px,#00ff00 39.5px,#d2ff00 62.5px,#fffa00 69.5px,#ffc400 81.5px,#ffac00 97.5px,#ffb200 119.5px,#ffd200 132.5px,#fdff00 141.5px,#8cff00 155.5px,#00ff01 170.5px,#00ffb3 191.5px,#00feff 202.5px,#00d3ff 209.5px)"></i>
<i style="top:729px;left:33px;width:210px;height:2px;background:linear-gradient(90deg,#00d0ff 0.5px,#00fffe 8.5px,#00ff65 29.5px,#02ff00 41.5px,#b3ff00 62.5px,#fdff00 75.5px,#ffda00 90.5px,#ffd400 112.5px,#ffec00 128.5px,#f9ff00 135.5px,#abff00 148.5px,#01ff00 168.5px,#00ffc2 192.5px,#00ffff 201.5px,#00cfff 209.5px)"></i>
<i style="top:731px;left:33px;width:210px;height:2px;background:linear-gradient(90deg,#00cbff 0.5px,#00fffd 9.5px,#00ff60 31.5px,#03ff00 43.5px,#9cff00 63.5px,#deff00 76.5px,#ffff00 90.5px,#fff800 112.5px,#f7ff00 124.5px,#c9ff00 138.5px,#72ff00 152.5px,#02ff00 166.5px,#00ffd0 193.5px,#00faff 201.5px,#00cbff 209.5px)"></i>
<i style="top:733px;left:33px;width:210px;height:2px;background:linear-gradient(90deg,#00c7ff 0.5px,#00fffd 10.5px,#00ff55 34.5px,#01ff00 45.5px,#86ff00 64.5px,#c4ff00 78.5px,#e2ff00 95.5px,#dfff00 117.5px,#bdff00 133.5px,#7aff00 147.5px,#00ff00 164.5px,#00ffd7 193.5px,#00faff 200.5px,#00c6ff 209.5px)"></i>
<i style="top:735px;left:33px;width:210px;height:2px;background:linear-gradient(90deg,#00c2ff 0.5px,#00fffd 11.5px,#00ff3d 39.5px,#05ff00 48.5px,#75ff00 66.5px,#acff00 81.5px,#c5ff00 100.5px,#baff00 121.5px,#90ff00 137.5px,#41ff00 152.5px,#00ff03 162.5px,#00ffeb 195.5px,#00faff 199.5px,#00c1ff 209.5px)"></i>
<i style="top:737px;left:33px;width:210px;height:2px;background:linear-gradient(90deg,#00bdff 0.5px,#00fffe 12.5px,#00ff01 50.5px,#64ff00 68.5px,#95ff00 84.5px,#a8ff00 104.5px,#97ff00 124.5px,#68ff00 140.5px,#0cff00 157.5px,#00ff08 160.5px,#00ffff 197.5px,#00bcff 209.5px)"></i>
<i style="top:739px;left:33px;width:210px;height:2px;background:linear-gradient(90deg,#00b8ff 0.5px,#00ffff 13.5px,#00ff02 53.5px,#56ff00 71.5px,#80ff00 88.5px,#8aff00 109.5px,#73ff00 128.5px,#3dff00 144.5px,#00ff02 156.5px,#00feff 196.5px,#00b7ff 209.5px)"></i>
<i style="top:741px;left:33px;width:210px;height:2px;background:linear-gradient(90deg,#00b3ff 0.5px,#00fffb 15.5px,#00ff00 57.5px,#47ff00 74.5px,#6aff00 92.5px,#6dff00 114.5px,#4cff00 133.5px,#0aff00 150.5px,#00ff06 153.5px,#00fdff 195.5px,#00b2ff 209.5px)"></i>
<i style="top:743px;left:33px;width:210px;height:2px;background:linear-gradient(90deg,#00adff 0.5px,#00fffd 16.5px,#00ff0f 58.5px,#07ff00 63.5px,#40ff00 81.5px,#56ff00 102.5px,#49ff00 123.5px,#1aff00 141.5px,#00ff06 149.5px,#00ff9b 176.5px,#00faff 194.5px,#00adff 209.5px)"></i>
<i style="top:745px;left:33px;width:210px;height:2px;background:linear-gradient(90deg,#00a8ff 0.5px,#00fffb 18.5px,#00ff27 57.5px,#05ff00 68.5px,#32ff00 87.5px,#3eff00 109.5px,#24ff00 130.5px,#00ff03 143.5px,#00ff64 164.5px,#00fdff 192.5px,#00a7ff 209.5px)"></i>
<i style="top:747px;left:33px;width:210px;height:2px;background:linear-gradient(90deg,#00a2ff 0.5px,#00fffe 19.5px,#00ff3a 57.5px,#01ff00 74.5px,#23ff00 94.5px,#21ff00 117.5px,#00ff04 137.5px,#00ff51 157.5px,#00faff 191.5px,#00a2ff 209.5px)"></i>
<i style="top:749px;left:33px;width:210px;height:2px;background:linear-gradient(90deg,#009dff 0.5px,#00fffc 21.5px,#00ff4c 57.5px,#00ff0c 77.5px,#07ff00 88.5px,#0fff00 111.5px,#00ff06 129.5px,#00ff41 149.5px,#00ffca 178.5px,#00fcff 189.5px,#009cff 209.5px)"></i>
<i style="top:751px;left:33px;width:210px;height:2px;background:linear-gradient(90deg,#0097ff 0.5px,#00fffc 23.5px,#00ff5d 57.5px,#00ff1f 78.5px,#00ff05 100.5px,#00ff11 123.5px,#00ff41 144.5px,#00ffa4 168.5px,#00fdff 187.5px,#0097ff 209.5px)"></i>
<i style="top:753px;left:33px;width:210px;height:2px;background:linear-gradient(90deg,#0091ff 0.5px,#00fffc 25.5px,#00ff6a 58.5px,#00ff30 79.5px,#00ff19 102.5px,#00ff28 125.5px,#00ff5a 146.5px,#00ffc8 173.5px,#00fdff 185.5px,#0091ff 209.5px)"></i>
<i style="top:755px;left:33px;width:210px;height:2px;background:linear-gradient(90deg,#008cff 0.5px,#00fffc 27.5px,#00ff77 59.5px,#00ff40 81.5px,#00ff2d 104.5px,#00ff3e 127.5px,#00ff74 149.5px,#00fff4 180.5px,#00f4ff 185.5px,#008bff 209.5px)"></i>
<i style="top:757px;left:33px;width:210px;height:2px;background:linear-gradient(90deg,#0086ff 0.5px,#00fffd 29.5px,#00ff84 60.5px,#00ff4f 83.5px,#00ff40 107.5px,#00ff56 130.5px,#00ff92 153.5px,#00fcff 181.5px,#0085ff 209.5px)"></i>
<i style="top:759px;left:33px;width:210px;height:2px;background:linear-gradient(90deg,#0080ff 0.5px,#00fffb 32.5px,#00ff8e 62.5px,#00ff5e 85.5px,#00ff52 109.5px,#00ff6c 133.5px,#00ffae 157.5px,#00faff 179.5px,#0080ff 209.5px)"></i>
<i style="top:761px;left:33px;width:210px;height:2px;background:linear-gradient(90deg,#007aff 0.5px,#00fffe 34.5px,#00ff9a 63.5px,#00ff6d 87.5px,#00ff65 112.5px,#00ff83 136.5px,#00ffcd 162.5px,#00fcff 176.5px,#007aff 209.5px)"></i>
<i style="top:763px;left:33px;width:210px;height:2px;background:linear-gradient(90deg,#0075ff 0.5px,#00fffd 37.5px,#00ffa2 66.5px,#00ff7a 91.5px,#00ff78 116.5px,#00ff9d 141.5px,#00fff2 169.5px,#00f6ff 175.5px,#0074ff 209.5px)"></i>
<i style="top:765px;left:33px;width:210px;height:2px;background:linear-gradient(90deg,#006fff 0.5px,#00fffd 40.5px,#00ffac 68.5px,#00ff88 93.5px,#00ff8b 119.5px,#00ffb3 144.5px,#00fdff 170.5px,#006eff 209.5px)"></i>
<i style="top:767px;left:33px;width:210px;height:2px;background:linear-gradient(90deg,#0069ff 0.5px,#00fffb 44.5px,#00ffb2 72.5px,#00ff96 98.5px,#00ff9f 124.5px,#00ffd0 150.5px,#00fcff 167.5px,#0069ff 209.5px)"></i>
<i style="top:769px;left:33px;width:210px;height:2px;background:linear-gradient(90deg,#0063ff 0.5px,#00fffd 47.5px,#00ffbc 75.5px,#00ffa4 101.5px,#00ffb3 128.5px,#00ffea 155.5px,#00faff 164.5px,#0063ff 209.5px)"></i>
<i style="top:771px;left:33px;width:210px;height:2px;background:linear-gradient(90deg,#005eff 0.5px,#00fffe 51.5px,#00ffc4 79.5px,#00ffb3 106.5px,#00ffc8 133.5px,#00fbff 160.5px,#005dff 209.5px)"></i>
<i style="top:773px;left:33px;width:210px;height:2px;background:linear-gradient(90deg,#0058ff 0.5px,#00fcff 54.5px,#00ffcb 85.5px,#00ffc2 112.5px,#00ffe0 139.5px,#00faff 156.5px,#0058ff 209.5px)"></i>
<i style="top:775px;left:33px;width:210px;height:2px;background:linear-gradient(90deg,#0052ff 0.5px,#00f1ff 54.5px,#00fff9 63.5px,#00ffd3 91.5px,#00ffd4 119.5px,#00fffb 147.5px,#00c0ff 173.5px,#0052ff 209.5px)"></i>
<i style="top:777px;left:33px;width:210px;height:2px;background:linear-gradient(90deg,#004dff 0.5px,#00e6ff 54.5px,#00fffa 69.5px,#00ffdd 98.5px,#00ffe7 126.5px,#00fbff 145.5px,#009dff 182.5px,#004cff 209.5px)"></i>
<i style="top:779px;left:33px;width:210px;height:2px;background:linear-gradient(90deg,#0047ff 0.5px,#00dbff 54.5px,#00fffc 76.5px,#00ffea 105.5px,#00fffe 134.5px,#00c8ff 163.5px,#0047ff 209.5px)"></i>
<i style="top:781px;left:33px;width:210px;height:2px;background:linear-gradient(90deg,#0041ff 0.5px,#00d2ff 55.5px,#00ffff 85.5px,#00fff8 114.5px,#00f6ff 133.5px,#00b7ff 166.5px,#0041ff 209.5px)"></i>
<i style="top:783px;left:33px;width:210px;height:2px;background:linear-gradient(90deg,#003cff 0.5px,#00c8ff 55.5px,#00f4ff 86.5px,#00f9ff 116.5px,#00d5ff 147.5px,#0075ff 188.5px,#003cff 209.5px)"></i>
<i style="top:785px;left:33px;width:210px;height:2px;background:linear-gradient(90deg,#0036ff 0.5px,#00beff 55.5px,#00e9ff 87.5px,#00ecff 117.5px,#00c8ff 148.5px,#0066ff 191.5px,#0036ff 209.5px)"></i>
<i style="top:787px;left:33px;width:210px;height:2px;background:linear-gradient(90deg,#0031ff 0.5px,#00b4ff 55.5px,#00deff 87.5px,#00e0ff 118.5px,#00bbff 150.5px,#0050ff 197.5px,#0031ff 209.5px)"></i>
<i style="top:789px;left:33px;width:210px;height:2px;background:linear-gradient(90deg,#002cff 0.5px,#00aaff 55.5px,#00d3ff 88.5px,#00d4ff 120.5px,#00acff 153.5px,#0030ff 207.5px,#002cff 209.5px)"></i>
<i style="top:791px;left:33px;width:210px;height:2px;background:linear-gradient(90deg,#0026ff 0.5px,#00a1ff 55.5px,#00c9ff 89.5px,#00c8ff 121.5px,#009fff 155.5px,#0026ff 209.5px)"></i>
<i style="top:793px;left:33px;width:210px;height:2px;background:linear-gradient(90deg,#0021ff 0.5px,#0099ff 56.5px,#00bfff 90.5px,#00bcff 123.5px,#0090ff 158.5px,#0021ff 209.5px)"></i>
<i style="top:795px;left:33px;width:210px;height:2px;background:linear-gradient(90deg,#001cff 0.5px,#0090ff 56.5px,#00b5ff 91.5px,#00b1ff 124.5px,#0084ff 160.5px,#001cff 209.5px)"></i>
<i style="top:797px;left:33px;width:210px;height:2px;background:linear-gradient(90deg,#0017ff 0.5px,#0087ff 56.5px,#00abff 91.5px,#00a7ff 125.5px,#0078ff 162.5px,#0017ff 209.5px)"></i>
<i style="top:799px;left:33px;width:210px;height:2px;background:linear-gradient(90deg,#0012ff 0.5px,#007eff 56.5px,#00a1ff 92.5px,#009cff 126.5px,#006dff 164.5px,#0012ff 209.5px)"></i>
<i style="top:801px;left:33px;width:210px;height:2px;background:linear-gradient(90deg,#000dff 0.5px,#0077ff 57.5px,#0098ff 93.5px,#0091ff 128.5px,#0060ff 167.5px,#000dff 209.5px)"></i>
<i style="top:803px;left:33px;width:210px;height:2px;background:linear-gradient(90deg,#0008ff 0.5px,#006fff 57.5px,#008fff 94.5px,#0087ff 130.5px,#0053ff 170.5px,#0008ff 209.5px)"></i>
<i style="top:805px;left:33px;width:210px;height:2px;background:linear-gradient(90deg,#0003ff 0.5px,#0067ff 57.5px,#0086ff 95.5px,#007dff 131.5px,#0047ff 173.5px,#0003ff 209.5px)"></i>
<i style="top:807px;left:33px;width:210px;height:1px;background:linear-gradient(90deg,#0000ff 0.5px,#0063ff 60.5px,#007eff 98.5px,#0071ff 135.5px,#0036ff 179.5px,#0000ff 209.5px)"></i>
<i style="top:600px;left:276px;width:18px;height:208px;background:linear-gradient(180deg,#ff0000 0.65px,#ffff00 52.29px,#00ff00 103.93px,#00ffff 155.56px,#0000ff 207.20px)"></i>
<i style="top:593px;left:398px;width:210px;height:2px;background:linear-gradient(90deg,#006dff 0.5px,#009bff 76.5px,#0099ff 138.5px,#006dff 209.5px)"></i>
<i style="top:595px;left:398px;width:210px;height:2px;background:linear-gradient(90deg,#006fff 0.5px,#009eff 75.5px,#009eff 136.5px,#006fff 209.5px)"></i>
<i style="top:597px;left:398px;width:210px;height:2px;background:linear-gradient(90deg,#0071ff 0.5px,#00a2ff 74.5px,#00a2ff 134.5px,#0073ff 207.5px,#0071ff 209.5px)"></i>
<i style="top:599px;left:398px;width:210px;height:2px;background:linear-gradient(90deg,#0073ff 0.5px,#00a6ff 73.5px,#00a7ff 133.5px,#0079ff 202.5px,#0073ff 209.5px)"></i>
<i style="top:601px;left:398px;width:210px;height:2px;background:linear-gradient(90deg,#0075ff 0.5px,#00aaff 72.5px,#00acff 131.5px,#0082ff 195.5px,#0075ff 209.5px)"></i>
<i style="top:603px;left:398px;width:210px;height:2px;background:linear-gradient(90deg,#0078ff 0.5px,#00aeff 71.5px,#00b1ff 129.5px,#008aff 189.5px,#0078ff 209.5px)"></i>
<i style="top:605px;left:398px;width:210px;height:2px;background:linear-gradient(90deg,#007aff 0.5px,#00b2ff 70.5px,#00b6ff 127.5px,#0092ff 184.5px,#007aff 209.5px)"></i>
<i style="top:607px;left:398px;width:210px;height:2px;background:linear-gradient(90deg,#007cff 0.5px,#00b6ff 68.5px,#00bcff 124.5px,#009bff 178.5px,#007cff 209.5px)"></i>
<i style="top:609px;left:398px;width:210px;height:2px;background:linear-gradient(90deg,#007fff 0.5px,#00baff 67.5px,#00c2ff 122.5px,#00a3ff 174.5px,#007fff 209.5px)"></i>
<i style="top:611px;left:398px;width:210px;height:2px;background:linear-gradient(90deg,#0081ff 0.5px,#00bfff 66.5px,#00c7ff 120.5px,#00abff 170.5px,#0081ff 209.5px)"></i>
<i style="top:613px;left:398px;width:210px;height:2px;background:linear-gradient(90deg,#0084ff 0.5px,#00c4ff 65.5px,#00cdff 118.5px,#00b2ff 167.5px,#0084ff 209.5px)"></i>
<i style="top:615px;left:398px;width:210px;height:2px;background:linear-gradient(90deg,#0086ff 0.5px,#00c9ff 64.5px,#00d4ff 116.5px,#00baff 163.5px,#0086ff 209.5px)"></i>
<i style="top:617px;left:398px;width:210px;height:2px;background:linear-gradient(90deg,#0089ff 0.5px,#00ceff 63.5px,#00daff 114.5px,#00c2ff 160.5px,#0089ff 209.5px)"></i>
<i style="top:619px;left:398px;width:210px;height:2px;background:linear-gradient(90deg,#008cff 0.5px,#00d4ff 63.5px,#00e0ff 113.5px,#00caff 158.5px,#008cff 209.5px)"></i>
<i style="top:621px;left:398px;width:210px;height:2px;background:linear-gradient(90deg,#008fff 0.5px,#00d9ff 62.5px,#00e7ff 110.5px,#00d3ff 155.5px,#008fff 209.5px)"></i>
<i style="top:623px;left:398px;width:210px;height:2px;background:linear-gradient(90deg,#0091ff 0.5px,#00dfff 61.5px,#00eeff 108.5px,#00dcff 152.5px,#0091ff 209.5px)"></i>
<i style="top:625px;left:398px;width:210px;height:2px;background:linear-gradient(90deg,#0094ff 0.5px,#00e5ff 60.5px,#00f6ff 105.5px,#00e5ff 149.5px,#0094ff 209.5px)"></i>
<i style="top:627px;left:398px;width:210px;height:2px;background:linear-gradient(90deg,#0097ff 0.5px,#00ebff 59.5px,#00fdff 102.5px,#00eeff 147.5px,#00aaff 197.5px,#0097ff 209.5px)"></i>
<i style="top:629px;left:398px;width:210px;height:2px;background:linear-gradient(90deg,#009aff 0.5px,#00f3ff 59.5px,#00fffb 87.5px,#00f9ff 142.5px,#00c5ff 183.5px,#009aff 209.5px)"></i>
<i style="top:631px;left:398px;width:210px;height:2px;background:linear-gradient(90deg,#009dff 0.5px,#00f9ff 58.5px,#00fff1 112.5px,#00f9ff 151.5px,#009dff 209.5px)"></i>
<i style="top:633px;left:398px;width:210px;height:2px;background:linear-gradient(90deg,#00a1ff 0.5px,#00ffff 56.5px,#00ffe9 93.5px,#00fff2 140.5px,#00f9ff 158.5px,#00a1ff 209.5px)"></i>
<i style="top:635px;left:398px;width:210px;height:2px;background:linear-gradient(90deg,#00a4ff 0.5px,#00fffd 51.5px,#00ffe2 84.5px,#00ffe6 135.5px,#00faff 163.5px,#00a4ff 209.5px)"></i>
<i style="top:637px;left:398px;width:210px;height:2px;background:linear-gradient(90deg,#00a7ff 0.5px,#00fffc 46.5px,#00ffdb 77.5px,#00ffda 130.5px,#00fff9 161.5px,#00e9ff 176.5px,#00a7ff 209.5px)"></i>
<i style="top:639px;left:398px;width:210px;height:2px;background:linear-gradient(90deg,#00aaff 0.5px,#00fffb 42.5px,#00ffd3 72.5px,#00ffcd 123.5px,#00ffe5 154.5px,#00fbff 171.5px,#00aaff 209.5px)"></i>
<i style="top:641px;left:398px;width:210px;height:2px;background:linear-gradient(90deg,#00aeff 0.5px,#00fffb 38.5px,#00ffcc 67.5px,#00ffc0 109.5px,#00ffcf 145.5px,#00faff 175.5px,#00aeff 209.5px)"></i>
<i style="top:643px;left:398px;width:210px;height:2px;background:linear-gradient(90deg,#00b1ff 0.5px,#00fffa 35.5px,#00ffc4 64.5px,#00ffb5 99.5px,#00ffc0 141.5px,#00ffee 169.5px,#00faff 178.5px,#00b1ff 209.5px)"></i>
<i style="top:645px;left:398px;width:210px;height:2px;background:linear-gradient(90deg,#00b5ff 0.5px,#00fffa 32.5px,#00ffbc 61.5px,#00ffaa 91.5px,#00ffb2 139.5px,#00ffdc 165.5px,#00faff 181.5px,#00b5ff 209.5px)"></i>
<i style="top:647px;left:398px;width:210px;height:2px;background:linear-gradient(90deg,#00b8ff 0.5px,#00fffa 29.5px,#00ffb2 59.5px,#00ff9d 85.5px,#00ffa4 138.5px,#00ffca 162.5px,#00fcff 183.5px,#00b8ff 209.5px)"></i>
<i style="top:649px;left:398px;width:210px;height:2px;background:linear-gradient(90deg,#00bcff 0.5px,#00fffb 26.5px,#00ffa9 57.5px,#00ff90 81.5px,#00ff95 137.5px,#00ffba 160.5px,#00faff 186.5px,#00bcff 209.5px)"></i>
<i style="top:651px;left:398px;width:210px;height:2px;background:linear-gradient(90deg,#00bfff 0.5px,#00fffa 24.5px,#00ff9d 56.5px,#00ff82 78.5px,#00ff86 137.5px,#00ffa8 158.5px,#00fbff 188.5px,#00bfff 209.5px)"></i>
<i style="top:653px;left:398px;width:210px;height:2px;background:linear-gradient(90deg,#00c3ff 0.5px,#00fffc 21.5px,#00ff8e 56.5px,#00ff72 77.5px,#00ff75 137.5px,#00ff98 157.5px,#00fbff 190.5px,#00c3ff 209.5px)"></i>
<i style="top:655px;left:398px;width:210px;height:2px;background:linear-gradient(90deg,#00c6ff 0.5px,#00fffd 19.5px,#00ff7e 56.5px,#00ff61 75.5px,#00ff64 138.5px,#00ff88 157.5px,#00fbff 192.5px,#00c6ff 209.5px)"></i>
<i style="top:657px;left:398px;width:210px;height:2px;background:linear-gradient(90deg,#00caff 0.5px,#00fffa 18.5px,#00ff6c 56.5px,#00ff4e 74.5px,#00ff50 138.5px,#00ff75 156.5px,#00fdff 193.5px,#00caff 209.5px)"></i>
<i style="top:659px;left:398px;width:210px;height:2px;background:linear-gradient(90deg,#00cdff 0.5px,#00fffb 16.5px,#00ff59 56.5px,#00ff39 73.5px,#00ff3b 138.5px,#00ff60 155.5px,#00fcff 195.5px,#00cdff 209.5px)"></i>
<i style="top:661px;left:398px;width:210px;height:2px;background:linear-gradient(90deg,#00d1ff 0.5px,#00fffc 14.5px,#00ff42 57.5px,#00ff22 72.5px,#00ff23 138.5px,#00ff45 153.5px,#00feff 196.5px,#00d1ff 209.5px)"></i>
<i style="top:663px;left:398px;width:210px;height:2px;background:linear-gradient(90deg,#00d5ff 0.5px,#00fffb 13.5px,#00ff5b 46.5px,#00ff18 63.5px,#00ff04 78.5px,#00ff09 116.5px,#00ff09 138.5px,#00ff2b 152.5px,#00ffff 197.5px,#00d5ff 209.5px)"></i>
<i style="top:665px;left:398px;width:210px;height:2px;background:linear-gradient(90deg,#00d8ff 0.5px,#00fff9 12.5px,#00ff81 36.5px,#00ff0e 58.5px,#06ff00 64.5px,#19ff00 78.5px,#10ff00 112.5px,#17ff00 136.5px,#00ff03 148.5px,#00ff54 165.5px,#00ffe8 193.5px,#00f9ff 200.5px,#00d8ff 209.5px)"></i>
<i style="top:667px;left:398px;width:210px;height:2px;background:linear-gradient(90deg,#00dbff 0.5px,#00fffc 10.5px,#00ff91 31.5px,#00ff01 55.5px,#30ff00 68.5px,#39ff00 82.5px,#2cff00 109.5px,#39ff00 135.5px,#1eff00 147.5px,#00ff06 155.5px,#00ffd3 190.5px,#00feff 200.5px,#00dbff 209.5px)"></i>
<i style="top:669px;left:398px;width:210px;height:2px;background:linear-gradient(90deg,#00dfff 0.5px,#00fffc 9.5px,#00ff92 29.5px,#03ff00 51.5px,#48ff00 64.5px,#60ff00 75.5px,#4dff00 109.5px,#60ff00 134.5px,#48ff00 145.5px,#00ff04 159.5px,#00ffb6 186.5px,#00feff 201.5px,#00dfff 209.5px)"></i>
<i style="top:671px;left:398px;width:210px;height:2px;background:linear-gradient(90deg,#00e2ff 0.5px,#00fffc 8.5px,#00ff9b 26.5px,#00ff01 47.5px,#65ff00 62.5px,#88ff00 72.5px,#86ff00 85.5px,#72ff00 106.5px,#8bff00 134.5px,#73ff00 144.5px,#2dff00 156.5px,#00ff01 162.5px,#00ffa1 184.5px,#00feff 202.5px,#00e2ff 209.5px)"></i>
<i style="top:673px;left:398px;width:210px;height:2px;background:linear-gradient(90deg,#00e5ff 0.5px,#00fffc 7.5px,#00ff98 25.5px,#00ff0b 43.5px,#07ff00 45.5px,#89ff00 61.5px,#b5ff00 70.5px,#beff00 80.5px,#9eff00 104.5px,#b4ff00 122.5px,#beff00 134.5px,#a6ff00 143.5px,#5dff00 154.5px,#00ff02 165.5px,#00ff91 183.5px,#00fff3 200.5px,#00f5ff 205.5px,#00e5ff 209.5px)"></i>
<i style="top:675px;left:398px;width:210px;height:1px;background:linear-gradient(90deg,#00e7ff 0.5px,#00fff9 7.5px,#00ff98 24.5px,#00ff17 40.5px,#05ff00 43.5px,#acff00 61.5px,#dfff00 70.5px,#ebff00 79.5px,#c3ff00 104.5px,#d7ff00 119.5px,#ebff00 132.5px,#d7ff00 141.5px,#9cff00 150.5px,#00ff04 167.5px,#00ff8a 183.5px,#00ffef 200.5px,#00f8ff 205.5px,#00e7ff 209.5px)"></i>
<i style="top:676px;left:398px;width:210px;height:1px;background:linear-gradient(90deg,#00e9ff 0.5px,#00fffb 6.5px,#00ff9b 23.5px,#00ff20 38.5px,#07ff00 42.5px,#c4ff00 61.5px,#fdff00 70.5px,#fff200 79.5px,#f9ff00 89.5px,#dfff00 103.5px,#eeff00 116.5px,#fff900 125.5px,#fff500 135.5px,#f9ff00 140.5px,#bcff00 149.5px,#00ff03 168.5px,#00ff85 183.5px,#00ffe8 199.5px,#00faff 205.5px,#00e9ff 209.5px)"></i>
<i style="top:677px;left:398px;width:210px;height:1px;background:linear-gradient(90deg,#00eaff 0.5px,#00fffa 6.5px,#00ff9e 22.5px,#00ff2b 36.5px,#00ff03 40.5px,#f0ff00 63.5px,#fff600 66.5px,#ffd200 74.5px,#ffd300 83.5px,#ffff00 101.5px,#fff600 113.5px,#ffce00 130.5px,#ffdb00 138.5px,#fffe00 144.5px,#acff00 153.5px,#00ff03 169.5px,#00ff81 183.5px,#00ffe6 199.5px,#00fbff 205.5px,#00eaff 209.5px)"></i>
<i style="top:678px;left:398px;width:210px;height:1px;background:linear-gradient(90deg,#00ecff 0.5px,#00fff8 6.5px,#00ff9a 22.5px,#00ff23 36.5px,#07ff00 40.5px,#faff00 61.5px,#ffbb00 70.5px,#ffa600 77.5px,#ffb700 87.5px,#ffdd00 101.5px,#ffd600 112.5px,#ffa600 130.5px,#ffb100 137.5px,#ffde00 144.5px,#faff00 148.5px,#07ff00 169.5px,#00ff23 173.5px,#00ff9a 187.5px,#00fff8 203.5px,#00ecff 209.5px)"></i>
<i style="top:679px;left:398px;width:210px;height:1px;background:linear-gradient(90deg,#00edff 0.5px,#00fffb 5.5px,#00ff9e 21.5px,#00ff2f 34.5px,#05ff00 39.5px,#fffe00 59.5px,#ffa900 67.5px,#ff8000 74.5px,#ff7c00 81.5px,#ffb700 101.5px,#ffb200 111.5px,#ff7a00 129.5px,#ff8400 136.5px,#ffb200 143.5px,#fffe00 150.5px,#05ff00 170.5px,#00ff8f 186.5px,#00ffec 201.5px,#00faff 206.5px,#00edff 209.5px)"></i>
<i style="top:680px;left:398px;width:210px;height:1px;background:linear-gradient(90deg,#00eeff 0.5px,#00fff9 5.5px,#00ffa1 20.5px,#00ff33 33.5px,#03ff00 38.5px,#abff00 51.5px,#fffd00 57.5px,#ff8b00 66.5px,#ff5500 73.5px,#ff4900 80.5px,#ff6d00 91.5px,#ff8e00 102.5px,#ff8700 111.5px,#ff4a00 128.5px,#ff5100 135.5px,#ff7800 141.5px,#ffd400 149.5px,#fffd00 152.5px,#1aff00 169.5px,#03ff00 171.5px,#00ff83 185.5px,#00ffe5 200.5px,#00fbff 206.5px,#00eeff 209.5px)"></i>
<i style="top:681px;left:398px;width:210px;height:1px;background:linear-gradient(90deg,#00f0ff 0.5px,#00fff8 5.5px,#00ff9e 20.5px,#00ff36 32.5px,#00ff00 37.5px,#91ff00 48.5px,#fdff00 55.5px,#ff6200 66.5px,#ff2800 72.5px,#ff1100 78.5px,#ff1d00 85.5px,#ff5c00 100.5px,#ff5e00 108.5px,#ff3400 119.5px,#ff1200 128.5px,#ff1800 134.5px,#ff4100 140.5px,#ff9700 147.5px,#fdff00 154.5px,#3eff00 167.5px,#00ff00 172.5px,#00ff77 184.5px,#00ffd8 198.5px,#00fdff 206.5px,#00f0ff 209.5px)"></i>
<i style="top:682px;left:398px;width:210px;height:1px;background:linear-gradient(90deg,#00f1ff 0.5px,#00fffb 4.5px,#00ffa2 19.5px,#00ff3b 31.5px,#00ff04 36.5px,#65ff00 44.5px,#f4ff00 53.5px,#fff900 54.5px,#ff3500 66.5px,#ff0300 70.5px,#ff0000 81.5px,#0000ff 82.5px,#0000ff 127.5px,#ff0000 128.5px,#ff0300 139.5px,#ff6200 146.5px,#fff900 155.5px,#83ff00 163.5px,#08ff00 172.5px,#00ff0f 174.5px,#00ff7b 185.5px,#00ffdc 199.5px,#00faff 207.5px,#00f1ff 209.5px)"></i>
<i style="top:683px;left:398px;width:210px;height:1px;background:linear-gradient(90deg,#00f2ff 0.5px,#00fffa 4.5px,#00ffa0 19.5px,#00ff35 31.5px,#04ff00 36.5px,#91ff00 46.5px,#f8ff00 52.5px,#ffce00 55.5px,#ff0400 66.5px,#ff0000 75.5px,#0000ff 76.5px,#0000ff 133.5px,#ff0000 134.5px,#ff0400 143.5px,#fff400 156.5px,#f8ff00 157.5px,#54ff00 167.5px,#04ff00 173.5px,#00ff80 186.5px,#00ffe0 200.5px,#00fbff 207.5px,#00f2ff 209.5px)"></i>
<i style="top:684px;left:398px;width:210px;height:1px;background:linear-gradient(90deg,#00f3ff 0.5px,#00fff8 4.5px,#00ff9d 19.5px,#00ff3a 30.5px,#00ff01 35.5px,#7eff00 44.5px,#fbff00 51.5px,#ff7500 58.5px,#ff0b00 63.5px,#ff0000 64.5px,#ff0000 72.5px,#0000ff 73.5px,#0000ff 136.5px,#ff0000 137.5px,#ff0000 145.5px,#ff2000 147.5px,#fff000 157.5px,#fbff00 158.5px,#5fff00 167.5px,#00ff01 174.5px,#00ff74 185.5px,#00ffd2 198.5px,#00fcff 207.5px,#00f3ff 209.5px)"></i>
<i style="top:685px;left:398px;width:210px;height:1px;background:linear-gradient(90deg,#00f4ff 0.5px,#00fff7 4.5px,#00ffa2 18.5px,#00ff40 29.5px,#06ff00 35.5px,#8bff00 44.5px,#fbff00 50.5px,#ff8200 56.5px,#ff0c00 61.5px,#ff0000 62.5px,#ff0000 69.5px,#0000ff 70.5px,#0000ff 139.5px,#ff0000 140.5px,#ff0000 147.5px,#ff0c00 148.5px,#ffef00 158.5px,#fbff00 159.5px,#6aff00 167.5px,#06ff00 174.5px,#00ff5e 183.5px,#00ffbe 195.5px,#00fdff 207.5px,#00f4ff 209.5px)"></i>
<i style="top:686px;left:398px;width:210px;height:1px;background:linear-gradient(90deg,#00f5ff 0.5px,#00fff6 4.5px,#00ff9f 18.5px,#00ff3c 29.5px,#00ff01 34.5px,#74ff00 42.5px,#f8ff00 49.5px,#ffda00 51.5px,#ff0000 60.5px,#ff0000 67.5px,#0000ff 68.5px,#0000ff 141.5px,#ff0000 142.5px,#ff0000 149.5px,#fff000 159.5px,#f8ff00 160.5px,#64ff00 168.5px,#00ff01 175.5px,#00ff6d 185.5px,#00ffcf 198.5px,#00feff 207.5px,#00f5ff 209.5px)"></i>
<i style="top:687px;left:398px;width:210px;height:1px;background:linear-gradient(90deg,#00f6ff 0.5px,#00fff5 4.5px,#00ff9d 18.5px,#00ff37 29.5px,#05ff00 34.5px,#7fff00 42.5px,#f4ff00 48.5px,#fff400 49.5px,#ff4500 56.5px,#ff0d00 58.5px,#ff0000 59.5px,#ff0000 65.5px,#0000ff 66.5px,#0000ff 143.5px,#ff0000 144.5px,#ff0000 150.5px,#ff0d00 151.5px,#ffc600 158.5px,#fff400 160.5px,#f4ff00 161.5px,#6eff00 168.5px,#05ff00 175.5px,#00ff7c 187.5px,#00ffda 200.5px,#00fbff 208.5px,#00f6ff 209.5px)"></i>
<i style="top:688px;left:398px;width:210px;height:1px;background:linear-gradient(90deg,#00f7ff 0.5px,#00fff4 4.5px,#00ff9b 18.5px,#00ff33 29.5px,#00ff03 33.5px,#65ff00 40.5px,#fffb00 48.5px,#ff6100 54.5px,#ff0800 57.5px,#ff0000 59.5px,#ff0000 64.5px,#0000ff 65.5px,#0000ff 144.5px,#ff0000 145.5px,#ff0000 151.5px,#ff0800 152.5px,#ffb200 158.5px,#fffb00 161.5px,#65ff00 169.5px,#00ff03 176.5px,#00ff71 186.5px,#00ffcc 198.5px,#00fbff 208.5px,#00f7ff 209.5px)"></i>
<i style="top:689px;left:398px;width:210px;height:1px;background:linear-gradient(90deg,#00f8ff 0.5px,#00ffee 5.5px,#00ff91 19.5px,#00ff30 29.5px,#02ff00 33.5px,#7fff00 41.5px,#fbff00 47.5px,#ff9e00 51.5px,#ff0800 56.5px,#ff0000 58.5px,#ff0000 63.5px,#0000ff 64.5px,#0000ff 145.5px,#ff0000 146.5px,#ff0000 152.5px,#ff0800 153.5px,#ff9e00 158.5px,#fbff00 162.5px,#6eff00 169.5px,#02ff00 176.5px,#00ff77 187.5px,#00ffd7 200.5px,#00fcff 208.5px,#00f8ff 209.5px)"></i>
<i style="top:690px;left:398px;width:210px;height:1px;background:linear-gradient(90deg,#00f8ff 0.5px,#00ffed 5.5px,#00ff97 18.5px,#00ff38 28.5px,#00ff07 32.5px,#15ff00 34.5px,#88ff00 41.5px,#f1ff00 46.5px,#fff600 47.5px,#ff6e00 52.5px,#ff0d00 55.5px,#ff0000 56.5px,#ff0000 62.5px,#0000ff 63.5px,#0000ff 146.5px,#ff0000 147.5px,#ff0000 153.5px,#ff0d00 154.5px,#ffa800 159.5px,#fff600 162.5px,#daff00 164.5px,#52ff00 171.5px,#07ff00 176.5px,#00ff2c 180.5px,#00ff8f 190.5px,#00ffe7 203.5px,#00fdff 208.5px,#00f8ff 209.5px)"></i>
<i style="top:691px;left:398px;width:210px;height:1px;background:linear-gradient(90deg,#00f9ff 0.5px,#00ffe7 6.5px,#00ff8e 19.5px,#00ff29 29.5px,#00ff03 32.5px,#58ff00 38.5px,#ceff00 44.5px,#fcff00 46.5px,#ff9700 50.5px,#ff1700 54.5px,#ff0000 55.5px,#ff0000 61.5px,#0000ff 62.5px,#0000ff 147.5px,#ff0000 148.5px,#ff0000 154.5px,#ff1700 155.5px,#ffb400 160.5px,#fcff00 163.5px,#7cff00 169.5px,#0bff00 176.5px,#00ff03 177.5px,#00ff6a 186.5px,#00ffc9 198.5px,#00feff 208.5px,#00f9ff 209.5px)"></i>
<i style="top:692px;left:398px;width:210px;height:1px;background:linear-gradient(90deg,#00f9ff 0.5px,#00ffe0 7.5px,#00ff83 20.5px,#00ff1a 30.5px,#01ff00 32.5px,#70ff00 39.5px,#eeff00 45.5px,#fff700 46.5px,#ff6900 51.5px,#ff0100 54.5px,#ff0000 60.5px,#0000ff 61.5px,#0000ff 148.5px,#ff0000 149.5px,#ff0100 155.5px,#ffa600 160.5px,#fff700 163.5px,#d7ff00 165.5px,#5eff00 171.5px,#01ff00 177.5px,#00ff68 186.5px,#00ffc8 198.5px,#00feff 208.5px,#00f9ff 209.5px)"></i>
<i style="top:693px;left:398px;width:210px;height:1px;background:linear-gradient(90deg,#00faff 0.5px,#00ffd3 9.5px,#00ff79 21.5px,#00ff17 30.5px,#04ff00 32.5px,#75ff00 39.5px,#f7ff00 45.5px,#ffd300 47.5px,#ff3700 52.5px,#ff1300 53.5px,#ff0000 54.5px,#ff0000 59.5px,#0000ff 60.5px,#0000ff 149.5px,#ff0000 150.5px,#ff0000 155.5px,#ff1300 156.5px,#ff9900 160.5px,#ffee00 163.5px,#f7ff00 164.5px,#75ff00 170.5px,#04ff00 177.5px,#00ff79 188.5px,#00ffd3 200.5px,#00faff 209.5px)"></i>
<i style="top:694px;left:398px;width:210px;height:1px;background:linear-gradient(90deg,#00faff 0.5px,#00ffcc 10.5px,#00ff6e 22.5px,#00ff07 31.5px,#15ff00 33.5px,#8dff00 40.5px,#feff00 45.5px,#ff6e00 50.5px,#ff0200 53.5px,#ff0000 59.5px,#0000ff 60.5px,#0000ff 149.5px,#ff0000 150.5px,#ff0200 156.5px,#ff8e00 160.5px,#feff00 164.5px,#7aff00 170.5px,#06ff00 177.5px,#00ff2e 181.5px,#00ff92 191.5px,#00ffea 204.5px,#00faff 209.5px)"></i>
<i style="top:695px;left:398px;width:210px;height:1px;background:linear-gradient(90deg,#00fbff 0.5px,#00ffcc 10.5px,#00ff6d 22.5px,#00ff05 31.5px,#36ff00 35.5px,#a6ff00 41.5px,#fff900 45.5px,#ff6400 50.5px,#ff1b00 52.5px,#ff0000 53.5px,#ff0000 58.5px,#0000ff 59.5px,#0000ff 150.5px,#ff0000 151.5px,#ff0000 156.5px,#ff1b00 157.5px,#ffa400 161.5px,#fff900 164.5px,#7eff00 170.5px,#09ff00 177.5px,#00ff13 179.5px,#00ff77 188.5px,#00ffd2 200.5px,#00fbff 209.5px)"></i>
<i style="top:696px;left:398px;width:210px;height:1px;background:linear-gradient(90deg,#00fbff 0.5px,#00ffc5 11.5px,#00ff6c 22.5px,#00ff04 31.5px,#49ff00 36.5px,#c0ff00 42.5px,#f0ff00 44.5px,#fff400 45.5px,#ff7d00 49.5px,#ff1100 52.5px,#ff0000 53.5px,#ff0000 58.5px,#0000ff 59.5px,#0000ff 150.5px,#ff0000 151.5px,#ff0000 156.5px,#ff1100 157.5px,#ff9d00 161.5px,#fff400 164.5px,#f0ff00 165.5px,#6dff00 171.5px,#0aff00 177.5px,#00ff04 178.5px,#00ff6c 187.5px,#00ffcb 199.5px,#00fbff 209.5px)"></i>
<i style="top:697px;left:398px;width:210px;height:1px;background:linear-gradient(90deg,#00fbff 0.5px,#00ffc4 11.5px,#00ff6b 22.5px,#00ff02 31.5px,#5dff00 37.5px,#dbff00 43.5px,#f4ff00 44.5px,#fff000 45.5px,#ff7700 49.5px,#ff0900 52.5px,#ff0000 54.5px,#ff0000 58.5px,#0000ff 59.5px,#0000ff 150.5px,#ff0000 151.5px,#ff0000 156.5px,#ff0900 157.5px,#ff9800 161.5px,#fff000 164.5px,#f4ff00 165.5px,#6fff00 171.5px,#0cff00 177.5px,#00ff02 178.5px,#00ff6b 187.5px,#00ffcb 199.5px,#00fbff 209.5px)"></i>
<i style="top:698px;left:398px;width:210px;height:1px;background:linear-gradient(90deg,#00fbff 0.5px,#00ffc4 11.5px,#00ff6b 22.5px,#00ff02 31.5px,#5eff00 37.5px,#ddff00 43.5px,#f6ff00 44.5px,#ffee00 45.5px,#ff7400 49.5px,#ff0400 52.5px,#ff0000 58.5px,#0000ff 59.5px,#0000ff 150.5px,#ff0000 151.5px,#ff0400 157.5px,#ff9500 161.5px,#ffee00 164.5px,#f6ff00 165.5px,#71ff00 171.5px,#0dff00 177.5px,#00ff02 178.5px,#00ff6b 187.5px,#00ffcb 199.5px,#00fbff 209.5px)"></i>
<i style="top:699px;left:398px;width:210px;height:1px;background:linear-gradient(90deg,#00fbff 0.5px,#00ffc4 11.5px,#00ff6b 22.5px,#00ff01 31.5px,#5fff00 37.5px,#deff00 43.5px,#f7ff00 44.5px,#ffd000 46.5px,#ff4f00 50.5px,#ff0200 52.5px,#ff0000 58.5px,#0000ff 59.5px,#0000ff 150.5px,#ff0000 151.5px,#ff0200 157.5px,#ff9300 161.5px,#ffed00 164.5px,#f7ff00 165.5px,#85ff00 170.5px,#0dff00 177.5px,#00ff01 178.5px,#00ff6b 187.5px,#00ffcb 199.5px,#00fbff 209.5px)"></i>
<i style="top:700px;left:398px;width:210px;height:1px;background:linear-gradient(90deg,#00fbff 0.5px,#00ffc4 11.5px,#00ff6b 22.5px,#00ff01 31.5px,#5eff00 37.5px,#ddff00 43.5px,#f7ff00 44.5px,#ffd100 46.5px,#ff5000 50.5px,#ff0300 52.5px,#ff0000 58.5px,#0000ff 59.5px,#0000ff 150.5px,#ff0000 151.5px,#ff0300 157.5px,#ff9400 161.5px,#ffed00 164.5px,#f7ff00 165.5px,#85ff00 170.5px,#0dff00 177.5px,#00ff01 178.5px,#00ff6b 187.5px,#00ffcb 199.5px,#00fbff 209.5px)"></i>
<i style="top:701px;left:398px;width:210px;height:1px;background:linear-gradient(90deg,#00fbff 0.5px,#00ffc4 11.5px,#00ff6b 22.5px,#00ff02 31.5px,#5eff00 37.5px,#dcff00 43.5px,#f5ff00 44.5px,#ffef00 45.5px,#ff7600 49.5px,#ff0600 52.5px,#ff0000 56.5px,#ff0000 58.5px,#0000ff 59.5px,#0000ff 150.5px,#ff0000 151.5px,#ff0000 156.5px,#ff0600 157.5px,#ff9600 161.5px,#ffef00 164.5px,#f5ff00 165.5px,#70ff00 171.5px,#0cff00 177.5px,#00ff02 178.5px,#00ff6b 187.5px,#00ffcb 199.5px,#00fbff 209.5px)"></i>
<i style="top:702px;left:398px;width:210px;height:1px;background:linear-gradient(90deg,#00fbff 0.5px,#00ffc5 11.5px,#00ff6c 22.5px,#00ff03 31.5px,#5cff00 37.5px,#d9ff00 43.5px,#f2ff00 44.5px,#fff200 45.5px,#ff7a00 49.5px,#ff0d00 52.5px,#ff0000 53.5px,#ff0000 58.5px,#0000ff 59.5px,#0000ff 150.5px,#ff0000 151.5px,#ff0000 156.5px,#ff0d00 157.5px,#ff9b00 161.5px,#fff200 164.5px,#f2ff00 165.5px,#6eff00 171.5px,#0bff00 177.5px,#00ff03 178.5px,#00ff6c 187.5px,#00ffcb 199.5px,#00fbff 209.5px)"></i>
<i style="top:703px;left:398px;width:210px;height:1px;background:linear-gradient(90deg,#00fbff 0.5px,#00ffc5 11.5px,#00ff6d 22.5px,#00ff05 31.5px,#48ff00 36.5px,#beff00 42.5px,#eeff00 44.5px,#fff700 45.5px,#ff6000 50.5px,#ff1600 52.5px,#ff0000 53.5px,#ff0000 58.5px,#0000ff 59.5px,#0000ff 150.5px,#ff0000 151.5px,#ff0000 156.5px,#ff1600 157.5px,#ffa100 161.5px,#fff700 164.5px,#d5ff00 166.5px,#5aff00 172.5px,#0aff00 177.5px,#00ff12 179.5px,#00ff76 188.5px,#00ffd2 200.5px,#00fbff 209.5px)"></i>
<i style="top:704px;left:398px;width:210px;height:1px;background:linear-gradient(90deg,#00fbff 0.5px,#00ffcc 10.5px,#00ff6e 22.5px,#00ff06 31.5px,#25ff00 34.5px,#a4ff00 41.5px,#fffd00 45.5px,#ff6900 50.5px,#ff0000 53.5px,#ff0000 59.5px,#0000ff 60.5px,#0000ff 149.5px,#ff0000 150.5px,#ff0000 156.5px,#ffa900 161.5px,#fffd00 164.5px,#7bff00 170.5px,#07ff00 177.5px,#00ff21 180.5px,#00ff89 190.5px,#00ffe4 203.5px,#00fbff 209.5px)"></i>
<i style="top:705px;left:398px;width:210px;height:1px;background:linear-gradient(90deg,#00faff 0.5px,#00ffd3 9.5px,#00ff78 21.5px,#00ff16 30.5px,#05ff00 32.5px,#77ff00 39.5px,#faff00 45.5px,#ffb200 48.5px,#ff3000 52.5px,#ff0b00 53.5px,#ff0000 54.5px,#ff0000 59.5px,#0000ff 60.5px,#0000ff 149.5px,#ff0000 150.5px,#ff0000 155.5px,#ff0b00 156.5px,#ff9400 160.5px,#ffea00 163.5px,#faff00 164.5px,#77ff00 170.5px,#05ff00 177.5px,#00ff78 188.5px,#00ffd3 200.5px,#00faff 209.5px)"></i>
<i style="top:706px;left:398px;width:210px;height:1px;background:linear-gradient(90deg,#00faff 0.5px,#00ffda 8.5px,#00ff83 20.5px,#00ff18 30.5px,#02ff00 32.5px,#72ff00 39.5px,#f2ff00 45.5px,#fff300 46.5px,#ff6200 51.5px,#ff0000 54.5px,#ff0000 60.5px,#0000ff 61.5px,#0000ff 148.5px,#ff0000 149.5px,#ff0000 155.5px,#ffbd00 161.5px,#fff300 163.5px,#f2ff00 164.5px,#72ff00 170.5px,#02ff00 177.5px,#00ff70 187.5px,#00ffce 199.5px,#00feff 208.5px,#00faff 209.5px)"></i>
<i style="top:707px;left:398px;width:210px;height:1px;background:linear-gradient(90deg,#00f9ff 0.5px,#00ffe0 7.5px,#00ff84 20.5px,#00ff1b 30.5px,#00ff01 32.5px,#6dff00 39.5px,#fffd00 46.5px,#ff7200 51.5px,#ff0d00 54.5px,#ff0000 55.5px,#ff0000 60.5px,#0000ff 61.5px,#0000ff 148.5px,#ff0000 149.5px,#ff0000 154.5px,#ff0d00 155.5px,#ffad00 160.5px,#fffd00 163.5px,#6dff00 170.5px,#00ff01 177.5px,#00ff69 186.5px,#00ffc8 198.5px,#00feff 208.5px,#00f9ff 209.5px)"></i>
<i style="top:708px;left:398px;width:210px;height:1px;background:linear-gradient(90deg,#00f9ff 0.5px,#00ffe7 6.5px,#00ff8e 19.5px,#00ff2b 29.5px,#00ff05 32.5px,#35ff00 36.5px,#b3ff00 43.5px,#f6ff00 46.5px,#fff000 47.5px,#ff6500 52.5px,#ff0200 55.5px,#ff0000 61.5px,#0000ff 62.5px,#0000ff 147.5px,#ff0000 148.5px,#ff0200 154.5px,#ffa000 159.5px,#fff000 162.5px,#f6ff00 163.5px,#78ff00 169.5px,#09ff00 176.5px,#00ff12 178.5px,#00ff7d 188.5px,#00ffdc 201.5px,#00fdff 208.5px,#00f9ff 209.5px)"></i>
<i style="top:709px;left:398px;width:210px;height:1px;background:linear-gradient(90deg,#00f8ff 0.5px,#00ffed 5.5px,#00ff98 18.5px,#00ff3a 28.5px,#04ff00 33.5px,#83ff00 41.5px,#fffd00 47.5px,#ff5b00 53.5px,#ff0000 56.5px,#ff0000 62.5px,#0000ff 63.5px,#0000ff 146.5px,#ff0000 147.5px,#ff0000 153.5px,#ffcb00 160.5px,#fffd00 162.5px,#71ff00 169.5px,#04ff00 176.5px,#00ff7f 188.5px,#00ffdd 201.5px,#00fdff 208.5px,#00f8ff 209.5px)"></i>
<i style="top:710px;left:398px;width:210px;height:1px;background:linear-gradient(90deg,#00f7ff 0.5px,#00fff3 4.5px,#00ff9a 18.5px,#00ff32 29.5px,#00ff01 33.5px,#7bff00 41.5px,#f3ff00 47.5px,#fff400 48.5px,#ff5600 54.5px,#ff0000 57.5px,#ff0000 63.5px,#0000ff 64.5px,#0000ff 145.5px,#ff0000 146.5px,#ff0000 152.5px,#ffdc00 160.5px,#fff400 161.5px,#f3ff00 162.5px,#69ff00 169.5px,#00ff01 176.5px,#00ff6f 186.5px,#00ffcc 198.5px,#00fcff 208.5px,#00f7ff 209.5px)"></i>
<i style="top:711px;left:398px;width:210px;height:1px;background:linear-gradient(90deg,#00f6ff 0.5px,#00fff4 4.5px,#00ff9c 18.5px,#00ff36 29.5px,#00ff06 33.5px,#32ff00 37.5px,#a8ff00 44.5px,#fbff00 48.5px,#ff8a00 53.5px,#ff0000 58.5px,#ff0000 65.5px,#0000ff 66.5px,#0000ff 143.5px,#ff0000 144.5px,#ff0000 151.5px,#ffd500 159.5px,#fbff00 161.5px,#72ff00 168.5px,#08ff00 175.5px,#00ff12 177.5px,#00ff7b 187.5px,#00ffd9 200.5px,#00fbff 208.5px,#00f6ff 209.5px)"></i>
<i style="top:712px;left:398px;width:210px;height:1px;background:linear-gradient(90deg,#00f5ff 0.5px,#00fff5 4.5px,#00ff9e 18.5px,#00ff3a 29.5px,#02ff00 34.5px,#79ff00 42.5px,#fffe00 49.5px,#ff5600 56.5px,#ff0500 59.5px,#ff0000 66.5px,#0000ff 67.5px,#0000ff 142.5px,#ff0000 143.5px,#ff0500 150.5px,#ffd100 158.5px,#fffe00 160.5px,#68ff00 168.5px,#02ff00 175.5px,#00ff75 186.5px,#00ffd4 199.5px,#00faff 208.5px,#00f5ff 209.5px)"></i>
<i style="top:713px;left:398px;width:210px;height:1px;background:linear-gradient(90deg,#00f4ff 0.5px,#00fff7 4.5px,#00ffa1 18.5px,#00ff3e 29.5px,#00ff04 34.5px,#4fff00 40.5px,#dbff00 48.5px,#fffb00 50.5px,#ff2b00 59.5px,#ff0000 61.5px,#ff0000 68.5px,#0000ff 69.5px,#0000ff 140.5px,#ff0000 141.5px,#ff0000 148.5px,#ff4300 151.5px,#fffb00 159.5px,#4fff00 169.5px,#00ff04 175.5px,#00ff6f 185.5px,#00ffd0 198.5px,#00feff 207.5px,#00f4ff 209.5px)"></i>
<i style="top:714px;left:398px;width:210px;height:1px;background:linear-gradient(90deg,#00f3ff 0.5px,#00fff3 5.5px,#00ff9c 19.5px,#00ff38 30.5px,#02ff00 35.5px,#84ff00 44.5px,#fffa00 51.5px,#ff0c00 62.5px,#ff0000 63.5px,#ff0000 70.5px,#0000ff 71.5px,#0000ff 138.5px,#ff0000 139.5px,#ff0000 146.5px,#ff2300 148.5px,#fffa00 158.5px,#55ff00 168.5px,#02ff00 174.5px,#00ff7b 186.5px,#00ffd8 199.5px,#00fdff 207.5px,#00f3ff 209.5px)"></i>
<i style="top:715px;left:398px;width:210px;height:1px;background:linear-gradient(90deg,#00f2ff 0.5px,#00fff9 4.5px,#00ff9e 19.5px,#00ff33 31.5px,#00ff05 35.5px,#3cff00 40.5px,#cbff00 49.5px,#fffc00 52.5px,#ff0000 65.5px,#ff0000 74.5px,#0000ff 75.5px,#0000ff 134.5px,#ff0000 135.5px,#ff0000 144.5px,#fffc00 157.5px,#4aff00 168.5px,#07ff00 173.5px,#00ff1c 176.5px,#00ff87 187.5px,#00ffe4 201.5px,#00fbff 207.5px,#00f2ff 209.5px)"></i>
<i style="top:716px;left:398px;width:210px;height:1px;background:linear-gradient(90deg,#00f1ff 0.5px,#00fffa 4.5px,#00ffa1 19.5px,#00ff38 31.5px,#00ff00 36.5px,#89ff00 46.5px,#feff00 53.5px,#ff1f00 66.5px,#ff0300 68.5px,#ff0000 78.5px,#0000ff 79.5px,#0000ff 130.5px,#ff0000 131.5px,#ff0300 141.5px,#ff8300 149.5px,#feff00 156.5px,#4eff00 167.5px,#00ff00 173.5px,#00ff71 184.5px,#00ffcf 197.5px,#00faff 207.5px,#00f1ff 209.5px)"></i>
<i style="top:717px;left:398px;width:210px;height:1px;background:linear-gradient(90deg,#00f0ff 0.5px,#00fff7 5.5px,#00ff9d 20.5px,#00ff34 32.5px,#04ff00 37.5px,#99ff00 48.5px,#f8ff00 54.5px,#ffe600 56.5px,#ff4e00 66.5px,#ff1000 72.5px,#ff0000 75.5px,#ff0200 85.5px,#ff1a00 90.5px,#0000ff 91.5px,#0000ff 118.5px,#ff1a00 119.5px,#ff0000 125.5px,#ff0300 135.5px,#ff3600 141.5px,#ffa500 149.5px,#fff600 154.5px,#e7ff00 156.5px,#36ff00 168.5px,#04ff00 172.5px,#00ff86 186.5px,#00ffe2 200.5px,#00f9ff 207.5px,#00f0ff 209.5px)"></i>
<i style="top:718px;left:398px;width:210px;height:1px;background:linear-gradient(90deg,#00efff 0.5px,#00fff9 5.5px,#00ffa0 20.5px,#00ff30 33.5px,#00ff04 37.5px,#52ff00 44.5px,#feff00 56.5px,#ff7900 66.5px,#ff4400 72.5px,#ff3000 78.5px,#ff4000 86.5px,#ff7700 100.5px,#ff7700 109.5px,#ff3200 128.5px,#ff3600 134.5px,#ff5b00 140.5px,#ffb800 148.5px,#feff00 153.5px,#2bff00 168.5px,#00ff04 172.5px,#00ff79 184.5px,#00ffd9 198.5px,#00fcff 206.5px,#00efff 209.5px)"></i>
<i style="top:719px;left:398px;width:210px;height:1px;background:linear-gradient(90deg,#00eeff 0.5px,#00fffa 5.5px,#00ff9c 21.5px,#00ff2c 34.5px,#00ff02 38.5px,#93ff00 50.5px,#fffe00 58.5px,#ff9800 67.5px,#ff6c00 74.5px,#ff6600 81.5px,#ffa500 101.5px,#ff9f00 111.5px,#ff6500 129.5px,#ff6f00 136.5px,#ffa100 143.5px,#fffe00 151.5px,#15ff00 169.5px,#00ff02 171.5px,#00ff75 183.5px,#00ffd6 197.5px,#00fbff 206.5px,#00eeff 209.5px)"></i>
<i style="top:720px;left:398px;width:210px;height:1px;background:linear-gradient(90deg,#00ecff 0.5px,#00fffc 5.5px,#00ffa0 21.5px,#00ff33 34.5px,#00ff00 39.5px,#fcff00 60.5px,#ffaf00 69.5px,#ff9400 76.5px,#ff9b00 84.5px,#ffcc00 101.5px,#ffc700 111.5px,#ff9300 129.5px,#ff9b00 136.5px,#ffc600 143.5px,#fcff00 149.5px,#00ff00 170.5px,#00ff7a 183.5px,#00ffde 198.5px,#00feff 205.5px,#00ecff 209.5px)"></i>
<i style="top:721px;left:398px;width:210px;height:1px;background:linear-gradient(90deg,#00ebff 0.5px,#00fff9 6.5px,#00ff9c 22.5px,#00ff27 36.5px,#01ff00 40.5px,#f4ff00 62.5px,#fff800 64.5px,#ffc700 72.5px,#ffbd00 80.5px,#fff100 102.5px,#ffe700 113.5px,#ffbd00 130.5px,#ffcb00 138.5px,#feff00 146.5px,#65ff00 160.5px,#01ff00 169.5px,#00ff7f 183.5px,#00ffe0 198.5px,#00fcff 205.5px,#00ebff 209.5px)"></i>
<i style="top:722px;left:398px;width:210px;height:1px;background:linear-gradient(90deg,#00eaff 0.5px,#00fffb 6.5px,#00ffa0 22.5px,#00ff26 37.5px,#01ff00 41.5px,#d0ff00 61.5px,#fffc00 68.5px,#ffe300 76.5px,#fff100 87.5px,#f8ff00 95.5px,#edff00 107.5px,#fff900 119.5px,#ffe200 131.5px,#fff200 139.5px,#f6ff00 143.5px,#a0ff00 153.5px,#01ff00 168.5px,#00ff8b 184.5px,#00ffec 200.5px,#00faff 205.5px,#00eaff 209.5px)"></i>
<i style="top:723px;left:398px;width:210px;height:2px;background:linear-gradient(90deg,#00e7ff 0.5px,#00fff9 7.5px,#00ff98 24.5px,#00ff17 40.5px,#05ff00 43.5px,#aaff00 61.5px,#ddff00 70.5px,#e9ff00 79.5px,#c2ff00 104.5px,#d6ff00 119.5px,#eaff00 132.5px,#d5ff00 141.5px,#9bff00 150.5px,#00ff05 167.5px,#00ff8a 183.5px,#00ffef 200.5px,#00f8ff 205.5px,#00e7ff 209.5px)"></i>
<i style="top:725px;left:398px;width:210px;height:2px;background:linear-gradient(90deg,#00e4ff 0.5px,#00fff8 8.5px,#00ff94 26.5px,#00ff00 45.5px,#7eff00 61.5px,#a9ff00 71.5px,#adff00 82.5px,#91ff00 104.5px,#a8ff00 123.5px,#aeff00 135.5px,#94ff00 144.5px,#4cff00 155.5px,#00ff00 164.5px,#00ff94 183.5px,#00fff8 201.5px,#00e4ff 209.5px)"></i>
<i style="top:727px;left:398px;width:210px;height:2px;background:linear-gradient(90deg,#00e1ff 0.5px,#00fffd 8.5px,#00ff97 27.5px,#00ff00 48.5px,#5bff00 62.5px,#7bff00 72.5px,#7aff00 85.5px,#67ff00 106.5px,#7fff00 134.5px,#64ff00 145.5px,#16ff00 158.5px,#00ff00 161.5px,#00ffa4 184.5px,#00fffd 201.5px,#00e1ff 209.5px)"></i>
<i style="top:729px;left:398px;width:210px;height:2px;background:linear-gradient(90deg,#00deff 0.5px,#00fffd 9.5px,#00ff95 29.5px,#02ff00 52.5px,#42ff00 65.5px,#55ff00 77.5px,#44ff00 109.5px,#55ff00 134.5px,#3aff00 146.5px,#00ff05 158.5px,#00ffbe 187.5px,#00fdff 201.5px,#00deff 209.5px)"></i>
<i style="top:731px;left:398px;width:210px;height:2px;background:linear-gradient(90deg,#00dbff 0.5px,#00fff9 11.5px,#00ff89 33.5px,#00ff03 56.5px,#2cff00 71.5px,#2cff00 88.5px,#25ff00 112.5px,#2fff00 135.5px,#12ff00 148.5px,#00ff03 153.5px,#00ffdf 192.5px,#00fcff 200.5px,#00dbff 209.5px)"></i>
<i style="top:733px;left:398px;width:210px;height:2px;background:linear-gradient(90deg,#00d7ff 0.5px,#00fffb 12.5px,#00ff7f 37.5px,#00ff15 58.5px,#03ff00 66.5px,#11ff00 81.5px,#09ff00 113.5px,#0eff00 136.5px,#00ff04 146.5px,#00ff48 162.5px,#00ffea 193.5px,#00fbff 199.5px,#00d7ff 209.5px)"></i>
<i style="top:735px;left:398px;width:210px;height:2px;background:linear-gradient(90deg,#00d4ff 0.5px,#00fffc 13.5px,#00ff2e 58.5px,#00ff0e 73.5px,#00ff0e 120.5px,#00ff12 139.5px,#00ff39 154.5px,#00feff 197.5px,#00d4ff 209.5px)"></i>
<i style="top:737px;left:398px;width:210px;height:2px;background:linear-gradient(90deg,#00d0ff 0.5px,#00fffa 15.5px,#00ff48 57.5px,#00ff28 73.5px,#00ff2a 138.5px,#00ff4e 154.5px,#00fcff 196.5px,#00d0ff 209.5px)"></i>
<i style="top:739px;left:398px;width:210px;height:2px;background:linear-gradient(90deg,#00ccff 0.5px,#00fffc 16.5px,#00ff5f 56.5px,#00ff3f 73.5px,#00ff41 138.5px,#00ff65 155.5px,#00feff 194.5px,#00ccff 209.5px)"></i>
<i style="top:741px;left:398px;width:210px;height:2px;background:linear-gradient(90deg,#00c9ff 0.5px,#00fffb 18.5px,#00ff71 56.5px,#00ff53 74.5px,#00ff56 138.5px,#00ff7a 156.5px,#00fcff 193.5px,#00c9ff 209.5px)"></i>
<i style="top:743px;left:398px;width:210px;height:2px;background:linear-gradient(90deg,#00c5ff 0.5px,#00fffb 20.5px,#00ff82 56.5px,#00ff65 76.5px,#00ff69 138.5px,#00ff8d 157.5px,#00fcff 191.5px,#00c5ff 209.5px)"></i>
<i style="top:745px;left:398px;width:210px;height:2px;background:linear-gradient(90deg,#00c2ff 0.5px,#00fffb 22.5px,#00ff92 56.5px,#00ff77 77.5px,#00ff7a 137.5px,#00ff9e 158.5px,#00fcff 189.5px,#00c2ff 209.5px)"></i>
<i style="top:747px;left:398px;width:210px;height:2px;background:linear-gradient(90deg,#00beff 0.5px,#00fffc 24.5px,#00ff9f 57.5px,#00ff86 80.5px,#00ff8a 137.5px,#00ffae 159.5px,#00fcff 187.5px,#00beff 209.5px)"></i>
<i style="top:749px;left:398px;width:210px;height:2px;background:linear-gradient(90deg,#00bbff 0.5px,#00fffa 27.5px,#00ffaa 58.5px,#00ff94 83.5px,#00ff9a 138.5px,#00ffc0 161.5px,#00fbff 185.5px,#00bbff 209.5px)"></i>
<i style="top:751px;left:398px;width:210px;height:2px;background:linear-gradient(90deg,#00b7ff 0.5px,#00fffc 29.5px,#00ffb6 59.5px,#00ffa1 86.5px,#00ffa8 138.5px,#00ffd0 163.5px,#00faff 183.5px,#00b7ff 209.5px)"></i>
<i style="top:753px;left:398px;width:210px;height:2px;background:linear-gradient(90deg,#00b4ff 0.5px,#00fffc 32.5px,#00ffbe 62.5px,#00ffad 93.5px,#00ffb5 139.5px,#00ffde 165.5px,#00fbff 180.5px,#00b4ff 209.5px)"></i>
<i style="top:755px;left:398px;width:210px;height:2px;background:linear-gradient(90deg,#00b0ff 0.5px,#00fffa 36.5px,#00ffc6 65.5px,#00ffb8 102.5px,#00ffc4 142.5px,#00fff3 170.5px,#00f8ff 178.5px,#00b0ff 209.5px)"></i>
<i style="top:757px;left:398px;width:210px;height:2px;background:linear-gradient(90deg,#00adff 0.5px,#00fffb 39.5px,#00ffcf 68.5px,#00ffc4 112.5px,#00ffd5 147.5px,#00faff 174.5px,#00adff 209.5px)"></i>
<i style="top:759px;left:398px;width:210px;height:2px;background:linear-gradient(90deg,#00a9ff 0.5px,#00fffc 43.5px,#00ffd5 73.5px,#00ffd0 125.5px,#00ffeb 156.5px,#00f9ff 171.5px,#00a9ff 209.5px)"></i>
<i style="top:761px;left:398px;width:210px;height:2px;background:linear-gradient(90deg,#00a6ff 0.5px,#00fffb 48.5px,#00ffdc 80.5px,#00ffde 133.5px,#00faff 166.5px,#00a6ff 209.5px)"></i>
<i style="top:763px;left:398px;width:210px;height:2px;background:linear-gradient(90deg,#00a3ff 0.5px,#00fffe 52.5px,#00ffe4 86.5px,#00ffe9 136.5px,#00f9ff 162.5px,#00a3ff 209.5px)"></i>
<i style="top:765px;left:398px;width:210px;height:2px;background:linear-gradient(90deg,#00a0ff 0.5px,#00feff 57.5px,#00ffeb 97.5px,#00fff6 142.5px,#00f7ff 158.5px,#00a0ff 209.5px)"></i>
<i style="top:767px;left:398px;width:210px;height:2px;background:linear-gradient(90deg,#009dff 0.5px,#00f7ff 58.5px,#00fff6 83.5px,#00fffa 134.5px,#00f3ff 155.5px,#009dff 209.5px)"></i>
<i style="top:769px;left:398px;width:210px;height:2px;background:linear-gradient(90deg,#0099ff 0.5px,#00f1ff 59.5px,#00fffc 92.5px,#00f9ff 140.5px,#00c8ff 180.5px,#0099ff 209.5px)"></i>
<i style="top:771px;left:398px;width:210px;height:2px;background:linear-gradient(90deg,#0096ff 0.5px,#00eaff 60.5px,#00fbff 104.5px,#00ebff 148.5px,#00a1ff 202.5px,#0096ff 209.5px)"></i>
<i style="top:773px;left:398px;width:210px;height:2px;background:linear-gradient(90deg,#0094ff 0.5px,#00e3ff 60.5px,#00f4ff 105.5px,#00e2ff 150.5px,#0094ff 209.5px)"></i>
<i style="top:775px;left:398px;width:210px;height:2px;background:linear-gradient(90deg,#0091ff 0.5px,#00ddff 61.5px,#00ecff 108.5px,#00d9ff 153.5px,#0091ff 209.5px)"></i>
<i style="top:777px;left:398px;width:210px;height:2px;background:linear-gradient(90deg,#008eff 0.5px,#00d8ff 62.5px,#00e5ff 111.5px,#00d0ff 156.5px,#008eff 209.5px)"></i>
<i style="top:779px;left:398px;width:210px;height:2px;background:linear-gradient(90deg,#008bff 0.5px,#00d2ff 63.5px,#00dfff 113.5px,#00c7ff 159.5px,#008bff 209.5px)"></i>
<i style="top:781px;left:398px;width:210px;height:2px;background:linear-gradient(90deg,#0088ff 0.5px,#00cdff 64.5px,#00d8ff 115.5px,#00bfff 162.5px,#0088ff 209.5px)"></i>
<i style="top:783px;left:398px;width:210px;height:2px;background:linear-gradient(90deg,#0086ff 0.5px,#00c8ff 65.5px,#00d2ff 117.5px,#00b7ff 165.5px,#0086ff 209.5px)"></i>
<i style="top:785px;left:398px;width:210px;height:2px;background:linear-gradient(90deg,#0083ff 0.5px,#00c3ff 66.5px,#00ccff 119.5px,#00b0ff 168.5px,#0083ff 209.5px)"></i>
<i style="top:787px;left:398px;width:210px;height:2px;background:linear-gradient(90deg,#0081ff 0.5px,#00beff 67.5px,#00c6ff 121.5px,#00a7ff 172.5px,#0081ff 209.5px)"></i>
<i style="top:789px;left:398px;width:210px;height:2px;background:linear-gradient(90deg,#007eff 0.5px,#00b9ff 68.5px,#00c0ff 123.5px,#00a0ff 176.5px,#007eff 209.5px)"></i>
<i style="top:791px;left:398px;width:210px;height:2px;background:linear-gradient(90deg,#007cff 0.5px,#00b5ff 69.5px,#00baff 125.5px,#0098ff 180.5px,#007cff 209.5px)"></i>
<i style="top:793px;left:398px;width:210px;height:2px;background:linear-gradient(90deg,#0079ff 0.5px,#00b1ff 70.5px,#00b5ff 127.5px,#0091ff 184.5px,#0079ff 209.5px)"></i>
<i style="top:795px;left:398px;width:210px;height:2px;background:linear-gradient(90deg,#0077ff 0.5px,#00adff 71.5px,#00b0ff 129.5px,#0088ff 190.5px,#0077ff 209.5px)"></i>
<i style="top:797px;left:398px;width:210px;height:2px;background:linear-gradient(90deg,#0075ff 0.5px,#00a9ff 72.5px,#00abff 131.5px,#0080ff 196.5px,#0075ff 209.5px)"></i>
<i style="top:799px;left:398px;width:210px;height:2px;background:linear-gradient(90deg,#0073ff 0.5px,#00a5ff 73.5px,#00a6ff 133.5px,#0078ff 202.5px,#0073ff 209.5px)"></i>
<i style="top:801px;left:398px;width:210px;height:2px;background:linear-gradient(90deg,#0070ff 0.5px,#00a1ff 74.5px,#00a1ff 135.5px,#0070ff 209.5px)"></i>
<i style="top:803px;left:398px;width:210px;height:2px;background:linear-gradient(90deg,#006eff 0.5px,#009eff 76.5px,#009cff 138.5px,#006eff 209.5px)"></i>
<i style="top:805px;left:398px;width:210px;height:2px;background:linear-gradient(90deg,#006cff 0.5px,#009aff 77.5px,#0097ff 140.5px,#006cff 209.5px)"></i>
<i style="top:593px;left:641px;width:18px;height:214px;background:linear-gradient(180deg,#ff0000 0.40px,#ffff00 53.56px,#00ff00 106.72px,#00ffff 159.89px,#0000ff 213.05px)"></i>
</div>
<canvas id="c" width="685" height="836"></canvas>
<svg id="s" width="685" height="836" viewBox="0 0 685 836">
<rect x="33.40" y="15.50" width="209.10" height="206.40" fill="none" stroke="#000" stroke-width="1.1"/>
<line x1="46.47" y1="221.90" x2="46.47" y2="219.70" stroke="#000" stroke-width="1.0"/>
<line x1="46.47" y1="15.50" x2="46.47" y2="17.70" stroke="#000" stroke-width="1.0"/>
<line x1="33.40" y1="28.40" x2="35.60" y2="28.40" stroke="#000" stroke-width="1.0"/>
<line x1="242.50" y1="28.40" x2="240.30" y2="28.40" stroke="#000" stroke-width="1.0"/>
<line x1="59.54" y1="221.90" x2="59.54" y2="217.90" stroke="#000" stroke-width="1.0"/>
<line x1="59.54" y1="15.50" x2="59.54" y2="19.50" stroke="#000" stroke-width="1.0"/>
<line x1="33.40" y1="41.30" x2="37.40" y2="41.30" stroke="#000" stroke-width="1.0"/>
<line x1="242.50" y1="41.30" x2="238.50" y2="41.30" stroke="#000" stroke-width="1.0"/>
<line x1="72.61" y1="221.90" x2="72.61" y2="219.70" stroke="#000" stroke-width="1.0"/>
<line x1="72.61" y1="15.50" x2="72.61" y2="17.70" stroke="#000" stroke-width="1.0"/>
<line x1="33.40" y1="54.20" x2="35.60" y2="54.20" stroke="#000" stroke-width="1.0"/>
<line x1="242.50" y1="54.20" x2="240.30" y2="54.20" stroke="#000" stroke-width="1.0"/>
<line x1="85.67" y1="221.90" x2="85.67" y2="217.90" stroke="#000" stroke-width="1.0"/>
<line x1="85.67" y1="15.50" x2="85.67" y2="19.50" stroke="#000" stroke-width="1.0"/>
<line x1="33.40" y1="67.10" x2="37.40" y2="67.10" stroke="#000" stroke-width="1.0"/>
<line x1="242.50" y1="67.10" x2="238.50" y2="67.10" stroke="#000" stroke-width="1.0"/>
<line x1="98.74" y1="221.90" x2="98.74" y2="219.70" stroke="#000" stroke-width="1.0"/>
<line x1="98.74" y1="15.50" x2="98.74" y2="17.70" stroke="#000" stroke-width="1.0"/>
<line x1="33.40" y1="80.00" x2="35.60" y2="80.00" stroke="#000" stroke-width="1.0"/>
<line x1="242.50" y1="80.00" x2="240.30" y2="80.00" stroke="#000" stroke-width="1.0"/>
<line x1="111.81" y1="221.90" x2="111.81" y2="217.90" stroke="#000" stroke-width="1.0"/>
<line x1="111.81" y1="15.50" x2="111.81" y2="19.50" stroke="#000" stroke-width="1.0"/>
<line x1="33.40" y1="92.90" x2="37.40" y2="92.90" stroke="#000" stroke-width="1.0"/>
<line x1="242.50" y1="92.90" x2="238.50" y2="92.90" stroke="#000" stroke-width="1.0"/>
<line x1="124.88" y1="221.90" x2="124.88" y2="219.70" stroke="#000" stroke-width="1.0"/>
<line x1="124.88" y1="15.50" x2="124.88" y2="17.70" stroke="#000" stroke-width="1.0"/>
<line x1="33.40" y1="105.80" x2="35.60" y2="105.80" stroke="#000" stroke-width="1.0"/>
<line x1="242.50" y1="105.80" x2="240.30" y2="105.80" stroke="#000" stroke-width="1.0"/>
<line x1="137.95" y1="221.90" x2="137.95" y2="217.90" stroke="#000" stroke-width="1.0"/>
<line x1="137.95" y1="15.50" x2="137.95" y2="19.50" stroke="#000" stroke-width="1.0"/>
<line x1="33.40" y1="118.70" x2="37.40" y2="118.70" stroke="#000" stroke-width="1.0"/>
<line x1="242.50" y1="118.70" x2="238.50" y2="118.70" stroke="#000" stroke-width="1.0"/>
<line x1="151.02" y1="221.90" x2="151.02" y2="219.70" stroke="#000" stroke-width="1.0"/>
<line x1="151.02" y1="15.50" x2="151.02" y2="17.70" stroke="#000" stroke-width="1.0"/>
<line x1="33.40" y1="131.60" x2="35.60" y2="131.60" stroke="#000" stroke-width="1.0"/>
<line x1="242.50" y1="131.60" x2="240.30" y2="131.60" stroke="#000" stroke-width="1.0"/>
<line x1="164.09" y1="221.90" x2="164.09" y2="217.90" stroke="#000" stroke-width="1.0"/>
<line x1="164.09" y1="15.50" x2="164.09" y2="19.50" stroke="#000" stroke-width="1.0"/>
<line x1="33.40" y1="144.50" x2="37.40" y2="144.50" stroke="#000" stroke-width="1.0"/>
<line x1="242.50" y1="144.50" x2="238.50" y2="144.50" stroke="#000" stroke-width="1.0"/>
<line x1="177.16" y1="221.90" x2="177.16" y2="219.70" stroke="#000" stroke-width="1.0"/>
<line x1="177.16" y1="15.50" x2="177.16" y2="17.70" stroke="#000" stroke-width="1.0"/>
<line x1="33.40" y1="157.40" x2="35.60" y2="157.40" stroke="#000" stroke-width="1.0"/>
<line x1="242.50" y1="157.40" x2="240.30" y2="157.40" stroke="#000" stroke-width="1.0"/>
<line x1="190.22" y1="221.90" x2="190.22" y2="217.90" stroke="#000" stroke-width="1.0"/>
<line x1="190.22" y1="15.50" x2="190.22" y2="19.50" stroke="#000" stroke-width="1.0"/>
<line x1="33.40" y1="170.30" x2="37.40" y2="170.30" stroke="#000" stroke-width="1.0"/>
<line x1="242.50" y1="170.30" x2="238.50" y2="170.30" stroke="#000" stroke-width="1.0"/>
<line x1="203.29" y1="221.90" x2="203.29" y2="219.70" stroke="#000" stroke-width="1.0"/>
<line x1="203.29" y1="15.50" x2="203.29" y2="17.70" stroke="#000" stroke-width="1.0"/>
<line x1="33.40" y1="183.20" x2="35.60" y2="183.20" stroke="#000" stroke-width="1.0"/>
<line x1="242.50" y1="183.20" x2="240.30" y2="183.20" stroke="#000" stroke-width="1.0"/>
<line x1="216.36" y1="221.90" x2="216.36" y2="217.90" stroke="#000" stroke-width="1.0"/>
<line x1="216.36" y1="15.50" x2="216.36" y2="19.50" stroke="#000" stroke-width="1.0"/>
<line x1="33.40" y1="196.10" x2="37.40" y2="196.10" stroke="#000" stroke-width="1.0"/>
<line x1="242.50" y1="196.10" x2="238.50" y2="196.10" stroke="#000" stroke-width="1.0"/>
<line x1="229.43" y1="221.90" x2="229.43" y2="219.70" stroke="#000" stroke-width="1.0"/>
<line x1="229.43" y1="15.50" x2="229.43" y2="17.70" stroke="#000" stroke-width="1.0"/>
<line x1="33.40" y1="209.00" x2="35.60" y2="209.00" stroke="#000" stroke-width="1.0"/>
<line x1="242.50" y1="209.00" x2="240.30" y2="209.00" stroke="#000" stroke-width="1.0"/>
<text transform="matrix(0.93,0.001,0,1.0,29.50,17.80)" font-size="9.1" text-anchor="end" >2.0</text>
<text transform="matrix(0.93,0.001,0,1.0,33.40,233.30)" font-size="9.1" text-anchor="middle" >−2.0</text>
<text transform="matrix(0.93,0.001,0,1.0,29.50,43.60)" font-size="9.1" text-anchor="end" >1.5</text>
<text transform="matrix(0.93,0.001,0,1.0,59.54,233.30)" font-size="9.1" text-anchor="middle" >−1.5</text>
<text transform="matrix(0.93,0.001,0,1.0,29.50,69.40)" font-size="9.1" text-anchor="end" >1.0</text>
<text transform="matrix(0.93,0.001,0,1.0,85.67,233.30)" font-size="9.1" text-anchor="middle" >−1.0</text>
<text transform="matrix(0.93,0.001,0,1.0,29.50,95.20)" font-size="9.1" text-anchor="end" >0.5</text>
<text transform="matrix(0.93,0.001,0,1.0,111.81,233.30)" font-size="9.1" text-anchor="middle" >−0.5</text>
<text transform="matrix(0.93,0.001,0,1.0,29.50,121.00)" font-size="9.1" text-anchor="end" >0.0</text>
<text transform="matrix(0.93,0.001,0,1.0,137.95,233.30)" font-size="9.1" text-anchor="middle" >0.0</text>
<text transform="matrix(0.93,0.001,0,1.0,29.50,146.80)" font-size="9.1" text-anchor="end" >−0.5</text>
<text transform="matrix(0.93,0.001,0,1.0,164.09,233.30)" font-size="9.1" text-anchor="middle" >0.5</text>
<text transform="matrix(0.93,0.001,0,1.0,29.50,172.60)" font-size="9.1" text-anchor="end" >−1.0</text>
<text transform="matrix(0.93,0.001,0,1.0,190.22,233.30)" font-size="9.1" text-anchor="middle" >1.0</text>
<text transform="matrix(0.93,0.001,0,1.0,29.50,198.40)" font-size="9.1" text-anchor="end" >−1.5</text>
<text transform="matrix(0.93,0.001,0,1.0,216.36,233.30)" font-size="9.1" text-anchor="middle" >1.5</text>
<text transform="matrix(0.93,0.001,0,1.0,29.50,224.20)" font-size="9.1" text-anchor="end" >−2.0</text>
<text transform="matrix(0.93,0.001,0,1.0,242.50,233.30)" font-size="9.1" text-anchor="middle" >2.0</text>
<text transform="matrix(1.0,0.001,0,1.0,137.95,250.80)" font-size="11.2" text-anchor="middle" >X</text>
<text x="0" y="0" font-size="11.2" text-anchor="middle" transform="translate(7.60,118.70) rotate(-90)">Y</text>
<text transform="matrix(1.0,0.001,0,1.01,42.20,39.40)" font-size="17.2" text-anchor="start" >(a)</text>
<rect x="276.30" y="15.50" width="17.20" height="206.40" fill="none" stroke="#333" stroke-width="0.8"/>
<line x1="293.50" y1="15.50" x2="297.00" y2="15.50" stroke="#222" stroke-width="0.9"/>
<text transform="matrix(0.91,0.001,0,1.0,299.60,17.75)" font-size="7.3" text-anchor="start" >0.9720</text>
<line x1="293.50" y1="41.30" x2="297.00" y2="41.30" stroke="#222" stroke-width="0.9"/>
<text transform="matrix(0.91,0.001,0,1.0,299.60,43.55)" font-size="7.3" text-anchor="start" >0.8965</text>
<line x1="293.50" y1="67.10" x2="297.00" y2="67.10" stroke="#222" stroke-width="0.9"/>
<text transform="matrix(0.91,0.001,0,1.0,299.60,69.35)" font-size="7.3" text-anchor="start" >0.8210</text>
<line x1="293.50" y1="92.90" x2="297.00" y2="92.90" stroke="#222" stroke-width="0.9"/>
<text transform="matrix(0.91,0.001,0,1.0,299.60,95.15)" font-size="7.3" text-anchor="start" >0.7455</text>
<line x1="293.50" y1="118.70" x2="297.00" y2="118.70" stroke="#222" stroke-width="0.9"/>
<text transform="matrix(0.91,0.001,0,1.0,299.60,120.95)" font-size="7.3" text-anchor="start" >0.6700</text>
<line x1="293.50" y1="144.50" x2="297.00" y2="144.50" stroke="#222" stroke-width="0.9"/>
<text transform="matrix(0.91,0.001,0,1.0,299.60,146.75)" font-size="7.3" text-anchor="start" >0.5945</text>
<line x1="293.50" y1="170.30" x2="297.00" y2="170.30" stroke="#222" stroke-width="0.9"/>
<text transform="matrix(0.91,0.001,0,1.0,299.60,172.55)" font-size="7.3" text-anchor="start" >0.5190</text>
<line x1="293.50" y1="196.10" x2="297.00" y2="196.10" stroke="#222" stroke-width="0.9"/>
<text transform="matrix(0.91,0.001,0,1.0,299.60,198.35)" font-size="7.3" text-anchor="start" >0.4435</text>
<line x1="293.50" y1="221.90" x2="297.00" y2="221.90" stroke="#222" stroke-width="0.9"/>
<text transform="matrix(0.91,0.001,0,1.0,299.60,224.15)" font-size="7.3" text-anchor="start" >0.3680</text>
<text transform="matrix(1.0,0.001,0,1.0,284.90,8.20)" font-size="10.3" text-anchor="middle" >Potential</text>
<rect x="398.80" y="15.50" width="208.70" height="206.40" fill="none" stroke="#000" stroke-width="1.1"/>
<line x1="411.84" y1="221.90" x2="411.84" y2="219.70" stroke="#000" stroke-width="1.0"/>
<line x1="411.84" y1="15.50" x2="411.84" y2="17.70" stroke="#000" stroke-width="1.0"/>
<line x1="398.80" y1="28.40" x2="401.00" y2="28.40" stroke="#000" stroke-width="1.0"/>
<line x1="607.50" y1="28.40" x2="605.30" y2="28.40" stroke="#000" stroke-width="1.0"/>
<line x1="424.89" y1="221.90" x2="424.89" y2="217.90" stroke="#000" stroke-width="1.0"/>
<line x1="424.89" y1="15.50" x2="424.89" y2="19.50" stroke="#000" stroke-width="1.0"/>
<line x1="398.80" y1="41.30" x2="402.80" y2="41.30" stroke="#000" stroke-width="1.0"/>
<line x1="607.50" y1="41.30" x2="603.50" y2="41.30" stroke="#000" stroke-width="1.0"/>
<line x1="437.93" y1="221.90" x2="437.93" y2="219.70" stroke="#000" stroke-width="1.0"/>
<line x1="437.93" y1="15.50" x2="437.93" y2="17.70" stroke="#000" stroke-width="1.0"/>
<line x1="398.80" y1="54.20" x2="401.00" y2="54.20" stroke="#000" stroke-width="1.0"/>
<line x1="607.50" y1="54.20" x2="605.30" y2="54.20" stroke="#000" stroke-width="1.0"/>
<line x1="450.98" y1="221.90" x2="450.98" y2="217.90" stroke="#000" stroke-width="1.0"/>
<line x1="450.98" y1="15.50" x2="450.98" y2="19.50" stroke="#000" stroke-width="1.0"/>
<line x1="398.80" y1="67.10" x2="402.80" y2="67.10" stroke="#000" stroke-width="1.0"/>
<line x1="607.50" y1="67.10" x2="603.50" y2="67.10" stroke="#000" stroke-width="1.0"/>
<line x1="464.02" y1="221.90" x2="464.02" y2="219.70" stroke="#000" stroke-width="1.0"/>
<line x1="464.02" y1="15.50" x2="464.02" y2="17.70" stroke="#000" stroke-width="1.0"/>
<line x1="398.80" y1="80.00" x2="401.00" y2="80.00" stroke="#000" stroke-width="1.0"/>
<line x1="607.50" y1="80.00" x2="605.30" y2="80.00" stroke="#000" stroke-width="1.0"/>
<line x1="477.06" y1="221.90" x2="477.06" y2="217.90" stroke="#000" stroke-width="1.0"/>
<line x1="477.06" y1="15.50" x2="477.06" y2="19.50" stroke="#000" stroke-width="1.0"/>
<line x1="398.80" y1="92.90" x2="402.80" y2="92.90" stroke="#000" stroke-width="1.0"/>
<line x1="607.50" y1="92.90" x2="603.50" y2="92.90" stroke="#000" stroke-width="1.0"/>
<line x1="490.11" y1="221.90" x2="490.11" y2="219.70" stroke="#000" stroke-width="1.0"/>
<line x1="490.11" y1="15.50" x2="490.11" y2="17.70" stroke="#000" stroke-width="1.0"/>
<line x1="398.80" y1="105.80" x2="401.00" y2="105.80" stroke="#000" stroke-width="1.0"/>
<line x1="607.50" y1="105.80" x2="605.30" y2="105.80" stroke="#000" stroke-width="1.0"/>
<line x1="503.15" y1="221.90" x2="503.15" y2="217.90" stroke="#000" stroke-width="1.0"/>
<line x1="503.15" y1="15.50" x2="503.15" y2="19.50" stroke="#000" stroke-width="1.0"/>
<line x1="398.80" y1="118.70" x2="402.80" y2="118.70" stroke="#000" stroke-width="1.0"/>
<line x1="607.50" y1="118.70" x2="603.50" y2="118.70" stroke="#000" stroke-width="1.0"/>
<line x1="516.19" y1="221.90" x2="516.19" y2="219.70" stroke="#000" stroke-width="1.0"/>
<line x1="516.19" y1="15.50" x2="516.19" y2="17.70" stroke="#000" stroke-width="1.0"/>
<line x1="398.80" y1="131.60" x2="401.00" y2="131.60" stroke="#000" stroke-width="1.0"/>
<line x1="607.50" y1="131.60" x2="605.30" y2="131.60" stroke="#000" stroke-width="1.0"/>
<line x1="529.24" y1="221.90" x2="529.24" y2="217.90" stroke="#000" stroke-width="1.0"/>
<line x1="529.24" y1="15.50" x2="529.24" y2="19.50" stroke="#000" stroke-width="1.0"/>
<line x1="398.80" y1="144.50" x2="402.80" y2="144.50" stroke="#000" stroke-width="1.0"/>
<line x1="607.50" y1="144.50" x2="603.50" y2="144.50" stroke="#000" stroke-width="1.0"/>
<line x1="542.28" y1="221.90" x2="542.28" y2="219.70" stroke="#000" stroke-width="1.0"/>
<line x1="542.28" y1="15.50" x2="542.28" y2="17.70" stroke="#000" stroke-width="1.0"/>
<line x1="398.80" y1="157.40" x2="401.00" y2="157.40" stroke="#000" stroke-width="1.0"/>
<line x1="607.50" y1="157.40" x2="605.30" y2="157.40" stroke="#000" stroke-width="1.0"/>
<line x1="555.33" y1="221.90" x2="555.33" y2="217.90" stroke="#000" stroke-width="1.0"/>
<line x1="555.33" y1="15.50" x2="555.33" y2="19.50" stroke="#000" stroke-width="1.0"/>
<line x1="398.80" y1="170.30" x2="402.80" y2="170.30" stroke="#000" stroke-width="1.0"/>
<line x1="607.50" y1="170.30" x2="603.50" y2="170.30" stroke="#000" stroke-width="1.0"/>
<line x1="568.37" y1="221.90" x2="568.37" y2="219.70" stroke="#000" stroke-width="1.0"/>
<line x1="568.37" y1="15.50" x2="568.37" y2="17.70" stroke="#000" stroke-width="1.0"/>
<line x1="398.80" y1="183.20" x2="401.00" y2="183.20" stroke="#000" stroke-width="1.0"/>
<line x1="607.50" y1="183.20" x2="605.30" y2="183.20" stroke="#000" stroke-width="1.0"/>
<line x1="581.41" y1="221.90" x2="581.41" y2="217.90" stroke="#000" stroke-width="1.0"/>
<line x1="581.41" y1="15.50" x2="581.41" y2="19.50" stroke="#000" stroke-width="1.0"/>
<line x1="398.80" y1="196.10" x2="402.80" y2="196.10" stroke="#000" stroke-width="1.0"/>
<line x1="607.50" y1="196.10" x2="603.50" y2="196.10" stroke="#000" stroke-width="1.0"/>
<line x1="594.46" y1="221.90" x2="594.46" y2="219.70" stroke="#000" stroke-width="1.0"/>
<line x1="594.46" y1="15.50" x2="594.46" y2="17.70" stroke="#000" stroke-width="1.0"/>
<line x1="398.80" y1="209.00" x2="401.00" y2="209.00" stroke="#000" stroke-width="1.0"/>
<line x1="607.50" y1="209.00" x2="605.30" y2="209.00" stroke="#000" stroke-width="1.0"/>
<text transform="matrix(0.93,0.001,0,1.0,394.90,17.80)" font-size="9.1" text-anchor="end" >2.0</text>
<text transform="matrix(0.93,0.001,0,1.0,398.80,233.30)" font-size="9.1" text-anchor="middle" >−2.0</text>
<text transform="matrix(0.93,0.001,0,1.0,394.90,43.60)" font-size="9.1" text-anchor="end" >1.5</text>
<text transform="matrix(0.93,0.001,0,1.0,424.89,233.30)" font-size="9.1" text-anchor="middle" >−1.5</text>
<text transform="matrix(0.93,0.001,0,1.0,394.90,69.40)" font-size="9.1" text-anchor="end" >1.0</text>
<text transform="matrix(0.93,0.001,0,1.0,450.98,233.30)" font-size="9.1" text-anchor="middle" >−1.0</text>
<text transform="matrix(0.93,0.001,0,1.0,394.90,95.20)" font-size="9.1" text-anchor="end" >0.5</text>
<text transform="matrix(0.93,0.001,0,1.0,477.06,233.30)" font-size="9.1" text-anchor="middle" >−0.5</text>
<text transform="matrix(0.93,0.001,0,1.0,394.90,121.00)" font-size="9.1" text-anchor="end" >0.0</text>
<text transform="matrix(0.93,0.001,0,1.0,503.15,233.30)" font-size="9.1" text-anchor="middle" >0.0</text>
<text transform="matrix(0.93,0.001,0,1.0,394.90,146.80)" font-size="9.1" text-anchor="end" >−0.5</text>
<text transform="matrix(0.93,0.001,0,1.0,529.24,233.30)" font-size="9.1" text-anchor="middle" >0.5</text>
<text transform="matrix(0.93,0.001,0,1.0,394.90,172.60)" font-size="9.1" text-anchor="end" >−1.0</text>
<text transform="matrix(0.93,0.001,0,1.0,555.33,233.30)" font-size="9.1" text-anchor="middle" >1.0</text>
<text transform="matrix(0.93,0.001,0,1.0,394.90,198.40)" font-size="9.1" text-anchor="end" >−1.5</text>
<text transform="matrix(0.93,0.001,0,1.0,581.41,233.30)" font-size="9.1" text-anchor="middle" >1.5</text>
<text transform="matrix(0.93,0.001,0,1.0,394.90,224.20)" font-size="9.1" text-anchor="end" >−2.0</text>
<text transform="matrix(0.93,0.001,0,1.0,607.50,233.30)" font-size="9.1" text-anchor="middle" >2.0</text>
<text transform="matrix(1.0,0.001,0,1.0,503.15,250.80)" font-size="11.2" text-anchor="middle" >X</text>
<text x="0" y="0" font-size="11.2" text-anchor="middle" transform="translate(373.00,118.70) rotate(-90)">Y</text>
<text transform="matrix(1.0,0.001,0,1.03,407.60,39.40)" font-size="17.2" text-anchor="start" >(b)</text>
<rect x="641.70" y="15.50" width="17.20" height="206.40" fill="none" stroke="#333" stroke-width="0.8"/>
<line x1="658.90" y1="15.50" x2="662.40" y2="15.50" stroke="#222" stroke-width="0.9"/>
<text transform="matrix(0.91,0.001,0,1.0,665.00,17.75)" font-size="7.3" text-anchor="start" >1.000</text>
<line x1="658.90" y1="41.30" x2="662.40" y2="41.30" stroke="#222" stroke-width="0.9"/>
<text transform="matrix(0.91,0.001,0,1.0,665.00,43.55)" font-size="7.3" text-anchor="start" >0.8750</text>
<line x1="658.90" y1="67.10" x2="662.40" y2="67.10" stroke="#222" stroke-width="0.9"/>
<text transform="matrix(0.91,0.001,0,1.0,665.00,69.35)" font-size="7.3" text-anchor="start" >0.7500</text>
<line x1="658.90" y1="92.90" x2="662.40" y2="92.90" stroke="#222" stroke-width="0.9"/>
<text transform="matrix(0.91,0.001,0,1.0,665.00,95.15)" font-size="7.3" text-anchor="start" >0.6250</text>
<line x1="658.90" y1="118.70" x2="662.40" y2="118.70" stroke="#222" stroke-width="0.9"/>
<text transform="matrix(0.91,0.001,0,1.0,665.00,120.95)" font-size="7.3" text-anchor="start" >0.5000</text>
<line x1="658.90" y1="144.50" x2="662.40" y2="144.50" stroke="#222" stroke-width="0.9"/>
<text transform="matrix(0.91,0.001,0,1.0,665.00,146.75)" font-size="7.3" text-anchor="start" >0.3750</text>
<line x1="658.90" y1="170.30" x2="662.40" y2="170.30" stroke="#222" stroke-width="0.9"/>
<text transform="matrix(0.91,0.001,0,1.0,665.00,172.55)" font-size="7.3" text-anchor="start" >0.2500</text>
<line x1="658.90" y1="196.10" x2="662.40" y2="196.10" stroke="#222" stroke-width="0.9"/>
<text transform="matrix(0.91,0.001,0,1.0,665.00,198.35)" font-size="7.3" text-anchor="start" >0.1250</text>
<line x1="658.90" y1="221.90" x2="662.40" y2="221.90" stroke="#222" stroke-width="0.9"/>
<text transform="matrix(0.91,0.001,0,1.0,665.00,224.15)" font-size="7.3" text-anchor="start" >0.000</text>
<text transform="matrix(1.0,0.001,0,1.0,650.30,8.20)" font-size="10.3" text-anchor="middle" >Electric Field</text>
<rect x="33.40" y="303.90" width="209.10" height="206.50" fill="none" stroke="#000" stroke-width="1.1"/>
<line x1="46.47" y1="510.40" x2="46.47" y2="508.20" stroke="#000" stroke-width="1.0"/>
<line x1="46.47" y1="303.90" x2="46.47" y2="306.10" stroke="#000" stroke-width="1.0"/>
<line x1="33.40" y1="316.81" x2="35.60" y2="316.81" stroke="#000" stroke-width="1.0"/>
<line x1="242.50" y1="316.81" x2="240.30" y2="316.81" stroke="#000" stroke-width="1.0"/>
<line x1="59.54" y1="510.40" x2="59.54" y2="506.40" stroke="#000" stroke-width="1.0"/>
<line x1="59.54" y1="303.90" x2="59.54" y2="307.90" stroke="#000" stroke-width="1.0"/>
<line x1="33.40" y1="329.71" x2="37.40" y2="329.71" stroke="#000" stroke-width="1.0"/>
<line x1="242.50" y1="329.71" x2="238.50" y2="329.71" stroke="#000" stroke-width="1.0"/>
<line x1="72.61" y1="510.40" x2="72.61" y2="508.20" stroke="#000" stroke-width="1.0"/>
<line x1="72.61" y1="303.90" x2="72.61" y2="306.10" stroke="#000" stroke-width="1.0"/>
<line x1="33.40" y1="342.62" x2="35.60" y2="342.62" stroke="#000" stroke-width="1.0"/>
<line x1="242.50" y1="342.62" x2="240.30" y2="342.62" stroke="#000" stroke-width="1.0"/>
<line x1="85.67" y1="510.40" x2="85.67" y2="506.40" stroke="#000" stroke-width="1.0"/>
<line x1="85.67" y1="303.90" x2="85.67" y2="307.90" stroke="#000" stroke-width="1.0"/>
<line x1="33.40" y1="355.52" x2="37.40" y2="355.52" stroke="#000" stroke-width="1.0"/>
<line x1="242.50" y1="355.52" x2="238.50" y2="355.52" stroke="#000" stroke-width="1.0"/>
<line x1="98.74" y1="510.40" x2="98.74" y2="508.20" stroke="#000" stroke-width="1.0"/>
<line x1="98.74" y1="303.90" x2="98.74" y2="306.10" stroke="#000" stroke-width="1.0"/>
<line x1="33.40" y1="368.43" x2="35.60" y2="368.43" stroke="#000" stroke-width="1.0"/>
<line x1="242.50" y1="368.43" x2="240.30" y2="368.43" stroke="#000" stroke-width="1.0"/>
<line x1="111.81" y1="510.40" x2="111.81" y2="506.40" stroke="#000" stroke-width="1.0"/>
<line x1="111.81" y1="303.90" x2="111.81" y2="307.90" stroke="#000" stroke-width="1.0"/>
<line x1="33.40" y1="381.34" x2="37.40" y2="381.34" stroke="#000" stroke-width="1.0"/>
<line x1="242.50" y1="381.34" x2="238.50" y2="381.34" stroke="#000" stroke-width="1.0"/>
<line x1="124.88" y1="510.40" x2="124.88" y2="508.20" stroke="#000" stroke-width="1.0"/>
<line x1="124.88" y1="303.90" x2="124.88" y2="306.10" stroke="#000" stroke-width="1.0"/>
<line x1="33.40" y1="394.24" x2="35.60" y2="394.24" stroke="#000" stroke-width="1.0"/>
<line x1="242.50" y1="394.24" x2="240.30" y2="394.24" stroke="#000" stroke-width="1.0"/>
<line x1="137.95" y1="510.40" x2="137.95" y2="506.40" stroke="#000" stroke-width="1.0"/>
<line x1="137.95" y1="303.90" x2="137.95" y2="307.90" stroke="#000" stroke-width="1.0"/>
<line x1="33.40" y1="407.15" x2="37.40" y2="407.15" stroke="#000" stroke-width="1.0"/>
<line x1="242.50" y1="407.15" x2="238.50" y2="407.15" stroke="#000" stroke-width="1.0"/>
<line x1="151.02" y1="510.40" x2="151.02" y2="508.20" stroke="#000" stroke-width="1.0"/>
<line x1="151.02" y1="303.90" x2="151.02" y2="306.10" stroke="#000" stroke-width="1.0"/>
<line x1="33.40" y1="420.06" x2="35.60" y2="420.06" stroke="#000" stroke-width="1.0"/>
<line x1="242.50" y1="420.06" x2="240.30" y2="420.06" stroke="#000" stroke-width="1.0"/>
<line x1="164.09" y1="510.40" x2="164.09" y2="506.40" stroke="#000" stroke-width="1.0"/>
<line x1="164.09" y1="303.90" x2="164.09" y2="307.90" stroke="#000" stroke-width="1.0"/>
<line x1="33.40" y1="432.96" x2="37.40" y2="432.96" stroke="#000" stroke-width="1.0"/>
<line x1="242.50" y1="432.96" x2="238.50" y2="432.96" stroke="#000" stroke-width="1.0"/>
<line x1="177.16" y1="510.40" x2="177.16" y2="508.20" stroke="#000" stroke-width="1.0"/>
<line x1="177.16" y1="303.90" x2="177.16" y2="306.10" stroke="#000" stroke-width="1.0"/>
<line x1="33.40" y1="445.87" x2="35.60" y2="445.87" stroke="#000" stroke-width="1.0"/>
<line x1="242.50" y1="445.87" x2="240.30" y2="445.87" stroke="#000" stroke-width="1.0"/>
<line x1="190.22" y1="510.40" x2="190.22" y2="506.40" stroke="#000" stroke-width="1.0"/>
<line x1="190.22" y1="303.90" x2="190.22" y2="307.90" stroke="#000" stroke-width="1.0"/>
<line x1="33.40" y1="458.77" x2="37.40" y2="458.77" stroke="#000" stroke-width="1.0"/>
<line x1="242.50" y1="458.77" x2="238.50" y2="458.77" stroke="#000" stroke-width="1.0"/>
<line x1="203.29" y1="510.40" x2="203.29" y2="508.20" stroke="#000" stroke-width="1.0"/>
<line x1="203.29" y1="303.90" x2="203.29" y2="306.10" stroke="#000" stroke-width="1.0"/>
<line x1="33.40" y1="471.68" x2="35.60" y2="471.68" stroke="#000" stroke-width="1.0"/>
<line x1="242.50" y1="471.68" x2="240.30" y2="471.68" stroke="#000" stroke-width="1.0"/>
<line x1="216.36" y1="510.40" x2="216.36" y2="506.40" stroke="#000" stroke-width="1.0"/>
<line x1="216.36" y1="303.90" x2="216.36" y2="307.90" stroke="#000" stroke-width="1.0"/>
<line x1="33.40" y1="484.59" x2="37.40" y2="484.59" stroke="#000" stroke-width="1.0"/>
<line x1="242.50" y1="484.59" x2="238.50" y2="484.59" stroke="#000" stroke-width="1.0"/>
<line x1="229.43" y1="510.40" x2="229.43" y2="508.20" stroke="#000" stroke-width="1.0"/>
<line x1="229.43" y1="303.90" x2="229.43" y2="306.10" stroke="#000" stroke-width="1.0"/>
<line x1="33.40" y1="497.49" x2="35.60" y2="497.49" stroke="#000" stroke-width="1.0"/>
<line x1="242.50" y1="497.49" x2="240.30" y2="497.49" stroke="#000" stroke-width="1.0"/>
<text transform="matrix(0.93,0.001,0,1.0,29.50,306.70)" font-size="9.1" text-anchor="end" >2.0</text>
<text transform="matrix(0.93,0.001,0,1.0,33.40,521.80)" font-size="9.1" text-anchor="middle" >−2.0</text>
<text transform="matrix(0.93,0.001,0,1.0,29.50,332.51)" font-size="9.1" text-anchor="end" >1.5</text>
<text transform="matrix(0.93,0.001,0,1.0,59.54,521.80)" font-size="9.1" text-anchor="middle" >−1.5</text>
<text transform="matrix(0.93,0.001,0,1.0,29.50,358.32)" font-size="9.1" text-anchor="end" >1.0</text>
<text transform="matrix(0.93,0.001,0,1.0,85.67,521.80)" font-size="9.1" text-anchor="middle" >−1.0</text>
<text transform="matrix(0.93,0.001,0,1.0,29.50,384.14)" font-size="9.1" text-anchor="end" >0.5</text>
<text transform="matrix(0.93,0.001,0,1.0,111.81,521.80)" font-size="9.1" text-anchor="middle" >−0.5</text>
<text transform="matrix(0.93,0.001,0,1.0,29.50,409.95)" font-size="9.1" text-anchor="end" >0.0</text>
<text transform="matrix(0.93,0.001,0,1.0,137.95,521.80)" font-size="9.1" text-anchor="middle" >0.0</text>
<text transform="matrix(0.93,0.001,0,1.0,29.50,435.76)" font-size="9.1" text-anchor="end" >−0.5</text>
<text transform="matrix(0.93,0.001,0,1.0,164.09,521.80)" font-size="9.1" text-anchor="middle" >0.5</text>
<text transform="matrix(0.93,0.001,0,1.0,29.50,461.57)" font-size="9.1" text-anchor="end" >−1.0</text>
<text transform="matrix(0.93,0.001,0,1.0,190.22,521.80)" font-size="9.1" text-anchor="middle" >1.0</text>
<text transform="matrix(0.93,0.001,0,1.0,29.50,487.39)" font-size="9.1" text-anchor="end" >−1.5</text>
<text transform="matrix(0.93,0.001,0,1.0,216.36,521.80)" font-size="9.1" text-anchor="middle" >1.5</text>
<text transform="matrix(0.93,0.001,0,1.0,29.50,513.20)" font-size="9.1" text-anchor="end" >−2.0</text>
<text transform="matrix(0.93,0.001,0,1.0,242.50,521.80)" font-size="9.1" text-anchor="middle" >2.0</text>
<text transform="matrix(1.0,0.001,0,1.0,137.95,539.30)" font-size="11.2" text-anchor="middle" >X</text>
<text x="0" y="0" font-size="11.2" text-anchor="middle" transform="translate(7.60,407.15) rotate(-90)">Z</text>
<text transform="matrix(1.0,0.001,0,1.03,42.20,328.25)" font-size="17.2" text-anchor="start" >(c)</text>
<rect x="276.30" y="303.90" width="17.20" height="206.50" fill="none" stroke="#333" stroke-width="0.8"/>
<line x1="293.50" y1="303.90" x2="297.00" y2="303.90" stroke="#222" stroke-width="0.9"/>
<text transform="matrix(0.91,0.001,0,1.0,299.60,306.15)" font-size="7.3" text-anchor="start" >0.9720</text>
<line x1="293.50" y1="329.71" x2="297.00" y2="329.71" stroke="#222" stroke-width="0.9"/>
<text transform="matrix(0.91,0.001,0,1.0,299.60,331.96)" font-size="7.3" text-anchor="start" >0.8935</text>
<line x1="293.50" y1="355.52" x2="297.00" y2="355.52" stroke="#222" stroke-width="0.9"/>
<text transform="matrix(0.91,0.001,0,1.0,299.60,357.77)" font-size="7.3" text-anchor="start" >0.8150</text>
<line x1="293.50" y1="381.34" x2="297.00" y2="381.34" stroke="#222" stroke-width="0.9"/>
<text transform="matrix(0.91,0.001,0,1.0,299.60,383.59)" font-size="7.3" text-anchor="start" >0.7365</text>
<line x1="293.50" y1="407.15" x2="297.00" y2="407.15" stroke="#222" stroke-width="0.9"/>
<text transform="matrix(0.91,0.001,0,1.0,299.60,409.40)" font-size="7.3" text-anchor="start" >0.6580</text>
<line x1="293.50" y1="432.96" x2="297.00" y2="432.96" stroke="#222" stroke-width="0.9"/>
<text transform="matrix(0.91,0.001,0,1.0,299.60,435.21)" font-size="7.3" text-anchor="start" >0.5795</text>
<line x1="293.50" y1="458.77" x2="297.00" y2="458.77" stroke="#222" stroke-width="0.9"/>
<text transform="matrix(0.91,0.001,0,1.0,299.60,461.02)" font-size="7.3" text-anchor="start" >0.5010</text>
<line x1="293.50" y1="484.59" x2="297.00" y2="484.59" stroke="#222" stroke-width="0.9"/>
<text transform="matrix(0.91,0.001,0,1.0,299.60,486.84)" font-size="7.3" text-anchor="start" >0.4225</text>
<line x1="293.50" y1="510.40" x2="297.00" y2="510.40" stroke="#222" stroke-width="0.9"/>
<text transform="matrix(0.91,0.001,0,1.0,299.60,512.65)" font-size="7.3" text-anchor="start" >0.3440</text>
<text transform="matrix(1.0,0.001,0,1.0,284.90,296.60)" font-size="10.3" text-anchor="middle" >Potential</text>
<rect x="398.60" y="304.00" width="208.90" height="206.40" fill="none" stroke="#000" stroke-width="1.1"/>
<line x1="411.66" y1="510.40" x2="411.66" y2="508.20" stroke="#000" stroke-width="1.0"/>
<line x1="411.66" y1="304.00" x2="411.66" y2="306.20" stroke="#000" stroke-width="1.0"/>
<line x1="398.60" y1="316.90" x2="400.80" y2="316.90" stroke="#000" stroke-width="1.0"/>
<line x1="607.50" y1="316.90" x2="605.30" y2="316.90" stroke="#000" stroke-width="1.0"/>
<line x1="424.71" y1="510.40" x2="424.71" y2="506.40" stroke="#000" stroke-width="1.0"/>
<line x1="424.71" y1="304.00" x2="424.71" y2="308.00" stroke="#000" stroke-width="1.0"/>
<line x1="398.60" y1="329.80" x2="402.60" y2="329.80" stroke="#000" stroke-width="1.0"/>
<line x1="607.50" y1="329.80" x2="603.50" y2="329.80" stroke="#000" stroke-width="1.0"/>
<line x1="437.77" y1="510.40" x2="437.77" y2="508.20" stroke="#000" stroke-width="1.0"/>
<line x1="437.77" y1="304.00" x2="437.77" y2="306.20" stroke="#000" stroke-width="1.0"/>
<line x1="398.60" y1="342.70" x2="400.80" y2="342.70" stroke="#000" stroke-width="1.0"/>
<line x1="607.50" y1="342.70" x2="605.30" y2="342.70" stroke="#000" stroke-width="1.0"/>
<line x1="450.83" y1="510.40" x2="450.83" y2="506.40" stroke="#000" stroke-width="1.0"/>
<line x1="450.83" y1="304.00" x2="450.83" y2="308.00" stroke="#000" stroke-width="1.0"/>
<line x1="398.60" y1="355.60" x2="402.60" y2="355.60" stroke="#000" stroke-width="1.0"/>
<line x1="607.50" y1="355.60" x2="603.50" y2="355.60" stroke="#000" stroke-width="1.0"/>
<line x1="463.88" y1="510.40" x2="463.88" y2="508.20" stroke="#000" stroke-width="1.0"/>
<line x1="463.88" y1="304.00" x2="463.88" y2="306.20" stroke="#000" stroke-width="1.0"/>
<line x1="398.60" y1="368.50" x2="400.80" y2="368.50" stroke="#000" stroke-width="1.0"/>
<line x1="607.50" y1="368.50" x2="605.30" y2="368.50" stroke="#000" stroke-width="1.0"/>
<line x1="476.94" y1="510.40" x2="476.94" y2="506.40" stroke="#000" stroke-width="1.0"/>
<line x1="476.94" y1="304.00" x2="476.94" y2="308.00" stroke="#000" stroke-width="1.0"/>
<line x1="398.60" y1="381.40" x2="402.60" y2="381.40" stroke="#000" stroke-width="1.0"/>
<line x1="607.50" y1="381.40" x2="603.50" y2="381.40" stroke="#000" stroke-width="1.0"/>
<line x1="489.99" y1="510.40" x2="489.99" y2="508.20" stroke="#000" stroke-width="1.0"/>
<line x1="489.99" y1="304.00" x2="489.99" y2="306.20" stroke="#000" stroke-width="1.0"/>
<line x1="398.60" y1="394.30" x2="400.80" y2="394.30" stroke="#000" stroke-width="1.0"/>
<line x1="607.50" y1="394.30" x2="605.30" y2="394.30" stroke="#000" stroke-width="1.0"/>
<line x1="503.05" y1="510.40" x2="503.05" y2="506.40" stroke="#000" stroke-width="1.0"/>
<line x1="503.05" y1="304.00" x2="503.05" y2="308.00" stroke="#000" stroke-width="1.0"/>
<line x1="398.60" y1="407.20" x2="402.60" y2="407.20" stroke="#000" stroke-width="1.0"/>
<line x1="607.50" y1="407.20" x2="603.50" y2="407.20" stroke="#000" stroke-width="1.0"/>
<line x1="516.11" y1="510.40" x2="516.11" y2="508.20" stroke="#000" stroke-width="1.0"/>
<line x1="516.11" y1="304.00" x2="516.11" y2="306.20" stroke="#000" stroke-width="1.0"/>
<line x1="398.60" y1="420.10" x2="400.80" y2="420.10" stroke="#000" stroke-width="1.0"/>
<line x1="607.50" y1="420.10" x2="605.30" y2="420.10" stroke="#000" stroke-width="1.0"/>
<line x1="529.16" y1="510.40" x2="529.16" y2="506.40" stroke="#000" stroke-width="1.0"/>
<line x1="529.16" y1="304.00" x2="529.16" y2="308.00" stroke="#000" stroke-width="1.0"/>
<line x1="398.60" y1="433.00" x2="402.60" y2="433.00" stroke="#000" stroke-width="1.0"/>
<line x1="607.50" y1="433.00" x2="603.50" y2="433.00" stroke="#000" stroke-width="1.0"/>
<line x1="542.22" y1="510.40" x2="542.22" y2="508.20" stroke="#000" stroke-width="1.0"/>
<line x1="542.22" y1="304.00" x2="542.22" y2="306.20" stroke="#000" stroke-width="1.0"/>
<line x1="398.60" y1="445.90" x2="400.80" y2="445.90" stroke="#000" stroke-width="1.0"/>
<line x1="607.50" y1="445.90" x2="605.30" y2="445.90" stroke="#000" stroke-width="1.0"/>
<line x1="555.27" y1="510.40" x2="555.27" y2="506.40" stroke="#000" stroke-width="1.0"/>
<line x1="555.27" y1="304.00" x2="555.27" y2="308.00" stroke="#000" stroke-width="1.0"/>
<line x1="398.60" y1="458.80" x2="402.60" y2="458.80" stroke="#000" stroke-width="1.0"/>
<line x1="607.50" y1="458.80" x2="603.50" y2="458.80" stroke="#000" stroke-width="1.0"/>
<line x1="568.33" y1="510.40" x2="568.33" y2="508.20" stroke="#000" stroke-width="1.0"/>
<line x1="568.33" y1="304.00" x2="568.33" y2="306.20" stroke="#000" stroke-width="1.0"/>
<line x1="398.60" y1="471.70" x2="400.80" y2="471.70" stroke="#000" stroke-width="1.0"/>
<line x1="607.50" y1="471.70" x2="605.30" y2="471.70" stroke="#000" stroke-width="1.0"/>
<line x1="581.39" y1="510.40" x2="581.39" y2="506.40" stroke="#000" stroke-width="1.0"/>
<line x1="581.39" y1="304.00" x2="581.39" y2="308.00" stroke="#000" stroke-width="1.0"/>
<line x1="398.60" y1="484.60" x2="402.60" y2="484.60" stroke="#000" stroke-width="1.0"/>
<line x1="607.50" y1="484.60" x2="603.50" y2="484.60" stroke="#000" stroke-width="1.0"/>
<line x1="594.44" y1="510.40" x2="594.44" y2="508.20" stroke="#000" stroke-width="1.0"/>
<line x1="594.44" y1="304.00" x2="594.44" y2="306.20" stroke="#000" stroke-width="1.0"/>
<line x1="398.60" y1="497.50" x2="400.80" y2="497.50" stroke="#000" stroke-width="1.0"/>
<line x1="607.50" y1="497.50" x2="605.30" y2="497.50" stroke="#000" stroke-width="1.0"/>
<text transform="matrix(0.93,0.001,0,1.0,394.70,306.80)" font-size="9.1" text-anchor="end" >2.0</text>
<text transform="matrix(0.93,0.001,0,1.0,398.60,521.80)" font-size="9.1" text-anchor="middle" >−2.0</text>
<text transform="matrix(0.93,0.001,0,1.0,394.70,332.60)" font-size="9.1" text-anchor="end" >1.5</text>
<text transform="matrix(0.93,0.001,0,1.0,424.71,521.80)" font-size="9.1" text-anchor="middle" >−1.5</text>
<text transform="matrix(0.93,0.001,0,1.0,394.70,358.40)" font-size="9.1" text-anchor="end" >1.0</text>
<text transform="matrix(0.93,0.001,0,1.0,450.83,521.80)" font-size="9.1" text-anchor="middle" >−1.0</text>
<text transform="matrix(0.93,0.001,0,1.0,394.70,384.20)" font-size="9.1" text-anchor="end" >0.5</text>
<text transform="matrix(0.93,0.001,0,1.0,476.94,521.80)" font-size="9.1" text-anchor="middle" >−0.5</text>
<text transform="matrix(0.93,0.001,0,1.0,394.70,410.00)" font-size="9.1" text-anchor="end" >0.0</text>
<text transform="matrix(0.93,0.001,0,1.0,503.05,521.80)" font-size="9.1" text-anchor="middle" >0.0</text>
<text transform="matrix(0.93,0.001,0,1.0,394.70,435.80)" font-size="9.1" text-anchor="end" >−0.5</text>
<text transform="matrix(0.93,0.001,0,1.0,529.16,521.80)" font-size="9.1" text-anchor="middle" >0.5</text>
<text transform="matrix(0.93,0.001,0,1.0,394.70,461.60)" font-size="9.1" text-anchor="end" >−1.0</text>
<text transform="matrix(0.93,0.001,0,1.0,555.27,521.80)" font-size="9.1" text-anchor="middle" >1.0</text>
<text transform="matrix(0.93,0.001,0,1.0,394.70,487.40)" font-size="9.1" text-anchor="end" >−1.5</text>
<text transform="matrix(0.93,0.001,0,1.0,581.39,521.80)" font-size="9.1" text-anchor="middle" >1.5</text>
<text transform="matrix(0.93,0.001,0,1.0,394.70,513.20)" font-size="9.1" text-anchor="end" >−2.0</text>
<text transform="matrix(0.93,0.001,0,1.0,607.50,521.80)" font-size="9.1" text-anchor="middle" >2.0</text>
<text transform="matrix(1.0,0.001,0,1.0,503.05,539.30)" font-size="11.2" text-anchor="middle" >X</text>
<text x="0" y="0" font-size="11.2" text-anchor="middle" transform="translate(372.80,407.20) rotate(-90)">Z</text>
<text transform="matrix(1.0,0.001,0,1.03,407.40,328.35)" font-size="17.2" text-anchor="start" >(d)</text>
<rect x="641.50" y="304.00" width="17.20" height="206.40" fill="none" stroke="#333" stroke-width="0.8"/>
<line x1="658.70" y1="304.00" x2="662.20" y2="304.00" stroke="#222" stroke-width="0.9"/>
<text transform="matrix(0.91,0.001,0,1.0,664.80,306.25)" font-size="7.3" text-anchor="start" >1.000</text>
<line x1="658.70" y1="329.80" x2="662.20" y2="329.80" stroke="#222" stroke-width="0.9"/>
<text transform="matrix(0.91,0.001,0,1.0,664.80,332.05)" font-size="7.3" text-anchor="start" >0.8750</text>
<line x1="658.70" y1="355.60" x2="662.20" y2="355.60" stroke="#222" stroke-width="0.9"/>
<text transform="matrix(0.91,0.001,0,1.0,664.80,357.85)" font-size="7.3" text-anchor="start" >0.7500</text>
<line x1="658.70" y1="381.40" x2="662.20" y2="381.40" stroke="#222" stroke-width="0.9"/>
<text transform="matrix(0.91,0.001,0,1.0,664.80,383.65)" font-size="7.3" text-anchor="start" >0.6250</text>
<line x1="658.70" y1="407.20" x2="662.20" y2="407.20" stroke="#222" stroke-width="0.9"/>
<text transform="matrix(0.91,0.001,0,1.0,664.80,409.45)" font-size="7.3" text-anchor="start" >0.5000</text>
<line x1="658.70" y1="433.00" x2="662.20" y2="433.00" stroke="#222" stroke-width="0.9"/>
<text transform="matrix(0.91,0.001,0,1.0,664.80,435.25)" font-size="7.3" text-anchor="start" >0.3750</text>
<line x1="658.70" y1="458.80" x2="662.20" y2="458.80" stroke="#222" stroke-width="0.9"/>
<text transform="matrix(0.91,0.001,0,1.0,664.80,461.05)" font-size="7.3" text-anchor="start" >0.2500</text>
<line x1="658.70" y1="484.60" x2="662.20" y2="484.60" stroke="#222" stroke-width="0.9"/>
<text transform="matrix(0.91,0.001,0,1.0,664.80,486.85)" font-size="7.3" text-anchor="start" >0.1250</text>
<line x1="658.70" y1="510.40" x2="662.20" y2="510.40" stroke="#222" stroke-width="0.9"/>
<text transform="matrix(0.91,0.001,0,1.0,664.80,512.65)" font-size="7.3" text-anchor="start" >0.000</text>
<text transform="matrix(1.0,0.001,0,1.0,650.10,296.70)" font-size="10.3" text-anchor="middle" >Electric Field</text>
<rect x="33.40" y="600.65" width="209.10" height="206.55" fill="none" stroke="#000" stroke-width="1.1"/>
<line x1="46.47" y1="807.20" x2="46.47" y2="805.00" stroke="#000" stroke-width="1.0"/>
<line x1="46.47" y1="600.65" x2="46.47" y2="602.85" stroke="#000" stroke-width="1.0"/>
<line x1="33.40" y1="613.56" x2="35.60" y2="613.56" stroke="#000" stroke-width="1.0"/>
<line x1="242.50" y1="613.56" x2="240.30" y2="613.56" stroke="#000" stroke-width="1.0"/>
<line x1="59.54" y1="807.20" x2="59.54" y2="803.20" stroke="#000" stroke-width="1.0"/>
<line x1="59.54" y1="600.65" x2="59.54" y2="604.65" stroke="#000" stroke-width="1.0"/>
<line x1="33.40" y1="626.47" x2="37.40" y2="626.47" stroke="#000" stroke-width="1.0"/>
<line x1="242.50" y1="626.47" x2="238.50" y2="626.47" stroke="#000" stroke-width="1.0"/>
<line x1="72.61" y1="807.20" x2="72.61" y2="805.00" stroke="#000" stroke-width="1.0"/>
<line x1="72.61" y1="600.65" x2="72.61" y2="602.85" stroke="#000" stroke-width="1.0"/>
<line x1="33.40" y1="639.38" x2="35.60" y2="639.38" stroke="#000" stroke-width="1.0"/>
<line x1="242.50" y1="639.38" x2="240.30" y2="639.38" stroke="#000" stroke-width="1.0"/>
<line x1="85.67" y1="807.20" x2="85.67" y2="803.20" stroke="#000" stroke-width="1.0"/>
<line x1="85.67" y1="600.65" x2="85.67" y2="604.65" stroke="#000" stroke-width="1.0"/>
<line x1="33.40" y1="652.29" x2="37.40" y2="652.29" stroke="#000" stroke-width="1.0"/>
<line x1="242.50" y1="652.29" x2="238.50" y2="652.29" stroke="#000" stroke-width="1.0"/>
<line x1="98.74" y1="807.20" x2="98.74" y2="805.00" stroke="#000" stroke-width="1.0"/>
<line x1="98.74" y1="600.65" x2="98.74" y2="602.85" stroke="#000" stroke-width="1.0"/>
<line x1="33.40" y1="665.20" x2="35.60" y2="665.20" stroke="#000" stroke-width="1.0"/>
<line x1="242.50" y1="665.20" x2="240.30" y2="665.20" stroke="#000" stroke-width="1.0"/>
<line x1="111.81" y1="807.20" x2="111.81" y2="803.20" stroke="#000" stroke-width="1.0"/>
<line x1="111.81" y1="600.65" x2="111.81" y2="604.65" stroke="#000" stroke-width="1.0"/>
<line x1="33.40" y1="678.11" x2="37.40" y2="678.11" stroke="#000" stroke-width="1.0"/>
<line x1="242.50" y1="678.11" x2="238.50" y2="678.11" stroke="#000" stroke-width="1.0"/>
<line x1="124.88" y1="807.20" x2="124.88" y2="805.00" stroke="#000" stroke-width="1.0"/>
<line x1="124.88" y1="600.65" x2="124.88" y2="602.85" stroke="#000" stroke-width="1.0"/>
<line x1="33.40" y1="691.02" x2="35.60" y2="691.02" stroke="#000" stroke-width="1.0"/>
<line x1="242.50" y1="691.02" x2="240.30" y2="691.02" stroke="#000" stroke-width="1.0"/>
<line x1="137.95" y1="807.20" x2="137.95" y2="803.20" stroke="#000" stroke-width="1.0"/>
<line x1="137.95" y1="600.65" x2="137.95" y2="604.65" stroke="#000" stroke-width="1.0"/>
<line x1="33.40" y1="703.92" x2="37.40" y2="703.92" stroke="#000" stroke-width="1.0"/>
<line x1="242.50" y1="703.92" x2="238.50" y2="703.92" stroke="#000" stroke-width="1.0"/>
<line x1="151.02" y1="807.20" x2="151.02" y2="805.00" stroke="#000" stroke-width="1.0"/>
<line x1="151.02" y1="600.65" x2="151.02" y2="602.85" stroke="#000" stroke-width="1.0"/>
<line x1="33.40" y1="716.83" x2="35.60" y2="716.83" stroke="#000" stroke-width="1.0"/>
<line x1="242.50" y1="716.83" x2="240.30" y2="716.83" stroke="#000" stroke-width="1.0"/>
<line x1="164.09" y1="807.20" x2="164.09" y2="803.20" stroke="#000" stroke-width="1.0"/>
<line x1="164.09" y1="600.65" x2="164.09" y2="604.65" stroke="#000" stroke-width="1.0"/>
<line x1="33.40" y1="729.74" x2="37.40" y2="729.74" stroke="#000" stroke-width="1.0"/>
<line x1="242.50" y1="729.74" x2="238.50" y2="729.74" stroke="#000" stroke-width="1.0"/>
<line x1="177.16" y1="807.20" x2="177.16" y2="805.00" stroke="#000" stroke-width="1.0"/>
<line x1="177.16" y1="600.65" x2="177.16" y2="602.85" stroke="#000" stroke-width="1.0"/>
<line x1="33.40" y1="742.65" x2="35.60" y2="742.65" stroke="#000" stroke-width="1.0"/>
<line x1="242.50" y1="742.65" x2="240.30" y2="742.65" stroke="#000" stroke-width="1.0"/>
<line x1="190.22" y1="807.20" x2="190.22" y2="803.20" stroke="#000" stroke-width="1.0"/>
<line x1="190.22" y1="600.65" x2="190.22" y2="604.65" stroke="#000" stroke-width="1.0"/>
<line x1="33.40" y1="755.56" x2="37.40" y2="755.56" stroke="#000" stroke-width="1.0"/>
<line x1="242.50" y1="755.56" x2="238.50" y2="755.56" stroke="#000" stroke-width="1.0"/>
<line x1="203.29" y1="807.20" x2="203.29" y2="805.00" stroke="#000" stroke-width="1.0"/>
<line x1="203.29" y1="600.65" x2="203.29" y2="602.85" stroke="#000" stroke-width="1.0"/>
<line x1="33.40" y1="768.47" x2="35.60" y2="768.47" stroke="#000" stroke-width="1.0"/>
<line x1="242.50" y1="768.47" x2="240.30" y2="768.47" stroke="#000" stroke-width="1.0"/>
<line x1="216.36" y1="807.20" x2="216.36" y2="803.20" stroke="#000" stroke-width="1.0"/>
<line x1="216.36" y1="600.65" x2="216.36" y2="604.65" stroke="#000" stroke-width="1.0"/>
<line x1="33.40" y1="781.38" x2="37.40" y2="781.38" stroke="#000" stroke-width="1.0"/>
<line x1="242.50" y1="781.38" x2="238.50" y2="781.38" stroke="#000" stroke-width="1.0"/>
<line x1="229.43" y1="807.20" x2="229.43" y2="805.00" stroke="#000" stroke-width="1.0"/>
<line x1="229.43" y1="600.65" x2="229.43" y2="602.85" stroke="#000" stroke-width="1.0"/>
<line x1="33.40" y1="794.29" x2="35.60" y2="794.29" stroke="#000" stroke-width="1.0"/>
<line x1="242.50" y1="794.29" x2="240.30" y2="794.29" stroke="#000" stroke-width="1.0"/>
<text transform="matrix(0.93,0.001,0,1.0,29.50,603.45)" font-size="9.1" text-anchor="end" >2.0</text>
<text transform="matrix(0.93,0.001,0,1.0,33.40,818.60)" font-size="9.1" text-anchor="middle" >−2.0</text>
<text transform="matrix(0.93,0.001,0,1.0,29.50,629.27)" font-size="9.1" text-anchor="end" >1.5</text>
<text transform="matrix(0.93,0.001,0,1.0,59.54,818.60)" font-size="9.1" text-anchor="middle" >−1.5</text>
<text transform="matrix(0.93,0.001,0,1.0,29.50,655.09)" font-size="9.1" text-anchor="end" >1.0</text>
<text transform="matrix(0.93,0.001,0,1.0,85.67,818.60)" font-size="9.1" text-anchor="middle" >−1.0</text>
<text transform="matrix(0.93,0.001,0,1.0,29.50,680.91)" font-size="9.1" text-anchor="end" >0.5</text>
<text transform="matrix(0.93,0.001,0,1.0,111.81,818.60)" font-size="9.1" text-anchor="middle" >−0.5</text>
<text transform="matrix(0.93,0.001,0,1.0,29.50,706.72)" font-size="9.1" text-anchor="end" >0.0</text>
<text transform="matrix(0.93,0.001,0,1.0,137.95,818.60)" font-size="9.1" text-anchor="middle" >0.0</text>
<text transform="matrix(0.93,0.001,0,1.0,29.50,732.54)" font-size="9.1" text-anchor="end" >−0.5</text>
<text transform="matrix(0.93,0.001,0,1.0,164.09,818.60)" font-size="9.1" text-anchor="middle" >0.5</text>
<text transform="matrix(0.93,0.001,0,1.0,29.50,758.36)" font-size="9.1" text-anchor="end" >−1.0</text>
<text transform="matrix(0.93,0.001,0,1.0,190.22,818.60)" font-size="9.1" text-anchor="middle" >1.0</text>
<text transform="matrix(0.93,0.001,0,1.0,29.50,784.18)" font-size="9.1" text-anchor="end" >−1.5</text>
<text transform="matrix(0.93,0.001,0,1.0,216.36,818.60)" font-size="9.1" text-anchor="middle" >1.5</text>
<text transform="matrix(0.93,0.001,0,1.0,29.50,810.00)" font-size="9.1" text-anchor="end" >−2.0</text>
<text transform="matrix(0.93,0.001,0,1.0,242.50,818.60)" font-size="9.1" text-anchor="middle" >2.0</text>
<text transform="matrix(1.0,0.001,0,1.0,137.95,836.10)" font-size="11.2" text-anchor="middle" >X</text>
<text x="0" y="0" font-size="11.2" text-anchor="middle" transform="translate(7.60,703.92) rotate(-90)">Z</text>
<text transform="matrix(1.0,0.001,0,1.03,42.20,625.00)" font-size="17.2" text-anchor="start" >(e)</text>
<rect x="276.30" y="600.65" width="17.20" height="206.55" fill="none" stroke="#333" stroke-width="0.8"/>
<line x1="293.50" y1="600.65" x2="297.00" y2="600.65" stroke="#222" stroke-width="0.9"/>
<text transform="matrix(0.91,0.001,0,1.0,299.60,602.90)" font-size="7.3" text-anchor="start" >0.9720</text>
<line x1="293.50" y1="626.47" x2="297.00" y2="626.47" stroke="#222" stroke-width="0.9"/>
<text transform="matrix(0.91,0.001,0,1.0,299.60,628.72)" font-size="7.3" text-anchor="start" >0.8915</text>
<line x1="293.50" y1="652.29" x2="297.00" y2="652.29" stroke="#222" stroke-width="0.9"/>
<text transform="matrix(0.91,0.001,0,1.0,299.60,654.54)" font-size="7.3" text-anchor="start" >0.8110</text>
<line x1="293.50" y1="678.11" x2="297.00" y2="678.11" stroke="#222" stroke-width="0.9"/>
<text transform="matrix(0.91,0.001,0,1.0,299.60,680.36)" font-size="7.3" text-anchor="start" >0.7305</text>
<line x1="293.50" y1="703.92" x2="297.00" y2="703.92" stroke="#222" stroke-width="0.9"/>
<text transform="matrix(0.91,0.001,0,1.0,299.60,706.17)" font-size="7.3" text-anchor="start" >0.6500</text>
<line x1="293.50" y1="729.74" x2="297.00" y2="729.74" stroke="#222" stroke-width="0.9"/>
<text transform="matrix(0.91,0.001,0,1.0,299.60,731.99)" font-size="7.3" text-anchor="start" >0.5695</text>
<line x1="293.50" y1="755.56" x2="297.00" y2="755.56" stroke="#222" stroke-width="0.9"/>
<text transform="matrix(0.91,0.001,0,1.0,299.60,757.81)" font-size="7.3" text-anchor="start" >0.4890</text>
<line x1="293.50" y1="781.38" x2="297.00" y2="781.38" stroke="#222" stroke-width="0.9"/>
<text transform="matrix(0.91,0.001,0,1.0,299.60,783.63)" font-size="7.3" text-anchor="start" >0.4085</text>
<line x1="293.50" y1="807.20" x2="297.00" y2="807.20" stroke="#222" stroke-width="0.9"/>
<text transform="matrix(0.91,0.001,0,1.0,299.60,809.45)" font-size="7.3" text-anchor="start" >0.3280</text>
<text transform="matrix(1.0,0.001,0,1.0,284.90,593.35)" font-size="10.3" text-anchor="middle" >Potential</text>
<rect x="398.50" y="593.40" width="209.00" height="212.65" fill="none" stroke="#000" stroke-width="1.1"/>
<line x1="411.56" y1="806.05" x2="411.56" y2="803.85" stroke="#000" stroke-width="1.0"/>
<line x1="411.56" y1="593.40" x2="411.56" y2="595.60" stroke="#000" stroke-width="1.0"/>
<line x1="398.50" y1="606.69" x2="400.70" y2="606.69" stroke="#000" stroke-width="1.0"/>
<line x1="607.50" y1="606.69" x2="605.30" y2="606.69" stroke="#000" stroke-width="1.0"/>
<line x1="424.62" y1="806.05" x2="424.62" y2="802.05" stroke="#000" stroke-width="1.0"/>
<line x1="424.62" y1="593.40" x2="424.62" y2="597.40" stroke="#000" stroke-width="1.0"/>
<line x1="398.50" y1="619.98" x2="402.50" y2="619.98" stroke="#000" stroke-width="1.0"/>
<line x1="607.50" y1="619.98" x2="603.50" y2="619.98" stroke="#000" stroke-width="1.0"/>
<line x1="437.69" y1="806.05" x2="437.69" y2="803.85" stroke="#000" stroke-width="1.0"/>
<line x1="437.69" y1="593.40" x2="437.69" y2="595.60" stroke="#000" stroke-width="1.0"/>
<line x1="398.50" y1="633.27" x2="400.70" y2="633.27" stroke="#000" stroke-width="1.0"/>
<line x1="607.50" y1="633.27" x2="605.30" y2="633.27" stroke="#000" stroke-width="1.0"/>
<line x1="450.75" y1="806.05" x2="450.75" y2="802.05" stroke="#000" stroke-width="1.0"/>
<line x1="450.75" y1="593.40" x2="450.75" y2="597.40" stroke="#000" stroke-width="1.0"/>
<line x1="398.50" y1="646.56" x2="402.50" y2="646.56" stroke="#000" stroke-width="1.0"/>
<line x1="607.50" y1="646.56" x2="603.50" y2="646.56" stroke="#000" stroke-width="1.0"/>
<line x1="463.81" y1="806.05" x2="463.81" y2="803.85" stroke="#000" stroke-width="1.0"/>
<line x1="463.81" y1="593.40" x2="463.81" y2="595.60" stroke="#000" stroke-width="1.0"/>
<line x1="398.50" y1="659.85" x2="400.70" y2="659.85" stroke="#000" stroke-width="1.0"/>
<line x1="607.50" y1="659.85" x2="605.30" y2="659.85" stroke="#000" stroke-width="1.0"/>
<line x1="476.88" y1="806.05" x2="476.88" y2="802.05" stroke="#000" stroke-width="1.0"/>
<line x1="476.88" y1="593.40" x2="476.88" y2="597.40" stroke="#000" stroke-width="1.0"/>
<line x1="398.50" y1="673.14" x2="402.50" y2="673.14" stroke="#000" stroke-width="1.0"/>
<line x1="607.50" y1="673.14" x2="603.50" y2="673.14" stroke="#000" stroke-width="1.0"/>
<line x1="489.94" y1="806.05" x2="489.94" y2="803.85" stroke="#000" stroke-width="1.0"/>
<line x1="489.94" y1="593.40" x2="489.94" y2="595.60" stroke="#000" stroke-width="1.0"/>
<line x1="398.50" y1="686.43" x2="400.70" y2="686.43" stroke="#000" stroke-width="1.0"/>
<line x1="607.50" y1="686.43" x2="605.30" y2="686.43" stroke="#000" stroke-width="1.0"/>
<line x1="503.00" y1="806.05" x2="503.00" y2="802.05" stroke="#000" stroke-width="1.0"/>
<line x1="503.00" y1="593.40" x2="503.00" y2="597.40" stroke="#000" stroke-width="1.0"/>
<line x1="398.50" y1="699.72" x2="402.50" y2="699.72" stroke="#000" stroke-width="1.0"/>
<line x1="607.50" y1="699.72" x2="603.50" y2="699.72" stroke="#000" stroke-width="1.0"/>
<line x1="516.06" y1="806.05" x2="516.06" y2="803.85" stroke="#000" stroke-width="1.0"/>
<line x1="516.06" y1="593.40" x2="516.06" y2="595.60" stroke="#000" stroke-width="1.0"/>
<line x1="398.50" y1="713.02" x2="400.70" y2="713.02" stroke="#000" stroke-width="1.0"/>
<line x1="607.50" y1="713.02" x2="605.30" y2="713.02" stroke="#000" stroke-width="1.0"/>
<line x1="529.12" y1="806.05" x2="529.12" y2="802.05" stroke="#000" stroke-width="1.0"/>
<line x1="529.12" y1="593.40" x2="529.12" y2="597.40" stroke="#000" stroke-width="1.0"/>
<line x1="398.50" y1="726.31" x2="402.50" y2="726.31" stroke="#000" stroke-width="1.0"/>
<line x1="607.50" y1="726.31" x2="603.50" y2="726.31" stroke="#000" stroke-width="1.0"/>
<line x1="542.19" y1="806.05" x2="542.19" y2="803.85" stroke="#000" stroke-width="1.0"/>
<line x1="542.19" y1="593.40" x2="542.19" y2="595.60" stroke="#000" stroke-width="1.0"/>
<line x1="398.50" y1="739.60" x2="400.70" y2="739.60" stroke="#000" stroke-width="1.0"/>
<line x1="607.50" y1="739.60" x2="605.30" y2="739.60" stroke="#000" stroke-width="1.0"/>
<line x1="555.25" y1="806.05" x2="555.25" y2="802.05" stroke="#000" stroke-width="1.0"/>
<line x1="555.25" y1="593.40" x2="555.25" y2="597.40" stroke="#000" stroke-width="1.0"/>
<line x1="398.50" y1="752.89" x2="402.50" y2="752.89" stroke="#000" stroke-width="1.0"/>
<line x1="607.50" y1="752.89" x2="603.50" y2="752.89" stroke="#000" stroke-width="1.0"/>
<line x1="568.31" y1="806.05" x2="568.31" y2="803.85" stroke="#000" stroke-width="1.0"/>
<line x1="568.31" y1="593.40" x2="568.31" y2="595.60" stroke="#000" stroke-width="1.0"/>
<line x1="398.50" y1="766.18" x2="400.70" y2="766.18" stroke="#000" stroke-width="1.0"/>
<line x1="607.50" y1="766.18" x2="605.30" y2="766.18" stroke="#000" stroke-width="1.0"/>
<line x1="581.38" y1="806.05" x2="581.38" y2="802.05" stroke="#000" stroke-width="1.0"/>
<line x1="581.38" y1="593.40" x2="581.38" y2="597.40" stroke="#000" stroke-width="1.0"/>
<line x1="398.50" y1="779.47" x2="402.50" y2="779.47" stroke="#000" stroke-width="1.0"/>
<line x1="607.50" y1="779.47" x2="603.50" y2="779.47" stroke="#000" stroke-width="1.0"/>
<line x1="594.44" y1="806.05" x2="594.44" y2="803.85" stroke="#000" stroke-width="1.0"/>
<line x1="594.44" y1="593.40" x2="594.44" y2="595.60" stroke="#000" stroke-width="1.0"/>
<line x1="398.50" y1="792.76" x2="400.70" y2="792.76" stroke="#000" stroke-width="1.0"/>
<line x1="607.50" y1="792.76" x2="605.30" y2="792.76" stroke="#000" stroke-width="1.0"/>
<text transform="matrix(0.93,0.001,0,1.0,394.60,596.20)" font-size="9.1" text-anchor="end" >2.0</text>
<text transform="matrix(0.93,0.001,0,1.0,398.50,817.45)" font-size="9.1" text-anchor="middle" >−2.0</text>
<text transform="matrix(0.93,0.001,0,1.0,394.60,622.78)" font-size="9.1" text-anchor="end" >1.5</text>
<text transform="matrix(0.93,0.001,0,1.0,424.62,817.45)" font-size="9.1" text-anchor="middle" >−1.5</text>
<text transform="matrix(0.93,0.001,0,1.0,394.60,649.36)" font-size="9.1" text-anchor="end" >1.0</text>
<text transform="matrix(0.93,0.001,0,1.0,450.75,817.45)" font-size="9.1" text-anchor="middle" >−1.0</text>
<text transform="matrix(0.93,0.001,0,1.0,394.60,675.94)" font-size="9.1" text-anchor="end" >0.5</text>
<text transform="matrix(0.93,0.001,0,1.0,476.88,817.45)" font-size="9.1" text-anchor="middle" >−0.5</text>
<text transform="matrix(0.93,0.001,0,1.0,394.60,702.52)" font-size="9.1" text-anchor="end" >0.0</text>
<text transform="matrix(0.93,0.001,0,1.0,503.00,817.45)" font-size="9.1" text-anchor="middle" >0.0</text>
<text transform="matrix(0.93,0.001,0,1.0,394.60,729.11)" font-size="9.1" text-anchor="end" >−0.5</text>
<text transform="matrix(0.93,0.001,0,1.0,529.12,817.45)" font-size="9.1" text-anchor="middle" >0.5</text>
<text transform="matrix(0.93,0.001,0,1.0,394.60,755.69)" font-size="9.1" text-anchor="end" >−1.0</text>
<text transform="matrix(0.93,0.001,0,1.0,555.25,817.45)" font-size="9.1" text-anchor="middle" >1.0</text>
<text transform="matrix(0.93,0.001,0,1.0,394.60,782.27)" font-size="9.1" text-anchor="end" >−1.5</text>
<text transform="matrix(0.93,0.001,0,1.0,581.38,817.45)" font-size="9.1" text-anchor="middle" >1.5</text>
<text transform="matrix(0.93,0.001,0,1.0,394.60,808.85)" font-size="9.1" text-anchor="end" >−2.0</text>
<text transform="matrix(0.93,0.001,0,1.0,607.50,817.45)" font-size="9.1" text-anchor="middle" >2.0</text>
<text transform="matrix(1.0,0.001,0,1.0,503.00,834.95)" font-size="11.2" text-anchor="middle" >X</text>
<text x="0" y="0" font-size="11.2" text-anchor="middle" transform="translate(372.70,699.72) rotate(-90)">Z</text>
<text transform="matrix(1.0,0.001,0,1.055,407.30,618.60)" font-size="17.2" text-anchor="start" >(f)</text>
<rect x="641.40" y="593.40" width="17.20" height="212.65" fill="none" stroke="#333" stroke-width="0.8"/>
<line x1="658.60" y1="593.40" x2="662.10" y2="593.40" stroke="#222" stroke-width="0.9"/>
<text transform="matrix(0.91,0.001,0,1.0,664.70,595.65)" font-size="7.3" text-anchor="start" >1.000</text>
<line x1="658.60" y1="619.98" x2="662.10" y2="619.98" stroke="#222" stroke-width="0.9"/>
<text transform="matrix(0.91,0.001,0,1.0,664.70,622.23)" font-size="7.3" text-anchor="start" >0.8750</text>
<line x1="658.60" y1="646.56" x2="662.10" y2="646.56" stroke="#222" stroke-width="0.9"/>
<text transform="matrix(0.91,0.001,0,1.0,664.70,648.81)" font-size="7.3" text-anchor="start" >0.7500</text>
<line x1="658.60" y1="673.14" x2="662.10" y2="673.14" stroke="#222" stroke-width="0.9"/>
<text transform="matrix(0.91,0.001,0,1.0,664.70,675.39)" font-size="7.3" text-anchor="start" >0.6250</text>
<line x1="658.60" y1="699.72" x2="662.10" y2="699.72" stroke="#222" stroke-width="0.9"/>
<text transform="matrix(0.91,0.001,0,1.0,664.70,701.97)" font-size="7.3" text-anchor="start" >0.5000</text>
<line x1="658.60" y1="726.31" x2="662.10" y2="726.31" stroke="#222" stroke-width="0.9"/>
<text transform="matrix(0.91,0.001,0,1.0,664.70,728.56)" font-size="7.3" text-anchor="start" >0.3750</text>
<line x1="658.60" y1="752.89" x2="662.10" y2="752.89" stroke="#222" stroke-width="0.9"/>
<text transform="matrix(0.91,0.001,0,1.0,664.70,755.14)" font-size="7.3" text-anchor="start" >0.2500</text>
<line x1="658.60" y1="779.47" x2="662.10" y2="779.47" stroke="#222" stroke-width="0.9"/>
<text transform="matrix(0.91,0.001,0,1.0,664.70,781.72)" font-size="7.3" text-anchor="start" >0.1250</text>
<line x1="658.60" y1="806.05" x2="662.10" y2="806.05" stroke="#222" stroke-width="0.9"/>
<text transform="matrix(0.91,0.001,0,1.0,664.70,808.30)" font-size="7.3" text-anchor="start" >0.000</text>
<text transform="matrix(1.0,0.001,0,1.0,650.00,586.10)" font-size="10.3" text-anchor="middle" >Electric Field</text>
</svg>
<script>
(function(){
var PANELS = {"a": {"L": 33.4, "R": 242.5, "T": 15.5, "B": 221.9, "kind": "V", "plane": "xy", "vmin": 0.368, "vmax": 0.972, "cbx0": 276.3, "cbx1": 293.5}, "b": {"L": 398.8, "R": 607.5, "T": 15.5, "B": 221.9, "kind": "E", "plane": "xy", "vmin": 0.0, "vmax": 1.0, "cbx0": 641.7, "cbx1": 658.9000000000001}, "c": {"L": 33.4, "R": 242.5, "T": 303.9, "B": 510.4, "kind": "V", "plane": "xz0", "vmin": 0.344, "vmax": 0.972, "cbx0": 276.3, "cbx1": 293.5}, "d": {"L": 398.6, "R": 607.5, "T": 304.0, "B": 510.4, "kind": "E", "plane": "xz0", "vmin": 0.0, "vmax": 1.0, "cbx0": 641.5, "cbx1": 658.7}, "e": {"L": 33.4, "R": 242.5, "T": 600.65, "B": 807.2, "kind": "V", "plane": "xz1", "vmin": 0.328, "vmax": 0.972, "cbx0": 276.3, "cbx1": 293.5}, "f": {"L": 398.5, "R": 607.5, "T": 593.4, "B": 806.05, "kind": "E", "plane": "xz1", "vmin": 0.0, "vmax": 1.0, "cbx0": 641.4, "cbx1": 658.5999999999999}};
var V0 = 0.972, RT = 1.0, AT = 0.33, NS = 24, FS = 0.4;
// source rings (rho', z') and collocation points
var sr = [], sz = [], cr = [], cz = [];
for (var i = 0; i < NS; i++) {
  var t = (i + 0.5) / NS * 2 * Math.PI;
  cr.push(RT + AT * Math.cos(t)); cz.push(AT * Math.sin(t));
  sr.push(RT + FS * AT * Math.cos(t)); sz.push(FS * AT * Math.sin(t));
}
function agmPot(r, z, rp, zp) {
  var dz = z - zp;
  var A = Math.sqrt((r + rp) * (r + rp) + dz * dz);
  var B = Math.sqrt((r - rp) * (r - rp) + dz * dz);
  for (var k = 0; k < 30 && Math.abs(A - B) > 1e-12 * A; k++) {
    var a2 = 0.5 * (A + B); B = Math.sqrt(A * B); A = a2;
  }
  return 1 / A;
}
// build matrix and solve
var M = [], rhs = [];
for (var i = 0; i < NS; i++) {
  var row = [];
  for (var j = 0; j < NS; j++) row.push(agmPot(cr[i], cz[i], sr[j], sz[j]));
  M.push(row); rhs.push(1);
}
for (var c = 0; c < NS; c++) {
  var piv = c, best = Math.abs(M[c][c]);
  for (var r = c + 1; r < NS; r++) if (Math.abs(M[r][c]) > best) { best = Math.abs(M[r][c]); piv = r; }
  var tmp = M[c]; M[c] = M[piv]; M[piv] = tmp; var tb = rhs[c]; rhs[c] = rhs[piv]; rhs[piv] = tb;
  for (var r = c + 1; r < NS; r++) {
    var f = M[r][c] / M[c][c];
    if (f === 0) continue;
    for (var k = c; k < NS; k++) M[r][k] -= f * M[c][k];
    rhs[r] -= f * rhs[c];
  }
}
var q = new Array(NS);
for (var r = NS - 1; r >= 0; r--) {
  var s = rhs[r];
  for (var k = r + 1; k < NS; k++) s -= M[r][k] * q[k];
  q[r] = s / M[r][r];
}
for (var i = 0; i < NS; i++) q[i] *= V0;

// field at (rho, z): returns [V, Er, Ez]
var OUT = [0, 0, 0];
function field(r, z) {
  if (r < 1e-5) r = 1e-5;
  var V = 0, Er = 0, Ez = 0;
  for (var j = 0; j < NS; j++) {
    var rp = sr[j], dz = z - sz[j];
    var D2 = (r + rp) * (r + rp) + dz * dz;
    var d2 = (r - rp) * (r - rp) + dz * dz;
    var A = Math.sqrt(D2), B = Math.sqrt(d2);
    var S = 0.5 * (D2 - d2), p = 0.5;
    for (var k = 0; k < 30; k++) {
      var C = 0.5 * (A - B);
      if (Math.abs(C) <= 1e-13 * A) break;
      var a2 = 0.5 * (A + B); B = Math.sqrt(A * B); A = a2;
      p *= 2; S += p * C * C;
    }
    var inv = 1 / A;              // (2/pi) K / D
    var e = inv * (1 - S / D2);   // (2/pi) E / D
    var qq = q[j];
    V += qq * inv;
    Ez += qq * dz * e / d2;
    Er += qq * (inv + (r * r - rp * rp - dz * dz) * e / d2) / (2 * r);
  }
  OUT[0] = V; OUT[1] = Er; OUT[2] = Ez;
  return OUT;
}
function inside(r, z) { var u = r - RT; return u * u + z * z < AT * AT; }

// colormap: blue-cyan-green-yellow-red
function cmap(t, out, o) {
  if (!(t > 0)) t = 0; if (t > 1) t = 1;
  var r, g, b;
  if (t < 0.25) { r = 0; g = t * 4; b = 1; }
  else if (t < 0.5) { r = 0; g = 1; b = 1 - (t - 0.25) * 4; }
  else if (t < 0.75) { r = (t - 0.5) * 4; g = 1; b = 0; }
  else { r = 1; g = 1 - (t - 0.75) * 4; b = 0; }
  out[o] = Math.round(r * 255); out[o + 1] = Math.round(g * 255); out[o + 2] = Math.round(b * 255); out[o + 3] = 255;
}

var cv = document.getElementById('c');
var ctx = cv.getContext('2d');
var img = ctx.createImageData(685, 836);
var data = img.data;
for (var i = 3; i < data.length; i += 4) { data[i - 3] = 255; data[i - 2] = 255; data[i - 1] = 255; data[i] = 255; }

var AV = 0.336;
var TMP = [0, 0, 0, 0];
function mapRZ(plane, xd, zd, o) {
  if (plane === 'xy') { o[0] = Math.sqrt(xd * xd + zd * zd); o[1] = 0; }
  else if (plane === 'xz0') { o[0] = Math.abs(xd); o[1] = zd; }
  else { o[0] = Math.sqrt(xd * xd + 1); o[1] = zd; }
}
var RZ = [0, 0];
function tval(P, xd, zd) {
  mapRZ(P.plane, xd, zd, RZ);
  var r = RZ[0], z = RZ[1], u = r - RT, val;
  if (u * u + z * z < AV * AV) val = (P.kind === 'V') ? V0 : 0;
  else {
    var f = field(r, z);
    val = (P.kind === 'V') ? f[0] : Math.sqrt(f[1] * f[1] + f[2] * f[2]);
  }
  var t = (val - P.vmin) / (P.vmax - P.vmin);
  return t < 0 ? 0 : (t > 1 ? 1 : t);
}
for (var key in PANELS) {
  var P = PANELS[key];
  var x0 = Math.floor(P.L), x1 = Math.ceil(P.R), y0 = Math.floor(P.T), y1 = Math.ceil(P.B);
  var W = P.R - P.L, H = P.B - P.T;
  var dx = 4 / W, dz = 4 / H;
  for (var py = y0; py < y1; py++) {
    var zd = 2 - 4 * (py + 0.5 - P.T) / H;
    for (var px = x0; px < x1; px++) {
      var xd = -2 + 4 * (px + 0.5 - P.L) / W;
      mapRZ(P.plane, xd, zd, RZ);
      var u = RZ[0] - RT, sd = Math.sqrt(u * u + RZ[1] * RZ[1]) - AV;
      var o = (py * 685 + px) * 4;
      if (Math.abs(sd) < 0.75 * dx) {
        var ar = 0, ag = 0, ab = 0;
        for (var sy = 0; sy < 4; sy++) for (var sx = 0; sx < 4; sx++) {
          cmap(tval(P, xd + (sx - 1.5) / 4 * dx, zd - (sy - 1.5) / 4 * dz), TMP, 0);
          ar += TMP[0]; ag += TMP[1]; ab += TMP[2];
        }
        data[o] = Math.round(ar / 16); data[o + 1] = Math.round(ag / 16); data[o + 2] = Math.round(ab / 16); data[o + 3] = 255;
      } else cmap(tval(P, xd, zd), data, o);
    }
  }
  // colorbar
  var cx0 = Math.floor(P.cbx0), cx1 = Math.ceil(P.cbx1);
  for (var py = y0; py < y1; py++) {
    var t = 1 - (py + 0.5 - P.T) / H;
    t = (Math.floor(Math.min(Math.max(t, 0), 0.99999) * 96) + 0.5) / 96;
    for (var px = cx0; px < cx1; px++) cmap(t, data, (py * 685 + px) * 4);
  }
}
ctx.putImageData(img, 0, 0);
})();

</script>
</body></html>
